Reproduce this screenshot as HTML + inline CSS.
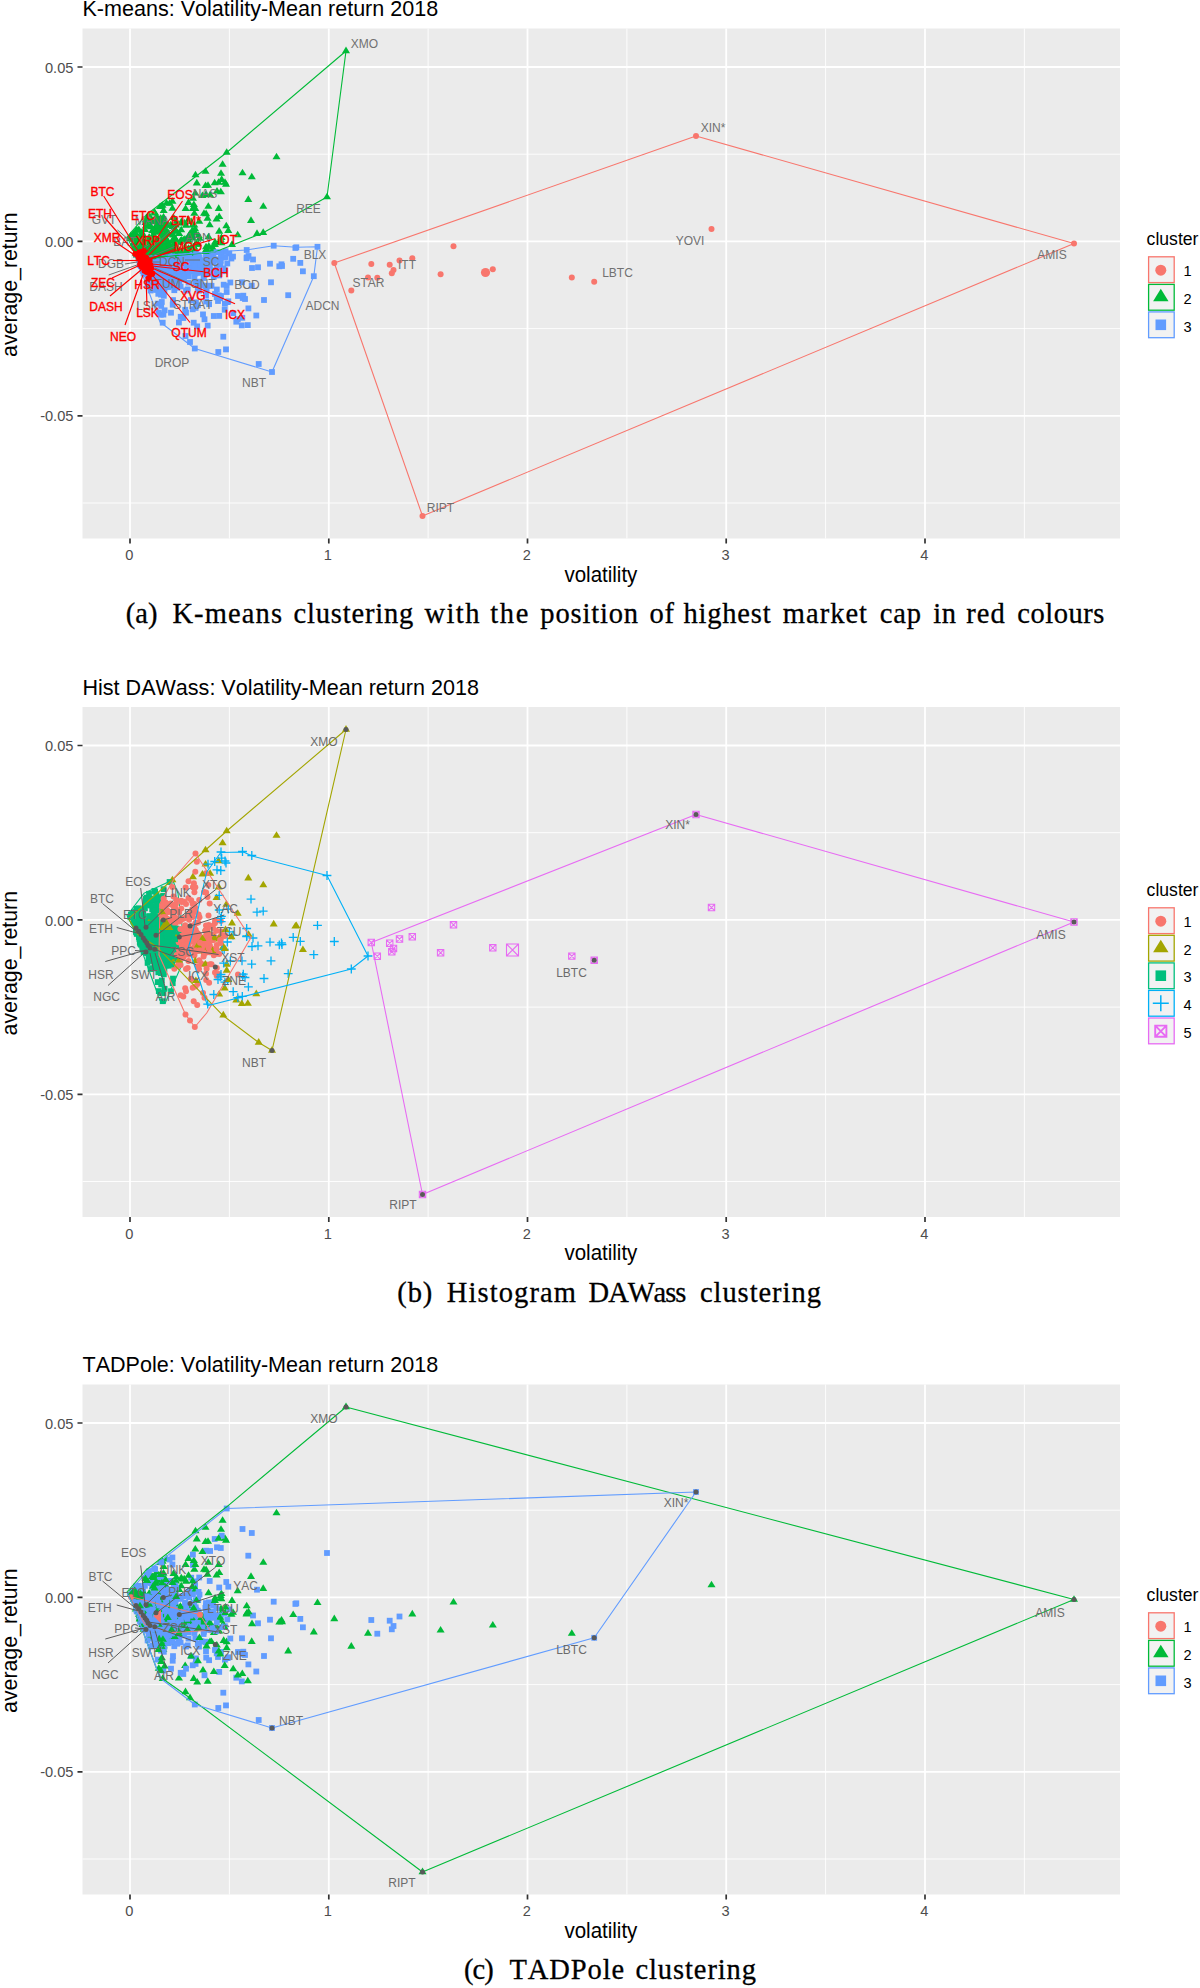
<!DOCTYPE html>
<html><head><meta charset="utf-8"><title>Clustering</title>
<style>html,body{margin:0;padding:0;background:#fff}svg{display:block}text{font-family:"Liberation Sans", Arial, sans-serif;font-kerning:none}text.cap{font-family:"Liberation Serif", "Times New Roman", serif}</style>
</head><body>
<svg width="1200" height="1988" viewBox="0 0 1200 1988">
<rect width="1200" height="1988" fill="#fff"/>
<g transform="translate(0,0)">
<rect x="82.5" y="28.5" width="1037.5" height="510" fill="#EBEBEB"/>
<path d="M229.4 28.5V538.5M428.1 28.5V538.5M626.9 28.5V538.5M825.6 28.5V538.5M1024.4 28.5V538.5M82.5 154.2H1120M82.5 328.6H1120M82.5 503H1120" stroke="#fff" stroke-width="0.9" fill="none"/>
<path d="M130 28.5V538.5M328.8 28.5V538.5M527.5 28.5V538.5M726.2 28.5V538.5M925 28.5V538.5M82.5 67H1120M82.5 241.4H1120M82.5 415.8H1120" stroke="#fff" stroke-width="1.8" fill="none"/>
<path d="M130 538.5v5M328.8 538.5v5M527.5 538.5v5M726.2 538.5v5M925 538.5v5M82.5 67h-5M82.5 241.4h-5M82.5 415.8h-5" stroke="#333" stroke-width="1.7" fill="none"/>
<g font-size="14.6" fill="#4D4D4D">
<text x="129.2" y="560.4" font-size="14.6" fill="#4D4D4D" text-anchor="middle">0</text>
<text x="327.9" y="560.4" font-size="14.6" fill="#4D4D4D" text-anchor="middle">1</text>
<text x="526.7" y="560.4" font-size="14.6" fill="#4D4D4D" text-anchor="middle">2</text>
<text x="725.5" y="560.4" font-size="14.6" fill="#4D4D4D" text-anchor="middle">3</text>
<text x="924.2" y="560.4" font-size="14.6" fill="#4D4D4D" text-anchor="middle">4</text>
<text x="73.4" y="72.6" font-size="14.6" fill="#4D4D4D" text-anchor="end">0.05</text>
<text x="73.4" y="247" font-size="14.6" fill="#4D4D4D" text-anchor="end">0.00</text>
<text x="73.4" y="421.4" font-size="14.6" fill="#4D4D4D" text-anchor="end">-0.05</text>
</g>
<text x="82.5" y="16.1" font-size="21.55" fill="#000">K-means: Volatility-Mean return 2018</text>
<text x="564.4" y="581.8" font-size="21.3" fill="#000" textLength="73" lengthAdjust="spacingAndGlyphs">volatility</text>
<text transform="translate(16.5,284.7) rotate(-90)" font-size="21.3" fill="#000" text-anchor="middle">average_return</text>
<text x="1146.6" y="245.3" font-size="17.6" fill="#000">cluster</text>
<rect x="1148.6" y="256.8" width="25.6" height="25.8" fill="#F2F2F2" stroke="#F8766D" stroke-width="1.3"/>
<circle cx="1160.8" cy="270.2" r="5.5" fill="#F8766D"/>
<text x="1183.6" y="276.4" font-size="14.6" fill="#000">1</text>
<rect x="1148.6" y="284.4" width="25.6" height="25.8" fill="#F2F2F2" stroke="#00BA38" stroke-width="1.3"/>
<path d="M1160.8 288.8L1168.5 301.2L1153.1 301.2Z" fill="#00BA38"/>
<text x="1183.6" y="303.9" font-size="14.6" fill="#000">2</text>
<rect x="1148.6" y="311.9" width="25.6" height="25.8" fill="#F2F2F2" stroke="#619CFF" stroke-width="1.3"/>
<rect x="1155.5" y="319.5" width="10.6" height="10.6" fill="#619CFF"/>
<text x="1183.6" y="331.5" font-size="14.6" fill="#000">3</text>
</g>
<text class="cap" y="623" font-size="28.5" fill="#000" stroke="#000" stroke-width="0.3"><tspan x="125.7" textLength="31.7" lengthAdjust="spacing">(a)</tspan> <tspan x="172.4" textLength="109.6" lengthAdjust="spacing">K-means</tspan> <tspan x="293.4" textLength="119.9" lengthAdjust="spacing">clustering</tspan> <tspan x="424.4" textLength="55" lengthAdjust="spacing">with</tspan> <tspan x="490.2" textLength="38.2" lengthAdjust="spacing">the</tspan> <tspan x="540.3" textLength="97.8" lengthAdjust="spacing">position</tspan> <tspan x="649.4" textLength="24.6" lengthAdjust="spacing">of</tspan> <tspan x="683.5" textLength="87.1" lengthAdjust="spacing">highest</tspan> <tspan x="782.8" textLength="84.2" lengthAdjust="spacing">market</tspan> <tspan x="879.8" textLength="41.2" lengthAdjust="spacing">cap</tspan> <tspan x="933.2" textLength="22.8" lengthAdjust="spacing">in</tspan> <tspan x="966.2" textLength="38.5" lengthAdjust="spacing">red</tspan> <tspan x="1017.3" textLength="87" lengthAdjust="spacing">colours</tspan></text>
<g transform="translate(0,678.5)">
<rect x="82.5" y="28.5" width="1037.5" height="510" fill="#EBEBEB"/>
<path d="M229.4 28.5V538.5M428.1 28.5V538.5M626.9 28.5V538.5M825.6 28.5V538.5M1024.4 28.5V538.5M82.5 154.2H1120M82.5 328.6H1120M82.5 503H1120" stroke="#fff" stroke-width="0.9" fill="none"/>
<path d="M130 28.5V538.5M328.8 28.5V538.5M527.5 28.5V538.5M726.2 28.5V538.5M925 28.5V538.5M82.5 67H1120M82.5 241.4H1120M82.5 415.8H1120" stroke="#fff" stroke-width="1.8" fill="none"/>
<path d="M130 538.5v5M328.8 538.5v5M527.5 538.5v5M726.2 538.5v5M925 538.5v5M82.5 67h-5M82.5 241.4h-5M82.5 415.8h-5" stroke="#333" stroke-width="1.7" fill="none"/>
<g font-size="14.6" fill="#4D4D4D">
<text x="129.2" y="560.4" font-size="14.6" fill="#4D4D4D" text-anchor="middle">0</text>
<text x="327.9" y="560.4" font-size="14.6" fill="#4D4D4D" text-anchor="middle">1</text>
<text x="526.7" y="560.4" font-size="14.6" fill="#4D4D4D" text-anchor="middle">2</text>
<text x="725.5" y="560.4" font-size="14.6" fill="#4D4D4D" text-anchor="middle">3</text>
<text x="924.2" y="560.4" font-size="14.6" fill="#4D4D4D" text-anchor="middle">4</text>
<text x="73.4" y="72.6" font-size="14.6" fill="#4D4D4D" text-anchor="end">0.05</text>
<text x="73.4" y="247" font-size="14.6" fill="#4D4D4D" text-anchor="end">0.00</text>
<text x="73.4" y="421.4" font-size="14.6" fill="#4D4D4D" text-anchor="end">-0.05</text>
</g>
<text x="82.5" y="16.1" font-size="21.55" fill="#000">Hist DAWass: Volatility-Mean return 2018</text>
<text x="564.4" y="581.8" font-size="21.3" fill="#000" textLength="73" lengthAdjust="spacingAndGlyphs">volatility</text>
<text transform="translate(16.5,284.7) rotate(-90)" font-size="21.3" fill="#000" text-anchor="middle">average_return</text>
<text x="1146.6" y="217.8" font-size="17.6" fill="#000">cluster</text>
<rect x="1148.6" y="229.3" width="25.6" height="25.8" fill="#F2F2F2" stroke="#F8766D" stroke-width="1.3"/>
<circle cx="1160.8" cy="242.7" r="5.5" fill="#F8766D"/>
<text x="1183.6" y="248.9" font-size="14.6" fill="#000">1</text>
<rect x="1148.6" y="256.8" width="25.6" height="25.8" fill="#F2F2F2" stroke="#A3A500" stroke-width="1.3"/>
<path d="M1160.8 261.2L1168.5 273.7L1153.1 273.7Z" fill="#A3A500"/>
<text x="1183.6" y="276.4" font-size="14.6" fill="#000">2</text>
<rect x="1148.6" y="284.4" width="25.6" height="25.8" fill="#F2F2F2" stroke="#00BF7D" stroke-width="1.3"/>
<rect x="1155.5" y="291.9" width="10.6" height="10.6" fill="#00BF7D"/>
<text x="1183.6" y="303.9" font-size="14.6" fill="#000">3</text>
<rect x="1148.6" y="311.9" width="25.6" height="25.8" fill="#F2F2F2" stroke="#00B0F6" stroke-width="1.3"/>
<path d="M1152.8 324.8H1168.8M1160.8 316.8V332.8" stroke="#00B0F6" stroke-width="1.5" fill="none"/>
<text x="1183.6" y="331.5" font-size="14.6" fill="#000">4</text>
<rect x="1148.6" y="339.5" width="25.6" height="25.8" fill="#F2F2F2" stroke="#E76BF3" stroke-width="1.3"/>
<path d="M1155.2 347.1H1166.4V358.3H1155.2ZM1155.2 347.1L1166.4 358.3M1155.2 358.3L1166.4 347.1" stroke="#E76BF3" stroke-width="1.9" fill="none"/>
<text x="1183.6" y="359.1" font-size="14.6" fill="#000">5</text>
</g>
<text class="cap" y="1301.5" font-size="28.5" fill="#000" stroke="#000" stroke-width="0.3"><tspan x="397.3" textLength="34.9" lengthAdjust="spacing">(b)</tspan> <tspan x="446.8" textLength="129.1" lengthAdjust="spacing">Histogram</tspan> <tspan x="588.6" textLength="97.7" lengthAdjust="spacing">DAWass</tspan> <tspan x="699.9" textLength="121" lengthAdjust="spacing">clustering</tspan></text>
<g transform="translate(0,1356)">
<rect x="82.5" y="28.5" width="1037.5" height="510" fill="#EBEBEB"/>
<path d="M229.4 28.5V538.5M428.1 28.5V538.5M626.9 28.5V538.5M825.6 28.5V538.5M1024.4 28.5V538.5M82.5 154.2H1120M82.5 328.6H1120M82.5 503H1120" stroke="#fff" stroke-width="0.9" fill="none"/>
<path d="M130 28.5V538.5M328.8 28.5V538.5M527.5 28.5V538.5M726.2 28.5V538.5M925 28.5V538.5M82.5 67H1120M82.5 241.4H1120M82.5 415.8H1120" stroke="#fff" stroke-width="1.8" fill="none"/>
<path d="M130 538.5v5M328.8 538.5v5M527.5 538.5v5M726.2 538.5v5M925 538.5v5M82.5 67h-5M82.5 241.4h-5M82.5 415.8h-5" stroke="#333" stroke-width="1.7" fill="none"/>
<g font-size="14.6" fill="#4D4D4D">
<text x="129.2" y="560.4" font-size="14.6" fill="#4D4D4D" text-anchor="middle">0</text>
<text x="327.9" y="560.4" font-size="14.6" fill="#4D4D4D" text-anchor="middle">1</text>
<text x="526.7" y="560.4" font-size="14.6" fill="#4D4D4D" text-anchor="middle">2</text>
<text x="725.5" y="560.4" font-size="14.6" fill="#4D4D4D" text-anchor="middle">3</text>
<text x="924.2" y="560.4" font-size="14.6" fill="#4D4D4D" text-anchor="middle">4</text>
<text x="73.4" y="72.6" font-size="14.6" fill="#4D4D4D" text-anchor="end">0.05</text>
<text x="73.4" y="247" font-size="14.6" fill="#4D4D4D" text-anchor="end">0.00</text>
<text x="73.4" y="421.4" font-size="14.6" fill="#4D4D4D" text-anchor="end">-0.05</text>
</g>
<text x="82.5" y="16.1" font-size="21.55" fill="#000">TADPole: Volatility-Mean return 2018</text>
<text x="564.4" y="581.8" font-size="21.3" fill="#000" textLength="73" lengthAdjust="spacingAndGlyphs">volatility</text>
<text transform="translate(16.5,284.7) rotate(-90)" font-size="21.3" fill="#000" text-anchor="middle">average_return</text>
<text x="1146.6" y="245.3" font-size="17.6" fill="#000">cluster</text>
<rect x="1148.6" y="256.8" width="25.6" height="25.8" fill="#F2F2F2" stroke="#F8766D" stroke-width="1.3"/>
<circle cx="1160.8" cy="270.2" r="5.5" fill="#F8766D"/>
<text x="1183.6" y="276.4" font-size="14.6" fill="#000">1</text>
<rect x="1148.6" y="284.4" width="25.6" height="25.8" fill="#F2F2F2" stroke="#00BA38" stroke-width="1.3"/>
<path d="M1160.8 288.8L1168.5 301.2L1153.1 301.2Z" fill="#00BA38"/>
<text x="1183.6" y="303.9" font-size="14.6" fill="#000">2</text>
<rect x="1148.6" y="311.9" width="25.6" height="25.8" fill="#F2F2F2" stroke="#619CFF" stroke-width="1.3"/>
<rect x="1155.5" y="319.5" width="10.6" height="10.6" fill="#619CFF"/>
<text x="1183.6" y="331.5" font-size="14.6" fill="#000">3</text>
</g>
<text class="cap" y="1979" font-size="28.5" fill="#000" stroke="#000" stroke-width="0.3"><tspan x="464" textLength="29.8" lengthAdjust="spacing">(c)</tspan> <tspan x="509.4" textLength="114.8" lengthAdjust="spacing">TADPole</tspan> <tspan x="635.5" textLength="120.5" lengthAdjust="spacing">clustering</tspan></text>
<g transform="translate(0,0)">
<path d="M207.1 247.4L211.2 253.9L203.1 253.9Z" fill="#00BA38"/>
<circle cx="422.5" cy="516" r="3" fill="#F8766D"/>
<rect x="151.7" y="279.4" width="5.8" height="5.8" fill="#619CFF"/>
<rect x="164.8" y="265.2" width="5.8" height="5.8" fill="#619CFF"/>
<path d="M192.9 194.3L197 200.8L188.9 200.8Z" fill="#00BA38"/>
<path d="M147.1 245.3L151.2 251.8L143.1 251.8Z" fill="#00BA38"/>
<rect x="173.1" y="264.4" width="5.8" height="5.8" fill="#619CFF"/>
<rect x="166.3" y="257" width="5.8" height="5.8" fill="#619CFF"/>
<path d="M146.9 248.7L150.9 255.2L142.8 255.2Z" fill="#00BA38"/>
<path d="M218.6 178.2L222.6 184.8L214.5 184.8Z" fill="#00BA38"/>
<rect x="194" y="256.8" width="5.8" height="5.8" fill="#619CFF"/>
<path d="M155.5 250.2L159.6 256.7L151.5 256.7Z" fill="#00BA38"/>
<path d="M163.6 216L167.7 222.5L159.6 222.5Z" fill="#00BA38"/>
<rect x="169.5" y="263.9" width="5.8" height="5.8" fill="#619CFF"/>
<path d="M206 245.7L210.1 252.2L202 252.2Z" fill="#00BA38"/>
<rect x="164.8" y="268.3" width="5.8" height="5.8" fill="#619CFF"/>
<rect x="181.9" y="272" width="5.8" height="5.8" fill="#619CFF"/>
<path d="M130.4 234.4L134.4 240.9L126.4 240.9Z" fill="#00BA38"/>
<rect x="176.6" y="257.7" width="5.8" height="5.8" fill="#619CFF"/>
<rect x="147.6" y="265.2" width="5.8" height="5.8" fill="#619CFF"/>
<rect x="170.1" y="297.2" width="5.8" height="5.8" fill="#619CFF"/>
<path d="M158.2 244.4L162.3 250.9L154.2 250.9Z" fill="#00BA38"/>
<path d="M157.4 240.7L161.4 247.2L153.3 247.2Z" fill="#00BA38"/>
<rect x="224.4" y="260.6" width="5.8" height="5.8" fill="#619CFF"/>
<path d="M173.1 241.4L177.2 248L169.1 248Z" fill="#00BA38"/>
<path d="M141.3 245.4L145.4 251.9L137.3 251.9Z" fill="#00BA38"/>
<rect x="221.9" y="267.3" width="5.8" height="5.8" fill="#619CFF"/>
<rect x="163.2" y="255.8" width="5.8" height="5.8" fill="#619CFF"/>
<path d="M208 181.2L212 187.8L204 187.8Z" fill="#00BA38"/>
<rect x="157.4" y="272.9" width="5.8" height="5.8" fill="#619CFF"/>
<path d="M191.3 247.1L195.4 253.7L187.3 253.7Z" fill="#00BA38"/>
<path d="M145.5 241.6L149.6 248.1L141.5 248.1Z" fill="#00BA38"/>
<path d="M154.4 248.9L158.4 255.5L150.3 255.5Z" fill="#00BA38"/>
<rect x="195.8" y="253.1" width="5.8" height="5.8" fill="#619CFF"/>
<rect x="172.1" y="263.7" width="5.8" height="5.8" fill="#619CFF"/>
<path d="M158.1 243.1L162.2 249.6L154.1 249.6Z" fill="#00BA38"/>
<path d="M141.4 252.6L145.4 259.2L137.4 259.2Z" fill="#00BA38"/>
<path d="M147.6 251.3L151.7 257.8L143.6 257.8Z" fill="#00BA38"/>
<rect x="165.3" y="260.2" width="5.8" height="5.8" fill="#619CFF"/>
<rect x="160.5" y="311.7" width="5.8" height="5.8" fill="#619CFF"/>
<path d="M159.9 243.8L164 250.3L155.9 250.3Z" fill="#00BA38"/>
<rect x="195.5" y="265.8" width="5.8" height="5.8" fill="#619CFF"/>
<path d="M179.1 229.5L183.2 236.1L175.1 236.1Z" fill="#00BA38"/>
<path d="M168.9 239.4L172.9 245.9L164.8 245.9Z" fill="#00BA38"/>
<rect x="180" y="275.9" width="5.8" height="5.8" fill="#619CFF"/>
<rect x="177.2" y="274.7" width="5.8" height="5.8" fill="#619CFF"/>
<path d="M193 234L197 240.6L188.9 240.6Z" fill="#00BA38"/>
<rect x="166.9" y="271.3" width="5.8" height="5.8" fill="#619CFF"/>
<rect x="158.1" y="277.1" width="5.8" height="5.8" fill="#619CFF"/>
<path d="M152.4 249.2L156.5 255.7L148.4 255.7Z" fill="#00BA38"/>
<rect x="160.5" y="290.8" width="5.8" height="5.8" fill="#619CFF"/>
<rect x="203.8" y="256.7" width="5.8" height="5.8" fill="#619CFF"/>
<rect x="145.7" y="275.9" width="5.8" height="5.8" fill="#619CFF"/>
<rect x="169.8" y="301.8" width="5.8" height="5.8" fill="#619CFF"/>
<rect x="146.1" y="257.2" width="5.8" height="5.8" fill="#619CFF"/>
<path d="M185.1 243.7L189.2 250.2L181.1 250.2Z" fill="#00BA38"/>
<rect x="174.8" y="265.5" width="5.8" height="5.8" fill="#619CFF"/>
<rect x="141.9" y="256.5" width="5.8" height="5.8" fill="#619CFF"/>
<rect x="206" y="256.9" width="5.8" height="5.8" fill="#619CFF"/>
<path d="M161.9 222.7L166 229.2L157.9 229.2Z" fill="#00BA38"/>
<rect x="168.4" y="274.5" width="5.8" height="5.8" fill="#619CFF"/>
<rect x="190.5" y="255.5" width="5.8" height="5.8" fill="#619CFF"/>
<rect x="297.4" y="260" width="5.8" height="5.8" fill="#619CFF"/>
<rect x="188.9" y="259.2" width="5.8" height="5.8" fill="#619CFF"/>
<path d="M179.7 248.2L183.8 254.7L175.7 254.7Z" fill="#00BA38"/>
<path d="M162.5 201.3L166.6 207.8L158.5 207.8Z" fill="#00BA38"/>
<rect x="222.4" y="254.1" width="5.8" height="5.8" fill="#619CFF"/>
<path d="M221.7 175.3L225.7 181.9L217.6 181.9Z" fill="#00BA38"/>
<rect x="159.2" y="258.5" width="5.8" height="5.8" fill="#619CFF"/>
<path d="M176.2 236.5L180.2 243L172.1 243Z" fill="#00BA38"/>
<path d="M168.9 250.7L173 257.3L164.9 257.3Z" fill="#00BA38"/>
<path d="M208.8 242L212.8 248.6L204.7 248.6Z" fill="#00BA38"/>
<rect x="191" y="266" width="5.8" height="5.8" fill="#619CFF"/>
<rect x="188.1" y="297.5" width="5.8" height="5.8" fill="#619CFF"/>
<rect x="172.1" y="257.2" width="5.8" height="5.8" fill="#619CFF"/>
<path d="M146.7 249.8L150.7 256.3L142.7 256.3Z" fill="#00BA38"/>
<path d="M188.5 215.2L192.6 221.8L184.5 221.8Z" fill="#00BA38"/>
<rect x="185.5" y="262.3" width="5.8" height="5.8" fill="#619CFF"/>
<rect x="156.7" y="258.7" width="5.8" height="5.8" fill="#619CFF"/>
<path d="M193.9 200.4L197.9 206.9L189.8 206.9Z" fill="#00BA38"/>
<rect x="194.3" y="323.5" width="5.8" height="5.8" fill="#619CFF"/>
<path d="M171.9 244L176 250.5L167.9 250.5Z" fill="#00BA38"/>
<path d="M175.5 236.7L179.5 243.3L171.4 243.3Z" fill="#00BA38"/>
<path d="M189.7 229.9L193.7 236.4L185.7 236.4Z" fill="#00BA38"/>
<rect x="152.7" y="259.8" width="5.8" height="5.8" fill="#619CFF"/>
<rect x="213.8" y="294.4" width="5.8" height="5.8" fill="#619CFF"/>
<rect x="144.7" y="281.5" width="5.8" height="5.8" fill="#619CFF"/>
<rect x="171.2" y="272.3" width="5.8" height="5.8" fill="#619CFF"/>
<rect x="145.2" y="271.1" width="5.8" height="5.8" fill="#619CFF"/>
<path d="M150.4 250L154.5 256.6L146.4 256.6Z" fill="#00BA38"/>
<path d="M140.3 233.2L144.3 239.8L136.2 239.8Z" fill="#00BA38"/>
<rect x="184.3" y="271" width="5.8" height="5.8" fill="#619CFF"/>
<path d="M170.8 246.9L174.9 253.4L166.8 253.4Z" fill="#00BA38"/>
<path d="M165 250.7L169 257.2L161 257.2Z" fill="#00BA38"/>
<rect x="314.6" y="243.9" width="5.8" height="5.8" fill="#619CFF"/>
<rect x="156.2" y="269" width="5.8" height="5.8" fill="#619CFF"/>
<rect x="151.9" y="255.7" width="5.8" height="5.8" fill="#619CFF"/>
<path d="M208.5 232.7L212.6 239.2L204.5 239.2Z" fill="#00BA38"/>
<path d="M192.2 226.5L196.3 233L188.2 233Z" fill="#00BA38"/>
<rect x="173.1" y="254.6" width="5.8" height="5.8" fill="#619CFF"/>
<rect x="161.1" y="261" width="5.8" height="5.8" fill="#619CFF"/>
<path d="M146.7 214.7L150.7 221.2L142.6 221.2Z" fill="#00BA38"/>
<rect x="172.2" y="257.8" width="5.8" height="5.8" fill="#619CFF"/>
<rect x="152.1" y="271.1" width="5.8" height="5.8" fill="#619CFF"/>
<path d="M193.7 248.1L197.7 254.6L189.6 254.6Z" fill="#00BA38"/>
<path d="M150.5 241.2L154.6 247.7L146.5 247.7Z" fill="#00BA38"/>
<rect x="165.4" y="257.4" width="5.8" height="5.8" fill="#619CFF"/>
<path d="M160.5 239.3L164.5 245.8L156.4 245.8Z" fill="#00BA38"/>
<path d="M175.2 225.2L179.2 231.7L171.1 231.7Z" fill="#00BA38"/>
<path d="M138.2 250.3L142.3 256.8L134.2 256.8Z" fill="#00BA38"/>
<rect x="158.9" y="299.1" width="5.8" height="5.8" fill="#619CFF"/>
<path d="M195.1 224.7L199.1 231.2L191 231.2Z" fill="#00BA38"/>
<path d="M176.7 245.8L180.7 252.4L172.6 252.4Z" fill="#00BA38"/>
<path d="M149.5 233.5L153.6 240L145.5 240Z" fill="#00BA38"/>
<rect x="177.9" y="258.1" width="5.8" height="5.8" fill="#619CFF"/>
<rect x="153" y="262.4" width="5.8" height="5.8" fill="#619CFF"/>
<path d="M145 252.9L149 259.4L140.9 259.4Z" fill="#00BA38"/>
<rect x="200.1" y="257.8" width="5.8" height="5.8" fill="#619CFF"/>
<rect x="178.8" y="255.5" width="5.8" height="5.8" fill="#619CFF"/>
<rect x="205.6" y="266.4" width="5.8" height="5.8" fill="#619CFF"/>
<rect x="139.7" y="268" width="5.8" height="5.8" fill="#619CFF"/>
<rect x="143.3" y="257.8" width="5.8" height="5.8" fill="#619CFF"/>
<rect x="153.8" y="266.2" width="5.8" height="5.8" fill="#619CFF"/>
<path d="M148.5 248.9L152.5 255.4L144.4 255.4Z" fill="#00BA38"/>
<path d="M160.5 249.4L164.5 255.9L156.4 255.9Z" fill="#00BA38"/>
<rect x="226.4" y="250.5" width="5.8" height="5.8" fill="#619CFF"/>
<rect x="215.3" y="256.5" width="5.8" height="5.8" fill="#619CFF"/>
<path d="M154.8 247.1L158.9 253.6L150.8 253.6Z" fill="#00BA38"/>
<path d="M183.3 235.8L187.3 242.4L179.2 242.4Z" fill="#00BA38"/>
<path d="M152.4 234.9L156.4 241.4L148.3 241.4Z" fill="#00BA38"/>
<path d="M143.8 253.4L147.9 259.9L139.8 259.9Z" fill="#00BA38"/>
<rect x="137.4" y="259.5" width="5.8" height="5.8" fill="#619CFF"/>
<rect x="154.2" y="286.9" width="5.8" height="5.8" fill="#619CFF"/>
<path d="M163.6 206.4L167.7 212.9L159.6 212.9Z" fill="#00BA38"/>
<path d="M148.6 251.2L152.7 257.7L144.6 257.7Z" fill="#00BA38"/>
<rect x="160.3" y="259.1" width="5.8" height="5.8" fill="#619CFF"/>
<rect x="155.4" y="285.3" width="5.8" height="5.8" fill="#619CFF"/>
<path d="M157.2 250.2L161.2 256.8L153.1 256.8Z" fill="#00BA38"/>
<path d="M148 248.6L152.1 255.2L144 255.2Z" fill="#00BA38"/>
<path d="M166.5 250.6L170.5 257.1L162.4 257.1Z" fill="#00BA38"/>
<path d="M190.9 233.4L195 240L186.9 240Z" fill="#00BA38"/>
<rect x="152.5" y="264.1" width="5.8" height="5.8" fill="#619CFF"/>
<rect x="175.9" y="278.7" width="5.8" height="5.8" fill="#619CFF"/>
<path d="M194.3 221L198.3 227.6L190.2 227.6Z" fill="#00BA38"/>
<path d="M257 229.3L261 235.9L253 235.9Z" fill="#00BA38"/>
<rect x="205.1" y="250.2" width="5.8" height="5.8" fill="#619CFF"/>
<path d="M143.6 251.8L147.6 258.3L139.5 258.3Z" fill="#00BA38"/>
<path d="M148.4 249.4L152.4 255.9L144.3 255.9Z" fill="#00BA38"/>
<path d="M145.5 218.5L149.6 225L141.5 225Z" fill="#00BA38"/>
<rect x="230.3" y="310.3" width="5.8" height="5.8" fill="#619CFF"/>
<path d="M165.2 249.2L169.2 255.7L161.1 255.7Z" fill="#00BA38"/>
<rect x="157.1" y="258.8" width="5.8" height="5.8" fill="#619CFF"/>
<path d="M175 239.9L179 246.4L170.9 246.4Z" fill="#00BA38"/>
<rect x="139.6" y="261.2" width="5.8" height="5.8" fill="#619CFF"/>
<rect x="180" y="276.6" width="5.8" height="5.8" fill="#619CFF"/>
<rect x="151.4" y="263.8" width="5.8" height="5.8" fill="#619CFF"/>
<rect x="239.4" y="314.9" width="5.8" height="5.8" fill="#619CFF"/>
<path d="M191.3 247.7L195.4 254.2L187.3 254.2Z" fill="#00BA38"/>
<path d="M143.7 251.7L147.8 258.2L139.7 258.2Z" fill="#00BA38"/>
<rect x="192.7" y="305" width="5.8" height="5.8" fill="#619CFF"/>
<rect x="188.2" y="297.3" width="5.8" height="5.8" fill="#619CFF"/>
<rect x="167.8" y="263.2" width="5.8" height="5.8" fill="#619CFF"/>
<path d="M192.2 231.5L196.2 238L188.2 238Z" fill="#00BA38"/>
<path d="M150.1 240.1L154.2 246.7L146.1 246.7Z" fill="#00BA38"/>
<path d="M183 247.6L187 254.1L178.9 254.1Z" fill="#00BA38"/>
<rect x="138.2" y="260.1" width="5.8" height="5.8" fill="#619CFF"/>
<rect x="255.1" y="264.4" width="5.8" height="5.8" fill="#619CFF"/>
<path d="M185.6 204.6L189.7 211.1L181.6 211.1Z" fill="#00BA38"/>
<path d="M163.6 219.8L167.6 226.3L159.5 226.3Z" fill="#00BA38"/>
<rect x="199" y="264.8" width="5.8" height="5.8" fill="#619CFF"/>
<rect x="150.6" y="258.8" width="5.8" height="5.8" fill="#619CFF"/>
<rect x="156.9" y="256" width="5.8" height="5.8" fill="#619CFF"/>
<rect x="141.3" y="259.4" width="5.8" height="5.8" fill="#619CFF"/>
<path d="M150.2 250.4L154.2 256.9L146.1 256.9Z" fill="#00BA38"/>
<rect x="181.5" y="265.7" width="5.8" height="5.8" fill="#619CFF"/>
<path d="M149.3 236.7L153.4 243.2L145.3 243.2Z" fill="#00BA38"/>
<path d="M142.5 238.3L146.6 244.8L138.5 244.8Z" fill="#00BA38"/>
<path d="M140.1 250.3L144.1 256.8L136 256.8Z" fill="#00BA38"/>
<rect x="151.8" y="273" width="5.8" height="5.8" fill="#619CFF"/>
<path d="M147.4 253.3L151.5 259.8L143.4 259.8Z" fill="#00BA38"/>
<path d="M136.8 251L140.9 257.6L132.8 257.6Z" fill="#00BA38"/>
<path d="M162.1 229.5L166.2 236L158.1 236Z" fill="#00BA38"/>
<path d="M152.2 246.5L156.2 253.1L148.1 253.1Z" fill="#00BA38"/>
<rect x="187.1" y="339.1" width="5.8" height="5.8" fill="#619CFF"/>
<rect x="206.4" y="264.7" width="5.8" height="5.8" fill="#619CFF"/>
<rect x="167.1" y="266.9" width="5.8" height="5.8" fill="#619CFF"/>
<rect x="155.6" y="256.5" width="5.8" height="5.8" fill="#619CFF"/>
<rect x="239.8" y="295.1" width="5.8" height="5.8" fill="#619CFF"/>
<path d="M193.8 242.7L197.8 249.2L189.8 249.2Z" fill="#00BA38"/>
<rect x="178.1" y="260.6" width="5.8" height="5.8" fill="#619CFF"/>
<rect x="213.2" y="272.3" width="5.8" height="5.8" fill="#619CFF"/>
<rect x="310.9" y="273.3" width="5.8" height="5.8" fill="#619CFF"/>
<path d="M145.2 250L149.2 256.5L141.2 256.5Z" fill="#00BA38"/>
<path d="M220.7 235.4L224.7 242L216.6 242Z" fill="#00BA38"/>
<rect x="143.1" y="263.5" width="5.8" height="5.8" fill="#619CFF"/>
<path d="M207.1 246.1L211.1 252.6L203 252.6Z" fill="#00BA38"/>
<path d="M155 227.9L159.1 234.4L151 234.4Z" fill="#00BA38"/>
<rect x="190" y="268.4" width="5.8" height="5.8" fill="#619CFF"/>
<path d="M168.7 229.1L172.7 235.6L164.7 235.6Z" fill="#00BA38"/>
<path d="M204 209.2L208 215.8L200 215.8Z" fill="#00BA38"/>
<path d="M137.1 226.3L141.1 232.8L133.1 232.8Z" fill="#00BA38"/>
<rect x="155.9" y="265.5" width="5.8" height="5.8" fill="#619CFF"/>
<rect x="192.1" y="255.1" width="5.8" height="5.8" fill="#619CFF"/>
<rect x="255.8" y="361.1" width="5.8" height="5.8" fill="#619CFF"/>
<rect x="217.6" y="261.6" width="5.8" height="5.8" fill="#619CFF"/>
<rect x="220.4" y="333.8" width="5.8" height="5.8" fill="#619CFF"/>
<path d="M174.9 238.8L178.9 245.3L170.8 245.3Z" fill="#00BA38"/>
<path d="M139.6 249.1L143.7 255.6L135.6 255.6Z" fill="#00BA38"/>
<rect x="200.7" y="275.1" width="5.8" height="5.8" fill="#619CFF"/>
<rect x="144.7" y="258.7" width="5.8" height="5.8" fill="#619CFF"/>
<rect x="171.2" y="276.4" width="5.8" height="5.8" fill="#619CFF"/>
<rect x="151.7" y="261.3" width="5.8" height="5.8" fill="#619CFF"/>
<rect x="146.6" y="275" width="5.8" height="5.8" fill="#619CFF"/>
<path d="M218.7 204.3L222.7 210.9L214.7 210.9Z" fill="#00BA38"/>
<path d="M176.3 251.3L180.3 257.9L172.2 257.9Z" fill="#00BA38"/>
<path d="M276.5 152.7L280.5 159.2L272.5 159.2Z" fill="#00BA38"/>
<path d="M151.6 244.5L155.6 251L147.5 251Z" fill="#00BA38"/>
<path d="M170.7 220.7L174.7 227.2L166.6 227.2Z" fill="#00BA38"/>
<rect x="163" y="268" width="5.8" height="5.8" fill="#619CFF"/>
<path d="M151.7 236.5L155.7 243.1L147.6 243.1Z" fill="#00BA38"/>
<rect x="213.7" y="267.9" width="5.8" height="5.8" fill="#619CFF"/>
<path d="M141.1 252.8L145.2 259.3L137.1 259.3Z" fill="#00BA38"/>
<rect x="276.4" y="263.4" width="5.8" height="5.8" fill="#619CFF"/>
<rect x="142.2" y="260.9" width="5.8" height="5.8" fill="#619CFF"/>
<path d="M157.3 247.3L161.4 253.8L153.3 253.8Z" fill="#00BA38"/>
<rect x="173.2" y="256.8" width="5.8" height="5.8" fill="#619CFF"/>
<path d="M220.8 238.2L224.8 244.7L216.7 244.7Z" fill="#00BA38"/>
<rect x="204.3" y="261.9" width="5.8" height="5.8" fill="#619CFF"/>
<path d="M138.6 233.5L142.6 240L134.5 240Z" fill="#00BA38"/>
<rect x="218.1" y="254.5" width="5.8" height="5.8" fill="#619CFF"/>
<path d="M198.2 239.7L202.3 246.2L194.2 246.2Z" fill="#00BA38"/>
<path d="M152.1 246.7L156.2 253.3L148.1 253.3Z" fill="#00BA38"/>
<rect x="171.4" y="287.3" width="5.8" height="5.8" fill="#619CFF"/>
<path d="M154 253.1L158.1 259.6L150 259.6Z" fill="#00BA38"/>
<rect x="216.3" y="313" width="5.8" height="5.8" fill="#619CFF"/>
<path d="M166.7 251.9L170.7 258.5L162.6 258.5Z" fill="#00BA38"/>
<path d="M150.2 251.2L154.3 257.7L146.2 257.7Z" fill="#00BA38"/>
<rect x="166.4" y="256.1" width="5.8" height="5.8" fill="#619CFF"/>
<path d="M144.7 253.2L148.7 259.7L140.6 259.7Z" fill="#00BA38"/>
<path d="M150 245.5L154 252L145.9 252Z" fill="#00BA38"/>
<path d="M175.3 234.6L179.3 241.2L171.2 241.2Z" fill="#00BA38"/>
<path d="M162.3 244.9L166.4 251.4L158.3 251.4Z" fill="#00BA38"/>
<rect x="140.4" y="267.7" width="5.8" height="5.8" fill="#619CFF"/>
<path d="M184 248.3L188 254.8L179.9 254.8Z" fill="#00BA38"/>
<rect x="220.8" y="281.8" width="5.8" height="5.8" fill="#619CFF"/>
<rect x="149" y="255.5" width="5.8" height="5.8" fill="#619CFF"/>
<rect x="148.4" y="279.5" width="5.8" height="5.8" fill="#619CFF"/>
<path d="M152.5 239.4L156.5 245.9L148.5 245.9Z" fill="#00BA38"/>
<rect x="158.3" y="303" width="5.8" height="5.8" fill="#619CFF"/>
<path d="M189.1 237L193.1 243.5L185 243.5Z" fill="#00BA38"/>
<rect x="300" y="268.4" width="5.8" height="5.8" fill="#619CFF"/>
<path d="M164.4 234.4L168.4 241L160.3 241Z" fill="#00BA38"/>
<rect x="140.6" y="256.8" width="5.8" height="5.8" fill="#619CFF"/>
<rect x="155.8" y="257.3" width="5.8" height="5.8" fill="#619CFF"/>
<rect x="176.1" y="278.8" width="5.8" height="5.8" fill="#619CFF"/>
<path d="M177.2 247.9L181.2 254.4L173.1 254.4Z" fill="#00BA38"/>
<rect x="165.6" y="265.3" width="5.8" height="5.8" fill="#619CFF"/>
<rect x="203.7" y="255.7" width="5.8" height="5.8" fill="#619CFF"/>
<rect x="158.3" y="274.9" width="5.8" height="5.8" fill="#619CFF"/>
<rect x="162.3" y="260.5" width="5.8" height="5.8" fill="#619CFF"/>
<path d="M151.9 251L156 257.5L147.9 257.5Z" fill="#00BA38"/>
<rect x="149.1" y="278.6" width="5.8" height="5.8" fill="#619CFF"/>
<rect x="151.2" y="278.2" width="5.8" height="5.8" fill="#619CFF"/>
<path d="M166.2 252.1L170.2 258.7L162.1 258.7Z" fill="#00BA38"/>
<rect x="145" y="259" width="5.8" height="5.8" fill="#619CFF"/>
<circle cx="711.5" cy="229" r="3" fill="#F8766D"/>
<rect x="145.1" y="265.3" width="5.8" height="5.8" fill="#619CFF"/>
<path d="M188.6 232.1L192.7 238.6L184.6 238.6Z" fill="#00BA38"/>
<rect x="151.6" y="264.5" width="5.8" height="5.8" fill="#619CFF"/>
<path d="M154 237.3L158.1 243.9L150 243.9Z" fill="#00BA38"/>
<path d="M147.7 252L151.7 258.6L143.6 258.6Z" fill="#00BA38"/>
<path d="M165.2 248.5L169.3 255.1L161.2 255.1Z" fill="#00BA38"/>
<rect x="209.3" y="267.4" width="5.8" height="5.8" fill="#619CFF"/>
<path d="M173 241.2L177.1 247.7L169 247.7Z" fill="#00BA38"/>
<path d="M181.2 225.7L185.2 232.3L177.1 232.3Z" fill="#00BA38"/>
<path d="M136.8 243.6L140.9 250.1L132.8 250.1Z" fill="#00BA38"/>
<path d="M176.5 250.9L180.6 257.4L172.5 257.4Z" fill="#00BA38"/>
<path d="M139.6 247.6L143.6 254.1L135.5 254.1Z" fill="#00BA38"/>
<rect x="184.8" y="286.5" width="5.8" height="5.8" fill="#619CFF"/>
<path d="M149.8 245.7L153.8 252.3L145.7 252.3Z" fill="#00BA38"/>
<path d="M138.4 234.1L142.5 240.7L134.4 240.7Z" fill="#00BA38"/>
<circle cx="371.3" cy="264" r="3" fill="#F8766D"/>
<rect x="184.3" y="264.6" width="5.8" height="5.8" fill="#619CFF"/>
<path d="M140.5 245.7L144.5 252.2L136.4 252.2Z" fill="#00BA38"/>
<rect x="167.1" y="255.4" width="5.8" height="5.8" fill="#619CFF"/>
<path d="M156.4 243.2L160.4 249.8L152.4 249.8Z" fill="#00BA38"/>
<path d="M172.3 251.7L176.3 258.2L168.2 258.2Z" fill="#00BA38"/>
<rect x="191.2" y="254.1" width="5.8" height="5.8" fill="#619CFF"/>
<path d="M167 227.2L171 233.8L162.9 233.8Z" fill="#00BA38"/>
<rect x="160.8" y="287.3" width="5.8" height="5.8" fill="#619CFF"/>
<path d="M168.3 251.8L172.3 258.3L164.2 258.3Z" fill="#00BA38"/>
<rect x="155.9" y="262.2" width="5.8" height="5.8" fill="#619CFF"/>
<circle cx="453.5" cy="246.3" r="3" fill="#F8766D"/>
<rect x="201" y="272.9" width="5.8" height="5.8" fill="#619CFF"/>
<rect x="176.2" y="268.9" width="5.8" height="5.8" fill="#619CFF"/>
<path d="M174.9 248.7L179 255.2L170.9 255.2Z" fill="#00BA38"/>
<rect x="222.6" y="248.4" width="5.8" height="5.8" fill="#619CFF"/>
<rect x="173.3" y="273.2" width="5.8" height="5.8" fill="#619CFF"/>
<path d="M141.7 250.8L145.8 257.3L137.7 257.3Z" fill="#00BA38"/>
<rect x="156.3" y="280.2" width="5.8" height="5.8" fill="#619CFF"/>
<path d="M143 248.6L147 255.1L138.9 255.1Z" fill="#00BA38"/>
<rect x="166.3" y="276" width="5.8" height="5.8" fill="#619CFF"/>
<path d="M147.5 247.2L151.5 253.7L143.5 253.7Z" fill="#00BA38"/>
<path d="M160.7 243.2L164.8 249.7L156.7 249.7Z" fill="#00BA38"/>
<rect x="194.9" y="284.9" width="5.8" height="5.8" fill="#619CFF"/>
<rect x="146.4" y="262.1" width="5.8" height="5.8" fill="#619CFF"/>
<rect x="185.4" y="270.7" width="5.8" height="5.8" fill="#619CFF"/>
<path d="M202.4 191.5L206.4 198.1L198.4 198.1Z" fill="#00BA38"/>
<path d="M137.1 249.3L141.2 255.9L133.1 255.9Z" fill="#00BA38"/>
<rect x="166.4" y="272.4" width="5.8" height="5.8" fill="#619CFF"/>
<path d="M143.1 247.8L147.1 254.3L139 254.3Z" fill="#00BA38"/>
<path d="M175.5 240.6L179.6 247.2L171.5 247.2Z" fill="#00BA38"/>
<circle cx="351.3" cy="290.5" r="3" fill="#F8766D"/>
<path d="M138.3 235.9L142.4 242.4L134.3 242.4Z" fill="#00BA38"/>
<circle cx="368" cy="277.5" r="3" fill="#F8766D"/>
<rect x="192" y="255.4" width="5.8" height="5.8" fill="#619CFF"/>
<path d="M162.4 246.9L166.5 253.4L158.4 253.4Z" fill="#00BA38"/>
<rect x="155.1" y="254.7" width="5.8" height="5.8" fill="#619CFF"/>
<path d="M169.4 243.8L173.5 250.3L165.4 250.3Z" fill="#00BA38"/>
<path d="M346 46.6L350 53.2L342 53.2Z" fill="#00BA38"/>
<rect x="221.3" y="267.9" width="5.8" height="5.8" fill="#619CFF"/>
<rect x="218.1" y="250" width="5.8" height="5.8" fill="#619CFF"/>
<path d="M184.2 218.8L188.2 225.3L180.1 225.3Z" fill="#00BA38"/>
<rect x="239.1" y="279.4" width="5.8" height="5.8" fill="#619CFF"/>
<rect x="253.4" y="312.6" width="5.8" height="5.8" fill="#619CFF"/>
<path d="M242.5 168.7L246.5 175.2L238.5 175.2Z" fill="#00BA38"/>
<rect x="210.9" y="313.1" width="5.8" height="5.8" fill="#619CFF"/>
<rect x="182.6" y="333.1" width="5.8" height="5.8" fill="#619CFF"/>
<path d="M163.5 233.4L167.5 239.9L159.4 239.9Z" fill="#00BA38"/>
<path d="M188.5 198.3L192.6 204.9L184.5 204.9Z" fill="#00BA38"/>
<rect x="170.5" y="273.2" width="5.8" height="5.8" fill="#619CFF"/>
<rect x="164.1" y="257.5" width="5.8" height="5.8" fill="#619CFF"/>
<rect x="203.1" y="253.9" width="5.8" height="5.8" fill="#619CFF"/>
<path d="M155.2 223.3L159.2 229.8L151.1 229.8Z" fill="#00BA38"/>
<rect x="147.2" y="265.1" width="5.8" height="5.8" fill="#619CFF"/>
<path d="M130.9 231.6L135 238.2L126.9 238.2Z" fill="#00BA38"/>
<rect x="207.8" y="268.3" width="5.8" height="5.8" fill="#619CFF"/>
<rect x="243.8" y="247.1" width="5.8" height="5.8" fill="#619CFF"/>
<path d="M161.6 240.4L165.7 247L157.6 247Z" fill="#00BA38"/>
<rect x="146.1" y="259.9" width="5.8" height="5.8" fill="#619CFF"/>
<path d="M145.8 216.1L149.8 222.6L141.7 222.6Z" fill="#00BA38"/>
<path d="M176.3 217L180.4 223.5L172.3 223.5Z" fill="#00BA38"/>
<rect x="185" y="253.2" width="5.8" height="5.8" fill="#619CFF"/>
<path d="M139.3 241L143.3 247.5L135.2 247.5Z" fill="#00BA38"/>
<rect x="186.4" y="268" width="5.8" height="5.8" fill="#619CFF"/>
<path d="M155.1 208.9L159.1 215.4L151 215.4Z" fill="#00BA38"/>
<rect x="161" y="273.1" width="5.8" height="5.8" fill="#619CFF"/>
<rect x="163.2" y="284" width="5.8" height="5.8" fill="#619CFF"/>
<rect x="137.2" y="262.2" width="5.8" height="5.8" fill="#619CFF"/>
<rect x="217.3" y="295.4" width="5.8" height="5.8" fill="#619CFF"/>
<path d="M158.5 242.4L162.6 248.9L154.5 248.9Z" fill="#00BA38"/>
<rect x="147.9" y="279" width="5.8" height="5.8" fill="#619CFF"/>
<circle cx="1074" cy="243.5" r="3" fill="#F8766D"/>
<rect x="168.7" y="260.9" width="5.8" height="5.8" fill="#619CFF"/>
<rect x="202.4" y="282.8" width="5.8" height="5.8" fill="#619CFF"/>
<rect x="206.6" y="253.9" width="5.8" height="5.8" fill="#619CFF"/>
<path d="M147.9 246.8L151.9 253.3L143.8 253.3Z" fill="#00BA38"/>
<rect x="164.1" y="283.6" width="5.8" height="5.8" fill="#619CFF"/>
<path d="M140.3 253.3L144.3 259.9L136.2 259.9Z" fill="#00BA38"/>
<path d="M161.4 202L165.5 208.5L157.4 208.5Z" fill="#00BA38"/>
<rect x="172.4" y="264.9" width="5.8" height="5.8" fill="#619CFF"/>
<path d="M225 178.2L229 184.7L221 184.7Z" fill="#00BA38"/>
<rect x="176.3" y="274.1" width="5.8" height="5.8" fill="#619CFF"/>
<rect x="161.9" y="259.4" width="5.8" height="5.8" fill="#619CFF"/>
<rect x="166" y="263.5" width="5.8" height="5.8" fill="#619CFF"/>
<rect x="153.9" y="272.5" width="5.8" height="5.8" fill="#619CFF"/>
<path d="M149.1 253.1L153.1 259.7L145 259.7Z" fill="#00BA38"/>
<path d="M158.7 246L162.7 252.6L154.6 252.6Z" fill="#00BA38"/>
<circle cx="440.6" cy="274.3" r="3" fill="#F8766D"/>
<path d="M147.2 241.9L151.2 248.5L143.1 248.5Z" fill="#00BA38"/>
<path d="M207.5 214.3L211.6 220.8L203.5 220.8Z" fill="#00BA38"/>
<path d="M156.4 252.6L160.5 259.2L152.4 259.2Z" fill="#00BA38"/>
<path d="M179.5 238.6L183.6 245.1L175.5 245.1Z" fill="#00BA38"/>
<circle cx="391.8" cy="273.3" r="3" fill="#F8766D"/>
<path d="M154.7 227.2L158.7 233.7L150.7 233.7Z" fill="#00BA38"/>
<rect x="206.6" y="259.1" width="5.8" height="5.8" fill="#619CFF"/>
<path d="M139.7 242.6L143.7 249.1L135.6 249.1Z" fill="#00BA38"/>
<path d="M158.7 246.3L162.8 252.8L154.7 252.8Z" fill="#00BA38"/>
<rect x="245.5" y="305.5" width="5.8" height="5.8" fill="#619CFF"/>
<rect x="188.4" y="268" width="5.8" height="5.8" fill="#619CFF"/>
<rect x="173.9" y="253.5" width="5.8" height="5.8" fill="#619CFF"/>
<rect x="145.8" y="260.9" width="5.8" height="5.8" fill="#619CFF"/>
<rect x="245.6" y="253.1" width="5.8" height="5.8" fill="#619CFF"/>
<rect x="200.9" y="270.9" width="5.8" height="5.8" fill="#619CFF"/>
<path d="M163.8 242.9L167.9 249.4L159.8 249.4Z" fill="#00BA38"/>
<path d="M226.3 221.7L230.3 228.2L222.3 228.2Z" fill="#00BA38"/>
<path d="M142.3 244.7L146.3 251.2L138.3 251.2Z" fill="#00BA38"/>
<rect x="182.6" y="267.5" width="5.8" height="5.8" fill="#619CFF"/>
<path d="M143.9 240L147.9 246.5L139.8 246.5Z" fill="#00BA38"/>
<rect x="210.1" y="258.8" width="5.8" height="5.8" fill="#619CFF"/>
<path d="M221.4 233.5L225.5 240.1L217.4 240.1Z" fill="#00BA38"/>
<path d="M219.2 212.6L223.3 219.1L215.2 219.1Z" fill="#00BA38"/>
<path d="M237.7 230.7L241.7 237.2L233.7 237.2Z" fill="#00BA38"/>
<path d="M149 233.4L153 240L144.9 240Z" fill="#00BA38"/>
<rect x="209.6" y="269.4" width="5.8" height="5.8" fill="#619CFF"/>
<rect x="162.3" y="268.4" width="5.8" height="5.8" fill="#619CFF"/>
<rect x="151" y="259.1" width="5.8" height="5.8" fill="#619CFF"/>
<path d="M173.9 245.5L178 252L169.9 252Z" fill="#00BA38"/>
<rect x="185" y="255.1" width="5.8" height="5.8" fill="#619CFF"/>
<rect x="151.5" y="282.6" width="5.8" height="5.8" fill="#619CFF"/>
<path d="M135 232.6L139 239.1L130.9 239.1Z" fill="#00BA38"/>
<rect x="143.2" y="260" width="5.8" height="5.8" fill="#619CFF"/>
<rect x="203.2" y="255.7" width="5.8" height="5.8" fill="#619CFF"/>
<rect x="210.9" y="257.9" width="5.8" height="5.8" fill="#619CFF"/>
<rect x="142.2" y="259.2" width="5.8" height="5.8" fill="#619CFF"/>
<rect x="142.3" y="269.6" width="5.8" height="5.8" fill="#619CFF"/>
<path d="M155.3 233.5L159.3 240L151.2 240Z" fill="#00BA38"/>
<path d="M195.7 229L199.8 235.5L191.7 235.5Z" fill="#00BA38"/>
<path d="M160.1 202.5L164.1 209L156 209Z" fill="#00BA38"/>
<path d="M177 250.8L181 257.3L172.9 257.3Z" fill="#00BA38"/>
<path d="M157.5 239.4L161.6 245.9L153.5 245.9Z" fill="#00BA38"/>
<rect x="188.9" y="253.2" width="5.8" height="5.8" fill="#619CFF"/>
<rect x="182.6" y="261.9" width="5.8" height="5.8" fill="#619CFF"/>
<rect x="177.8" y="313.9" width="5.8" height="5.8" fill="#619CFF"/>
<rect x="147" y="258.4" width="5.8" height="5.8" fill="#619CFF"/>
<rect x="144.9" y="256.5" width="5.8" height="5.8" fill="#619CFF"/>
<rect x="175.5" y="272.8" width="5.8" height="5.8" fill="#619CFF"/>
<rect x="278.6" y="261.4" width="5.8" height="5.8" fill="#619CFF"/>
<rect x="234.9" y="316.3" width="5.8" height="5.8" fill="#619CFF"/>
<rect x="138.1" y="258.3" width="5.8" height="5.8" fill="#619CFF"/>
<rect x="158.9" y="285.2" width="5.8" height="5.8" fill="#619CFF"/>
<path d="M215.1 238L219.1 244.5L211 244.5Z" fill="#00BA38"/>
<path d="M164.1 252.6L168.2 259.1L160.1 259.1Z" fill="#00BA38"/>
<rect x="173.5" y="273" width="5.8" height="5.8" fill="#619CFF"/>
<rect x="148" y="261.6" width="5.8" height="5.8" fill="#619CFF"/>
<path d="M180.6 236.7L184.7 243.2L176.6 243.2Z" fill="#00BA38"/>
<rect x="223.1" y="346.5" width="5.8" height="5.8" fill="#619CFF"/>
<rect x="153.2" y="271.7" width="5.8" height="5.8" fill="#619CFF"/>
<rect x="207" y="264" width="5.8" height="5.8" fill="#619CFF"/>
<path d="M153.5 231.1L157.6 237.6L149.5 237.6Z" fill="#00BA38"/>
<rect x="154.7" y="260.1" width="5.8" height="5.8" fill="#619CFF"/>
<path d="M161.8 225.1L165.9 231.7L157.8 231.7Z" fill="#00BA38"/>
<path d="M160.7 214.2L164.7 220.7L156.6 220.7Z" fill="#00BA38"/>
<rect x="215.9" y="292.5" width="5.8" height="5.8" fill="#619CFF"/>
<path d="M327 192.7L331 199.2L323 199.2Z" fill="#00BA38"/>
<rect x="143.5" y="271.6" width="5.8" height="5.8" fill="#619CFF"/>
<path d="M170.8 251.6L174.9 258.1L166.8 258.1Z" fill="#00BA38"/>
<rect x="145.3" y="266.8" width="5.8" height="5.8" fill="#619CFF"/>
<rect x="193" y="299.5" width="5.8" height="5.8" fill="#619CFF"/>
<rect x="187.9" y="251.9" width="5.8" height="5.8" fill="#619CFF"/>
<path d="M195.7 246.9L199.8 253.4L191.7 253.4Z" fill="#00BA38"/>
<rect x="171.8" y="265.6" width="5.8" height="5.8" fill="#619CFF"/>
<path d="M163.5 213.1L167.5 219.6L159.4 219.6Z" fill="#00BA38"/>
<rect x="199.5" y="268.5" width="5.8" height="5.8" fill="#619CFF"/>
<rect x="163.6" y="254" width="5.8" height="5.8" fill="#619CFF"/>
<rect x="170.7" y="253.4" width="5.8" height="5.8" fill="#619CFF"/>
<path d="M153.5 247L157.6 253.5L149.5 253.5Z" fill="#00BA38"/>
<path d="M164.9 232.2L168.9 238.7L160.8 238.7Z" fill="#00BA38"/>
<path d="M140 248.3L144.1 254.8L136 254.8Z" fill="#00BA38"/>
<rect x="169.9" y="254" width="5.8" height="5.8" fill="#619CFF"/>
<rect x="169.3" y="282.9" width="5.8" height="5.8" fill="#619CFF"/>
<path d="M185.2 242.3L189.3 248.8L181.2 248.8Z" fill="#00BA38"/>
<rect x="203.5" y="271" width="5.8" height="5.8" fill="#619CFF"/>
<rect x="161.9" y="264.4" width="5.8" height="5.8" fill="#619CFF"/>
<rect x="174.2" y="264.2" width="5.8" height="5.8" fill="#619CFF"/>
<rect x="191.9" y="345.6" width="5.8" height="5.8" fill="#619CFF"/>
<path d="M173.5 234.8L177.6 241.3L169.5 241.3Z" fill="#00BA38"/>
<rect x="166.8" y="260.7" width="5.8" height="5.8" fill="#619CFF"/>
<path d="M173.3 231L177.3 237.5L169.2 237.5Z" fill="#00BA38"/>
<rect x="171.4" y="256.6" width="5.8" height="5.8" fill="#619CFF"/>
<path d="M186.2 246L190.3 252.5L182.2 252.5Z" fill="#00BA38"/>
<path d="M158 252.3L162 258.8L153.9 258.8Z" fill="#00BA38"/>
<path d="M154.4 235.2L158.5 241.7L150.4 241.7Z" fill="#00BA38"/>
<path d="M163.3 242.5L167.3 249L159.2 249Z" fill="#00BA38"/>
<rect x="156.5" y="262.8" width="5.8" height="5.8" fill="#619CFF"/>
<rect x="145.6" y="259.8" width="5.8" height="5.8" fill="#619CFF"/>
<path d="M134.1 235.5L138.1 242L130.1 242Z" fill="#00BA38"/>
<path d="M153.8 250.8L157.8 257.3L149.7 257.3Z" fill="#00BA38"/>
<path d="M173.9 226.9L177.9 233.4L169.8 233.4Z" fill="#00BA38"/>
<path d="M175.3 237.7L179.3 244.2L171.2 244.2Z" fill="#00BA38"/>
<rect x="156" y="263.7" width="5.8" height="5.8" fill="#619CFF"/>
<path d="M153.5 249.3L157.6 255.8L149.5 255.8Z" fill="#00BA38"/>
<rect x="138.3" y="257" width="5.8" height="5.8" fill="#619CFF"/>
<rect x="157.9" y="311.8" width="5.8" height="5.8" fill="#619CFF"/>
<rect x="225.4" y="298.4" width="5.8" height="5.8" fill="#619CFF"/>
<rect x="160.6" y="263.6" width="5.8" height="5.8" fill="#619CFF"/>
<rect x="137" y="259.6" width="5.8" height="5.8" fill="#619CFF"/>
<rect x="141.8" y="257.1" width="5.8" height="5.8" fill="#619CFF"/>
<rect x="202.8" y="283.3" width="5.8" height="5.8" fill="#619CFF"/>
<rect x="208.6" y="282.9" width="5.8" height="5.8" fill="#619CFF"/>
<rect x="154.6" y="259.7" width="5.8" height="5.8" fill="#619CFF"/>
<rect x="220.4" y="265.6" width="5.8" height="5.8" fill="#619CFF"/>
<rect x="161.6" y="263.5" width="5.8" height="5.8" fill="#619CFF"/>
<path d="M138.6 245.3L142.7 251.8L134.6 251.8Z" fill="#00BA38"/>
<rect x="142.8" y="262" width="5.8" height="5.8" fill="#619CFF"/>
<path d="M226 180.2L230 186.7L222 186.7Z" fill="#00BA38"/>
<path d="M151.6 246.2L155.6 252.8L147.5 252.8Z" fill="#00BA38"/>
<path d="M183.2 247.1L187.3 253.6L179.2 253.6Z" fill="#00BA38"/>
<path d="M141.7 253L145.7 259.6L137.7 259.6Z" fill="#00BA38"/>
<rect x="149.4" y="272.5" width="5.8" height="5.8" fill="#619CFF"/>
<path d="M156 247.3L160 253.9L151.9 253.9Z" fill="#00BA38"/>
<rect x="136.9" y="257.3" width="5.8" height="5.8" fill="#619CFF"/>
<path d="M164.3 219.4L168.3 225.9L160.2 225.9Z" fill="#00BA38"/>
<rect x="160.9" y="292.9" width="5.8" height="5.8" fill="#619CFF"/>
<path d="M154 247.7L158.1 254.2L150 254.2Z" fill="#00BA38"/>
<path d="M151.4 215.8L155.4 222.4L147.3 222.4Z" fill="#00BA38"/>
<rect x="210.5" y="252.8" width="5.8" height="5.8" fill="#619CFF"/>
<rect x="184.2" y="265.1" width="5.8" height="5.8" fill="#619CFF"/>
<path d="M172.2 237L176.3 243.5L168.2 243.5Z" fill="#00BA38"/>
<path d="M156.7 247.5L160.7 254.1L152.6 254.1Z" fill="#00BA38"/>
<path d="M180.5 237.5L184.5 244L176.4 244Z" fill="#00BA38"/>
<path d="M176.7 237L180.7 243.5L172.6 243.5Z" fill="#00BA38"/>
<path d="M186 221.1L190 227.7L181.9 227.7Z" fill="#00BA38"/>
<path d="M195.8 249.1L199.8 255.7L191.8 255.7Z" fill="#00BA38"/>
<rect x="163.6" y="256.1" width="5.8" height="5.8" fill="#619CFF"/>
<rect x="210.9" y="273.9" width="5.8" height="5.8" fill="#619CFF"/>
<path d="M188.6 244.2L192.6 250.7L184.5 250.7Z" fill="#00BA38"/>
<path d="M135.2 241.2L139.3 247.7L131.2 247.7Z" fill="#00BA38"/>
<rect x="183.1" y="287.6" width="5.8" height="5.8" fill="#619CFF"/>
<path d="M191.7 242.9L195.8 249.4L187.7 249.4Z" fill="#00BA38"/>
<rect x="268.1" y="279.4" width="5.8" height="5.8" fill="#619CFF"/>
<rect x="160" y="280.8" width="5.8" height="5.8" fill="#619CFF"/>
<path d="M135.9 236.2L140 242.7L131.9 242.7Z" fill="#00BA38"/>
<rect x="167.7" y="267.3" width="5.8" height="5.8" fill="#619CFF"/>
<rect x="151.7" y="261" width="5.8" height="5.8" fill="#619CFF"/>
<path d="M164.2 234.2L168.3 240.8L160.2 240.8Z" fill="#00BA38"/>
<path d="M143 230.8L147 237.3L138.9 237.3Z" fill="#00BA38"/>
<rect x="147.3" y="261.9" width="5.8" height="5.8" fill="#619CFF"/>
<rect x="221.8" y="306.8" width="5.8" height="5.8" fill="#619CFF"/>
<rect x="164.4" y="272.1" width="5.8" height="5.8" fill="#619CFF"/>
<rect x="195.8" y="266.3" width="5.8" height="5.8" fill="#619CFF"/>
<path d="M144.5 253.1L148.6 259.6L140.5 259.6Z" fill="#00BA38"/>
<path d="M148.9 236.6L153 243.1L144.9 243.1Z" fill="#00BA38"/>
<path d="M158.3 221.9L162.4 228.5L154.3 228.5Z" fill="#00BA38"/>
<rect x="243.9" y="254.5" width="5.8" height="5.8" fill="#619CFF"/>
<rect x="203.6" y="269" width="5.8" height="5.8" fill="#619CFF"/>
<path d="M143.5 242L147.5 248.5L139.4 248.5Z" fill="#00BA38"/>
<path d="M147.6 248.8L151.6 255.4L143.5 255.4Z" fill="#00BA38"/>
<rect x="152.6" y="260.9" width="5.8" height="5.8" fill="#619CFF"/>
<rect x="144" y="257.4" width="5.8" height="5.8" fill="#619CFF"/>
<rect x="147.7" y="287.6" width="5.8" height="5.8" fill="#619CFF"/>
<rect x="204.8" y="322.7" width="5.8" height="5.8" fill="#619CFF"/>
<path d="M199.5 234.3L203.6 240.8L195.5 240.8Z" fill="#00BA38"/>
<rect x="161.4" y="263.3" width="5.8" height="5.8" fill="#619CFF"/>
<rect x="148.8" y="264.3" width="5.8" height="5.8" fill="#619CFF"/>
<path d="M156.5 212.2L160.5 218.7L152.4 218.7Z" fill="#00BA38"/>
<rect x="221.6" y="254.6" width="5.8" height="5.8" fill="#619CFF"/>
<rect x="166.6" y="283.2" width="5.8" height="5.8" fill="#619CFF"/>
<rect x="180.3" y="273.8" width="5.8" height="5.8" fill="#619CFF"/>
<rect x="227.4" y="279.6" width="5.8" height="5.8" fill="#619CFF"/>
<rect x="212.1" y="291.1" width="5.8" height="5.8" fill="#619CFF"/>
<rect x="160.3" y="262.8" width="5.8" height="5.8" fill="#619CFF"/>
<path d="M156.4 221.6L160.4 228.1L152.3 228.1Z" fill="#00BA38"/>
<rect x="173.9" y="258.4" width="5.8" height="5.8" fill="#619CFF"/>
<path d="M166.6 251.1L170.6 257.6L162.5 257.6Z" fill="#00BA38"/>
<path d="M213 245.3L217.1 251.8L209 251.8Z" fill="#00BA38"/>
<path d="M167 239L171 245.5L162.9 245.5Z" fill="#00BA38"/>
<rect x="145.9" y="257.2" width="5.8" height="5.8" fill="#619CFF"/>
<rect x="195" y="264" width="5.8" height="5.8" fill="#619CFF"/>
<path d="M138.8 225.5L142.9 232L134.8 232Z" fill="#00BA38"/>
<circle cx="377.3" cy="277.7" r="3" fill="#F8766D"/>
<path d="M148.3 248.7L152.4 255.2L144.3 255.2Z" fill="#00BA38"/>
<rect x="143.7" y="260.6" width="5.8" height="5.8" fill="#619CFF"/>
<rect x="248.8" y="282.8" width="5.8" height="5.8" fill="#619CFF"/>
<path d="M140.6 250.1L144.7 256.6L136.6 256.6Z" fill="#00BA38"/>
<path d="M152.8 238.3L156.8 244.8L148.8 244.8Z" fill="#00BA38"/>
<rect x="143.8" y="259.4" width="5.8" height="5.8" fill="#619CFF"/>
<path d="M214.9 240.4L218.9 246.9L210.8 246.9Z" fill="#00BA38"/>
<rect x="153.6" y="263.4" width="5.8" height="5.8" fill="#619CFF"/>
<path d="M138.7 251.5L142.7 258L134.7 258Z" fill="#00BA38"/>
<rect x="179.1" y="267.2" width="5.8" height="5.8" fill="#619CFF"/>
<path d="M198.6 231.6L202.7 238.1L194.6 238.1Z" fill="#00BA38"/>
<rect x="189.2" y="260.3" width="5.8" height="5.8" fill="#619CFF"/>
<path d="M149.6 236.9L153.7 243.4L145.6 243.4Z" fill="#00BA38"/>
<path d="M143.4 247.6L147.5 254.1L139.4 254.1Z" fill="#00BA38"/>
<path d="M140.9 253.8L145 260.3L136.9 260.3Z" fill="#00BA38"/>
<rect x="169.2" y="254.1" width="5.8" height="5.8" fill="#619CFF"/>
<rect x="199.5" y="257.4" width="5.8" height="5.8" fill="#619CFF"/>
<rect x="162.3" y="277.3" width="5.8" height="5.8" fill="#619CFF"/>
<rect x="152.9" y="263.1" width="5.8" height="5.8" fill="#619CFF"/>
<rect x="146.3" y="264.1" width="5.8" height="5.8" fill="#619CFF"/>
<rect x="143.4" y="262.1" width="5.8" height="5.8" fill="#619CFF"/>
<path d="M137.3 249.1L141.3 255.7L133.2 255.7Z" fill="#00BA38"/>
<rect x="144.9" y="262.4" width="5.8" height="5.8" fill="#619CFF"/>
<rect x="196.5" y="278.8" width="5.8" height="5.8" fill="#619CFF"/>
<rect x="138.1" y="263.3" width="5.8" height="5.8" fill="#619CFF"/>
<rect x="179.7" y="258" width="5.8" height="5.8" fill="#619CFF"/>
<path d="M153.7 236.5L157.7 243L149.6 243Z" fill="#00BA38"/>
<path d="M175.9 221.1L180 227.6L171.9 227.6Z" fill="#00BA38"/>
<rect x="267.1" y="260.8" width="5.8" height="5.8" fill="#619CFF"/>
<path d="M140.2 236.8L144.3 243.3L136.2 243.3Z" fill="#00BA38"/>
<rect x="143.9" y="257.7" width="5.8" height="5.8" fill="#619CFF"/>
<rect x="162.9" y="270.4" width="5.8" height="5.8" fill="#619CFF"/>
<rect x="139.8" y="263.1" width="5.8" height="5.8" fill="#619CFF"/>
<rect x="141.2" y="261" width="5.8" height="5.8" fill="#619CFF"/>
<rect x="139.6" y="265" width="5.8" height="5.8" fill="#619CFF"/>
<rect x="197.4" y="260.9" width="5.8" height="5.8" fill="#619CFF"/>
<path d="M149.7 246.6L153.7 253.1L145.6 253.1Z" fill="#00BA38"/>
<path d="M133.8 239.1L137.8 245.6L129.7 245.6Z" fill="#00BA38"/>
<rect x="157.1" y="256.2" width="5.8" height="5.8" fill="#619CFF"/>
<path d="M169.6 199.2L173.6 205.7L165.5 205.7Z" fill="#00BA38"/>
<rect x="151.2" y="267.3" width="5.8" height="5.8" fill="#619CFF"/>
<rect x="179.7" y="274.1" width="5.8" height="5.8" fill="#619CFF"/>
<path d="M176 227.1L180.1 233.7L172 233.7Z" fill="#00BA38"/>
<rect x="195" y="302.3" width="5.8" height="5.8" fill="#619CFF"/>
<path d="M217 187L221 193.5L213 193.5Z" fill="#00BA38"/>
<rect x="171.8" y="278" width="5.8" height="5.8" fill="#619CFF"/>
<rect x="146.3" y="262" width="5.8" height="5.8" fill="#619CFF"/>
<rect x="152.8" y="260.3" width="5.8" height="5.8" fill="#619CFF"/>
<rect x="213.9" y="286.6" width="5.8" height="5.8" fill="#619CFF"/>
<rect x="206.6" y="270.9" width="5.8" height="5.8" fill="#619CFF"/>
<rect x="151.4" y="259.2" width="5.8" height="5.8" fill="#619CFF"/>
<path d="M164.9 225.5L168.9 232L160.8 232Z" fill="#00BA38"/>
<path d="M158.6 250.7L162.6 257.3L154.5 257.3Z" fill="#00BA38"/>
<rect x="142.2" y="256.4" width="5.8" height="5.8" fill="#619CFF"/>
<rect x="196.7" y="254.6" width="5.8" height="5.8" fill="#619CFF"/>
<rect x="145.6" y="271.5" width="5.8" height="5.8" fill="#619CFF"/>
<rect x="155" y="266.4" width="5.8" height="5.8" fill="#619CFF"/>
<path d="M153.2 236.6L157.2 243.2L149.1 243.2Z" fill="#00BA38"/>
<rect x="243.7" y="255.3" width="5.8" height="5.8" fill="#619CFF"/>
<path d="M181.3 217.8L185.4 224.3L177.3 224.3Z" fill="#00BA38"/>
<rect x="206.2" y="301.3" width="5.8" height="5.8" fill="#619CFF"/>
<rect x="244.9" y="322.2" width="5.8" height="5.8" fill="#619CFF"/>
<path d="M196.4 240.3L200.5 246.8L192.4 246.8Z" fill="#00BA38"/>
<rect x="269.1" y="369.1" width="5.8" height="5.8" fill="#619CFF"/>
<path d="M205.6 181.6L209.6 188.1L201.5 188.1Z" fill="#00BA38"/>
<path d="M153.7 217.6L157.8 224.1L149.7 224.1Z" fill="#00BA38"/>
<path d="M136.3 226L140.3 232.5L132.2 232.5Z" fill="#00BA38"/>
<rect x="141.6" y="267.9" width="5.8" height="5.8" fill="#619CFF"/>
<rect x="144" y="261.6" width="5.8" height="5.8" fill="#619CFF"/>
<rect x="224.7" y="299.2" width="5.8" height="5.8" fill="#619CFF"/>
<path d="M212.4 243.2L216.5 249.7L208.4 249.7Z" fill="#00BA38"/>
<rect x="175.2" y="278.2" width="5.8" height="5.8" fill="#619CFF"/>
<path d="M206.1 209.6L210.1 216.2L202 216.2Z" fill="#00BA38"/>
<rect x="149.5" y="265.8" width="5.8" height="5.8" fill="#619CFF"/>
<rect x="136.6" y="257.5" width="5.8" height="5.8" fill="#619CFF"/>
<path d="M139.6 237.2L143.7 243.8L135.6 243.8Z" fill="#00BA38"/>
<rect x="170.1" y="271.3" width="5.8" height="5.8" fill="#619CFF"/>
<rect x="165.6" y="264.8" width="5.8" height="5.8" fill="#619CFF"/>
<path d="M148.9 249.1L152.9 255.7L144.8 255.7Z" fill="#00BA38"/>
<rect x="155.5" y="264" width="5.8" height="5.8" fill="#619CFF"/>
<path d="M148.1 251L152.2 257.5L144.1 257.5Z" fill="#00BA38"/>
<rect x="163.4" y="256.3" width="5.8" height="5.8" fill="#619CFF"/>
<rect x="211.5" y="256.6" width="5.8" height="5.8" fill="#619CFF"/>
<rect x="152.1" y="275.6" width="5.8" height="5.8" fill="#619CFF"/>
<rect x="194.8" y="251.8" width="5.8" height="5.8" fill="#619CFF"/>
<path d="M168.6 221.3L172.6 227.8L164.5 227.8Z" fill="#00BA38"/>
<path d="M150.3 221.6L154.3 228.1L146.2 228.1Z" fill="#00BA38"/>
<path d="M146.7 250.7L150.8 257.2L142.7 257.2Z" fill="#00BA38"/>
<path d="M152.1 246.8L156.1 253.3L148 253.3Z" fill="#00BA38"/>
<path d="M142.6 239.4L146.6 245.9L138.5 245.9Z" fill="#00BA38"/>
<path d="M152.3 216.4L156.4 222.9L148.3 222.9Z" fill="#00BA38"/>
<rect x="192.4" y="279.7" width="5.8" height="5.8" fill="#619CFF"/>
<rect x="223.8" y="283.1" width="5.8" height="5.8" fill="#619CFF"/>
<rect x="164" y="266.1" width="5.8" height="5.8" fill="#619CFF"/>
<path d="M140.1 242.7L144.2 249.2L136.1 249.2Z" fill="#00BA38"/>
<rect x="172.1" y="273" width="5.8" height="5.8" fill="#619CFF"/>
<rect x="195.8" y="269.4" width="5.8" height="5.8" fill="#619CFF"/>
<path d="M143.1 231.6L147.1 238.2L139.1 238.2Z" fill="#00BA38"/>
<rect x="180.2" y="253.4" width="5.8" height="5.8" fill="#619CFF"/>
<rect x="136.9" y="260.6" width="5.8" height="5.8" fill="#619CFF"/>
<circle cx="696" cy="136" r="3" fill="#F8766D"/>
<rect x="175.6" y="256.3" width="5.8" height="5.8" fill="#619CFF"/>
<rect x="175.6" y="281" width="5.8" height="5.8" fill="#619CFF"/>
<circle cx="594.2" cy="281.8" r="3" fill="#F8766D"/>
<path d="M155.8 248.6L159.8 255.1L151.7 255.1Z" fill="#00BA38"/>
<rect x="203.1" y="292.4" width="5.8" height="5.8" fill="#619CFF"/>
<rect x="184.4" y="262.9" width="5.8" height="5.8" fill="#619CFF"/>
<rect x="143.5" y="257.5" width="5.8" height="5.8" fill="#619CFF"/>
<path d="M173.5 213.5L177.5 220L169.5 220Z" fill="#00BA38"/>
<rect x="159.9" y="287.1" width="5.8" height="5.8" fill="#619CFF"/>
<circle cx="393.5" cy="270" r="3" fill="#F8766D"/>
<rect x="193.6" y="257" width="5.8" height="5.8" fill="#619CFF"/>
<path d="M156.5 252.6L160.5 259.1L152.5 259.1Z" fill="#00BA38"/>
<path d="M141.8 239.1L145.9 245.6L137.8 245.6Z" fill="#00BA38"/>
<rect x="169.1" y="255.2" width="5.8" height="5.8" fill="#619CFF"/>
<path d="M193.1 204.2L197.1 210.7L189 210.7Z" fill="#00BA38"/>
<rect x="182.3" y="306.9" width="5.8" height="5.8" fill="#619CFF"/>
<path d="M154.6 228.1L158.6 234.6L150.5 234.6Z" fill="#00BA38"/>
<rect x="174.7" y="278.3" width="5.8" height="5.8" fill="#619CFF"/>
<path d="M166 230.1L170.1 236.7L162 236.7Z" fill="#00BA38"/>
<rect x="179.1" y="259.7" width="5.8" height="5.8" fill="#619CFF"/>
<rect x="217.8" y="257.9" width="5.8" height="5.8" fill="#619CFF"/>
<rect x="200.1" y="311.5" width="5.8" height="5.8" fill="#619CFF"/>
<path d="M142.6 254L146.7 260.5L138.6 260.5Z" fill="#00BA38"/>
<path d="M137.8 243L141.9 249.6L133.8 249.6Z" fill="#00BA38"/>
<path d="M147 244.1L151 250.6L142.9 250.6Z" fill="#00BA38"/>
<path d="M154.4 208.2L158.5 214.7L150.4 214.7Z" fill="#00BA38"/>
<rect x="185.5" y="259.6" width="5.8" height="5.8" fill="#619CFF"/>
<path d="M181.6 236.1L185.6 242.6L177.5 242.6Z" fill="#00BA38"/>
<rect x="175.1" y="255.6" width="5.8" height="5.8" fill="#619CFF"/>
<rect x="156.6" y="267" width="5.8" height="5.8" fill="#619CFF"/>
<rect x="140.9" y="262.8" width="5.8" height="5.8" fill="#619CFF"/>
<path d="M147.1 220.6L151.2 227.1L143.1 227.1Z" fill="#00BA38"/>
<rect x="137.2" y="257.1" width="5.8" height="5.8" fill="#619CFF"/>
<rect x="165.6" y="260.7" width="5.8" height="5.8" fill="#619CFF"/>
<path d="M149.5 247.9L153.5 254.5L145.4 254.5Z" fill="#00BA38"/>
<rect x="250.1" y="256.6" width="5.8" height="5.8" fill="#619CFF"/>
<path d="M263.2 228.3L267.2 234.9L259.2 234.9Z" fill="#00BA38"/>
<rect x="216.3" y="257.1" width="5.8" height="5.8" fill="#619CFF"/>
<path d="M139 254.2L143 260.8L134.9 260.8Z" fill="#00BA38"/>
<path d="M137.9 249.7L141.9 256.2L133.8 256.2Z" fill="#00BA38"/>
<rect x="168.1" y="256.5" width="5.8" height="5.8" fill="#619CFF"/>
<path d="M206 242.8L210.1 249.3L202 249.3Z" fill="#00BA38"/>
<rect x="145.7" y="263.1" width="5.8" height="5.8" fill="#619CFF"/>
<path d="M149.1 248.7L153.2 255.2L145.1 255.2Z" fill="#00BA38"/>
<rect x="158.1" y="291.7" width="5.8" height="5.8" fill="#619CFF"/>
<rect x="180.6" y="272.1" width="5.8" height="5.8" fill="#619CFF"/>
<path d="M162 248.9L166 255.5L158 255.5Z" fill="#00BA38"/>
<rect x="136.9" y="257.5" width="5.8" height="5.8" fill="#619CFF"/>
<rect x="138.7" y="262.7" width="5.8" height="5.8" fill="#619CFF"/>
<path d="M162.2 237.9L166.2 244.5L158.1 244.5Z" fill="#00BA38"/>
<path d="M150.8 222.7L154.9 229.2L146.8 229.2Z" fill="#00BA38"/>
<path d="M146.8 246.7L150.8 253.3L142.7 253.3Z" fill="#00BA38"/>
<rect x="165" y="268.1" width="5.8" height="5.8" fill="#619CFF"/>
<rect x="173.1" y="255.7" width="5.8" height="5.8" fill="#619CFF"/>
<path d="M248.3 195.3L252.3 201.9L244.3 201.9Z" fill="#00BA38"/>
<path d="M140.3 242.9L144.3 249.4L136.2 249.4Z" fill="#00BA38"/>
<path d="M157 243.3L161 249.9L152.9 249.9Z" fill="#00BA38"/>
<path d="M175.4 236.5L179.4 243L171.3 243Z" fill="#00BA38"/>
<path d="M251 216.3L255 222.9L247 222.9Z" fill="#00BA38"/>
<path d="M172.4 197.2L176.5 203.7L168.4 203.7Z" fill="#00BA38"/>
<path d="M148.2 237L152.2 243.6L144.1 243.6Z" fill="#00BA38"/>
<path d="M154.1 246.4L158.2 252.9L150.1 252.9Z" fill="#00BA38"/>
<rect x="216.3" y="272.5" width="5.8" height="5.8" fill="#619CFF"/>
<path d="M226.7 148.2L230.7 154.7L222.7 154.7Z" fill="#00BA38"/>
<rect x="145.5" y="257.4" width="5.8" height="5.8" fill="#619CFF"/>
<rect x="172.9" y="274.1" width="5.8" height="5.8" fill="#619CFF"/>
<path d="M159.7 251.2L163.8 257.7L155.7 257.7Z" fill="#00BA38"/>
<path d="M232 240.3L236 246.9L228 246.9Z" fill="#00BA38"/>
<path d="M140 249.8L144 256.3L135.9 256.3Z" fill="#00BA38"/>
<path d="M143.9 247.5L148 254L139.9 254Z" fill="#00BA38"/>
<path d="M144.8 240.2L148.8 246.7L140.7 246.7Z" fill="#00BA38"/>
<rect x="176" y="319.6" width="5.8" height="5.8" fill="#619CFF"/>
<path d="M153.1 250.6L157.1 257.1L149 257.1Z" fill="#00BA38"/>
<rect x="161.3" y="261.4" width="5.8" height="5.8" fill="#619CFF"/>
<rect x="167" y="269.3" width="5.8" height="5.8" fill="#619CFF"/>
<path d="M140 245.8L144 252.3L135.9 252.3Z" fill="#00BA38"/>
<rect x="193.2" y="251.2" width="5.8" height="5.8" fill="#619CFF"/>
<path d="M214.7 178.7L218.7 185.2L210.7 185.2Z" fill="#00BA38"/>
<rect x="150" y="255.3" width="5.8" height="5.8" fill="#619CFF"/>
<rect x="189.8" y="306.4" width="5.8" height="5.8" fill="#619CFF"/>
<path d="M150.8 252.3L154.8 258.8L146.7 258.8Z" fill="#00BA38"/>
<rect x="144.2" y="265.3" width="5.8" height="5.8" fill="#619CFF"/>
<path d="M156.4 227.2L160.4 233.8L152.3 233.8Z" fill="#00BA38"/>
<path d="M136.9 245.7L141 252.2L132.9 252.2Z" fill="#00BA38"/>
<rect x="175.2" y="263.1" width="5.8" height="5.8" fill="#619CFF"/>
<rect x="142.8" y="256.6" width="5.8" height="5.8" fill="#619CFF"/>
<rect x="193.4" y="258.6" width="5.8" height="5.8" fill="#619CFF"/>
<rect x="169.2" y="254.2" width="5.8" height="5.8" fill="#619CFF"/>
<path d="M160.7 241.7L164.8 248.3L156.7 248.3Z" fill="#00BA38"/>
<path d="M143.1 240.9L147.1 247.5L139 247.5Z" fill="#00BA38"/>
<path d="M216.5 215.1L220.6 221.6L212.5 221.6Z" fill="#00BA38"/>
<rect x="152.5" y="271.8" width="5.8" height="5.8" fill="#619CFF"/>
<path d="M159.4 245L163.5 251.6L155.4 251.6Z" fill="#00BA38"/>
<path d="M141.8 244.6L145.8 251.1L137.7 251.1Z" fill="#00BA38"/>
<rect x="187.3" y="257.3" width="5.8" height="5.8" fill="#619CFF"/>
<rect x="185.5" y="268.5" width="5.8" height="5.8" fill="#619CFF"/>
<path d="M142.2 246L146.3 252.6L138.2 252.6Z" fill="#00BA38"/>
<rect x="185.6" y="279.7" width="5.8" height="5.8" fill="#619CFF"/>
<rect x="162" y="259.8" width="5.8" height="5.8" fill="#619CFF"/>
<path d="M164.9 251.8L169 258.3L160.9 258.3Z" fill="#00BA38"/>
<rect x="196.1" y="287.7" width="5.8" height="5.8" fill="#619CFF"/>
<path d="M195.6 239.9L199.7 246.4L191.6 246.4Z" fill="#00BA38"/>
<rect x="164.4" y="258.5" width="5.8" height="5.8" fill="#619CFF"/>
<path d="M153 246.6L157.1 253.1L149 253.1Z" fill="#00BA38"/>
<path d="M172.6 222.4L176.6 229L168.5 229Z" fill="#00BA38"/>
<path d="M160.5 214.4L164.5 221L156.4 221Z" fill="#00BA38"/>
<rect x="185.6" y="265.4" width="5.8" height="5.8" fill="#619CFF"/>
<rect x="168.7" y="272.1" width="5.8" height="5.8" fill="#619CFF"/>
<path d="M155.4 215.7L159.5 222.3L151.4 222.3Z" fill="#00BA38"/>
<rect x="151.1" y="271.1" width="5.8" height="5.8" fill="#619CFF"/>
<circle cx="571.8" cy="277.6" r="3" fill="#F8766D"/>
<path d="M222.6 160.2L226.6 166.8L218.5 166.8Z" fill="#00BA38"/>
<rect x="150" y="286.9" width="5.8" height="5.8" fill="#619CFF"/>
<rect x="167.3" y="260.9" width="5.8" height="5.8" fill="#619CFF"/>
<path d="M193.1 204.5L197.2 211L189.1 211Z" fill="#00BA38"/>
<rect x="168.2" y="259.2" width="5.8" height="5.8" fill="#619CFF"/>
<rect x="203.3" y="298.7" width="5.8" height="5.8" fill="#619CFF"/>
<rect x="138.1" y="260.3" width="5.8" height="5.8" fill="#619CFF"/>
<path d="M154.4 252.7L158.4 259.2L150.3 259.2Z" fill="#00BA38"/>
<rect x="152.9" y="264.3" width="5.8" height="5.8" fill="#619CFF"/>
<rect x="137.2" y="260.8" width="5.8" height="5.8" fill="#619CFF"/>
<path d="M195.3 204.3L199.3 210.9L191.3 210.9Z" fill="#00BA38"/>
<rect x="228.5" y="255.6" width="5.8" height="5.8" fill="#619CFF"/>
<rect x="183.4" y="271.8" width="5.8" height="5.8" fill="#619CFF"/>
<rect x="261.1" y="297.1" width="5.8" height="5.8" fill="#619CFF"/>
<path d="M149 211L153 217.5L144.9 217.5Z" fill="#00BA38"/>
<rect x="149.8" y="271.2" width="5.8" height="5.8" fill="#619CFF"/>
<rect x="185.8" y="273.3" width="5.8" height="5.8" fill="#619CFF"/>
<path d="M140.8 241.1L144.9 247.6L136.8 247.6Z" fill="#00BA38"/>
<path d="M144.9 251.2L148.9 257.8L140.8 257.8Z" fill="#00BA38"/>
<path d="M184.9 235.1L188.9 241.6L180.9 241.6Z" fill="#00BA38"/>
<rect x="201.2" y="266.6" width="5.8" height="5.8" fill="#619CFF"/>
<rect x="148.9" y="261.4" width="5.8" height="5.8" fill="#619CFF"/>
<rect x="141.1" y="269.6" width="5.8" height="5.8" fill="#619CFF"/>
<rect x="145.2" y="256.5" width="5.8" height="5.8" fill="#619CFF"/>
<rect x="184.5" y="259.9" width="5.8" height="5.8" fill="#619CFF"/>
<path d="M160.5 232.4L164.5 238.9L156.4 238.9Z" fill="#00BA38"/>
<rect x="156.3" y="285.8" width="5.8" height="5.8" fill="#619CFF"/>
<path d="M179.4 247.2L183.5 253.8L175.4 253.8Z" fill="#00BA38"/>
<rect x="249.1" y="265.1" width="5.8" height="5.8" fill="#619CFF"/>
<path d="M206 190.3L210 196.9L202 196.9Z" fill="#00BA38"/>
<rect x="154.3" y="268.1" width="5.8" height="5.8" fill="#619CFF"/>
<rect x="213.6" y="249.3" width="5.8" height="5.8" fill="#619CFF"/>
<path d="M173 246.5L177 253L168.9 253Z" fill="#00BA38"/>
<path d="M146.7 236.1L150.7 242.6L142.6 242.6Z" fill="#00BA38"/>
<rect x="158.9" y="261.3" width="5.8" height="5.8" fill="#619CFF"/>
<rect x="145.9" y="262.2" width="5.8" height="5.8" fill="#619CFF"/>
<rect x="182.6" y="264.6" width="5.8" height="5.8" fill="#619CFF"/>
<rect x="166.6" y="255.1" width="5.8" height="5.8" fill="#619CFF"/>
<path d="M146.3 245.3L150.3 251.8L142.2 251.8Z" fill="#00BA38"/>
<rect x="192.7" y="263.4" width="5.8" height="5.8" fill="#619CFF"/>
<rect x="153.8" y="269.4" width="5.8" height="5.8" fill="#619CFF"/>
<rect x="194.8" y="270" width="5.8" height="5.8" fill="#619CFF"/>
<rect x="199.6" y="260.4" width="5.8" height="5.8" fill="#619CFF"/>
<rect x="148.5" y="269.3" width="5.8" height="5.8" fill="#619CFF"/>
<rect x="208" y="257.1" width="5.8" height="5.8" fill="#619CFF"/>
<rect x="185.4" y="257.8" width="5.8" height="5.8" fill="#619CFF"/>
<rect x="163.7" y="261.7" width="5.8" height="5.8" fill="#619CFF"/>
<path d="M148.4 245.4L152.4 251.9L144.3 251.9Z" fill="#00BA38"/>
<rect x="170.6" y="266" width="5.8" height="5.8" fill="#619CFF"/>
<rect x="142.6" y="255.8" width="5.8" height="5.8" fill="#619CFF"/>
<rect x="165.6" y="257.7" width="5.8" height="5.8" fill="#619CFF"/>
<rect x="170.2" y="255.5" width="5.8" height="5.8" fill="#619CFF"/>
<path d="M151.8 249.1L155.9 255.6L147.8 255.6Z" fill="#00BA38"/>
<rect x="201.2" y="259.6" width="5.8" height="5.8" fill="#619CFF"/>
<rect x="180.6" y="258.5" width="5.8" height="5.8" fill="#619CFF"/>
<rect x="154.8" y="300.7" width="5.8" height="5.8" fill="#619CFF"/>
<rect x="155.9" y="309.7" width="5.8" height="5.8" fill="#619CFF"/>
<rect x="158.1" y="260.2" width="5.8" height="5.8" fill="#619CFF"/>
<rect x="233.4" y="318.8" width="5.8" height="5.8" fill="#619CFF"/>
<rect x="169.6" y="260.8" width="5.8" height="5.8" fill="#619CFF"/>
<rect x="165.2" y="258.8" width="5.8" height="5.8" fill="#619CFF"/>
<rect x="152.1" y="261.8" width="5.8" height="5.8" fill="#619CFF"/>
<path d="M167.3 245.5L171.3 252L163.2 252Z" fill="#00BA38"/>
<rect x="205.1" y="258.6" width="5.8" height="5.8" fill="#619CFF"/>
<path d="M147.6 240.5L151.6 247L143.5 247Z" fill="#00BA38"/>
<path d="M165.6 219.6L169.7 226.1L161.6 226.1Z" fill="#00BA38"/>
<rect x="144.7" y="256.2" width="5.8" height="5.8" fill="#619CFF"/>
<rect x="148.3" y="258.4" width="5.8" height="5.8" fill="#619CFF"/>
<path d="M137.7 247.2L141.8 253.7L133.7 253.7Z" fill="#00BA38"/>
<rect x="145.9" y="271.6" width="5.8" height="5.8" fill="#619CFF"/>
<rect x="149.1" y="259.5" width="5.8" height="5.8" fill="#619CFF"/>
<rect x="168.1" y="309.8" width="5.8" height="5.8" fill="#619CFF"/>
<rect x="140.7" y="270.6" width="5.8" height="5.8" fill="#619CFF"/>
<rect x="147.5" y="278.2" width="5.8" height="5.8" fill="#619CFF"/>
<rect x="152.4" y="272.7" width="5.8" height="5.8" fill="#619CFF"/>
<rect x="166.5" y="259.3" width="5.8" height="5.8" fill="#619CFF"/>
<rect x="155.7" y="265.7" width="5.8" height="5.8" fill="#619CFF"/>
<rect x="191.5" y="274.1" width="5.8" height="5.8" fill="#619CFF"/>
<rect x="156.8" y="269.4" width="5.8" height="5.8" fill="#619CFF"/>
<rect x="162.8" y="276.8" width="5.8" height="5.8" fill="#619CFF"/>
<path d="M157.6 248.3L161.7 254.8L153.6 254.8Z" fill="#00BA38"/>
<rect x="149.9" y="278" width="5.8" height="5.8" fill="#619CFF"/>
<rect x="138.6" y="261.8" width="5.8" height="5.8" fill="#619CFF"/>
<rect x="151.4" y="262.5" width="5.8" height="5.8" fill="#619CFF"/>
<rect x="162.9" y="277.4" width="5.8" height="5.8" fill="#619CFF"/>
<rect x="152.4" y="256.5" width="5.8" height="5.8" fill="#619CFF"/>
<path d="M152.1 246.3L156.1 252.8L148 252.8Z" fill="#00BA38"/>
<rect x="177.7" y="283.6" width="5.8" height="5.8" fill="#619CFF"/>
<rect x="151.3" y="255.6" width="5.8" height="5.8" fill="#619CFF"/>
<rect x="240.4" y="292.8" width="5.8" height="5.8" fill="#619CFF"/>
<path d="M151.7 240.2L155.8 246.7L147.7 246.7Z" fill="#00BA38"/>
<path d="M142.5 253.5L146.5 260L138.4 260Z" fill="#00BA38"/>
<rect x="141" y="257.2" width="5.8" height="5.8" fill="#619CFF"/>
<rect x="161.9" y="267" width="5.8" height="5.8" fill="#619CFF"/>
<path d="M221 169.2L225 175.7L217 175.7Z" fill="#00BA38"/>
<path d="M158.8 215.5L162.8 222L154.7 222Z" fill="#00BA38"/>
<rect x="146.5" y="256.1" width="5.8" height="5.8" fill="#619CFF"/>
<path d="M133.7 239L137.7 245.5L129.6 245.5Z" fill="#00BA38"/>
<rect x="157.7" y="255" width="5.8" height="5.8" fill="#619CFF"/>
<path d="M138.6 246.1L142.6 252.6L134.5 252.6Z" fill="#00BA38"/>
<rect x="173.5" y="274.4" width="5.8" height="5.8" fill="#619CFF"/>
<path d="M166.8 250.9L170.8 257.5L162.7 257.5Z" fill="#00BA38"/>
<rect x="235.1" y="293.1" width="5.8" height="5.8" fill="#619CFF"/>
<rect x="292.5" y="245" width="5.8" height="5.8" fill="#619CFF"/>
<path d="M196.8 178.8L200.8 185.4L192.7 185.4Z" fill="#00BA38"/>
<path d="M150.8 248.7L154.9 255.2L146.8 255.2Z" fill="#00BA38"/>
<rect x="152.6" y="258.1" width="5.8" height="5.8" fill="#619CFF"/>
<circle cx="412.3" cy="258.2" r="3" fill="#F8766D"/>
<rect x="145.5" y="266.2" width="5.8" height="5.8" fill="#619CFF"/>
<path d="M220.8 187.7L224.9 194.2L216.8 194.2Z" fill="#00BA38"/>
<path d="M139.7 236.9L143.7 243.4L135.6 243.4Z" fill="#00BA38"/>
<path d="M193.2 244.2L197.2 250.7L189.2 250.7Z" fill="#00BA38"/>
<path d="M164.8 244.5L168.9 251L160.8 251Z" fill="#00BA38"/>
<path d="M191.2 217.4L195.3 223.9L187.2 223.9Z" fill="#00BA38"/>
<rect x="159.8" y="319.8" width="5.8" height="5.8" fill="#619CFF"/>
<rect x="279.1" y="263.1" width="5.8" height="5.8" fill="#619CFF"/>
<path d="M172.4 204.2L176.5 210.7L168.4 210.7Z" fill="#00BA38"/>
<path d="M167.6 228.6L171.6 235.1L163.5 235.1Z" fill="#00BA38"/>
<rect x="161.5" y="287.8" width="5.8" height="5.8" fill="#619CFF"/>
<rect x="222" y="300.8" width="5.8" height="5.8" fill="#619CFF"/>
<path d="M164.1 243.7L168.1 250.2L160 250.2Z" fill="#00BA38"/>
<rect x="180.4" y="315.1" width="5.8" height="5.8" fill="#619CFF"/>
<rect x="180.4" y="261.2" width="5.8" height="5.8" fill="#619CFF"/>
<rect x="178.4" y="263.7" width="5.8" height="5.8" fill="#619CFF"/>
<path d="M155.6 239.7L159.6 246.3L151.5 246.3Z" fill="#00BA38"/>
<rect x="153.3" y="266.4" width="5.8" height="5.8" fill="#619CFF"/>
<path d="M140.2 252.2L144.3 258.7L136.2 258.7Z" fill="#00BA38"/>
<path d="M146.1 247.3L150.2 253.8L142.1 253.8Z" fill="#00BA38"/>
<rect x="156" y="260" width="5.8" height="5.8" fill="#619CFF"/>
<rect x="290.3" y="255.9" width="5.8" height="5.8" fill="#619CFF"/>
<rect x="203.7" y="287.3" width="5.8" height="5.8" fill="#619CFF"/>
<rect x="215.4" y="349.1" width="5.8" height="5.8" fill="#619CFF"/>
<rect x="174.1" y="264.2" width="5.8" height="5.8" fill="#619CFF"/>
<path d="M169.1 251.9L173.2 258.4L165.1 258.4Z" fill="#00BA38"/>
<path d="M180.4 246.2L184.5 252.7L176.4 252.7Z" fill="#00BA38"/>
<path d="M141.3 247.1L145.4 253.6L137.3 253.6Z" fill="#00BA38"/>
<path d="M142.4 253.9L146.5 260.4L138.4 260.4Z" fill="#00BA38"/>
<path d="M228.3 226.4L232.3 232.9L224.2 232.9Z" fill="#00BA38"/>
<rect x="165.6" y="284.3" width="5.8" height="5.8" fill="#619CFF"/>
<rect x="139.7" y="266" width="5.8" height="5.8" fill="#619CFF"/>
<rect x="166.8" y="270" width="5.8" height="5.8" fill="#619CFF"/>
<rect x="166.7" y="266.6" width="5.8" height="5.8" fill="#619CFF"/>
<rect x="166.7" y="263.2" width="5.8" height="5.8" fill="#619CFF"/>
<rect x="174.7" y="269.1" width="5.8" height="5.8" fill="#619CFF"/>
<rect x="201.3" y="264.9" width="5.8" height="5.8" fill="#619CFF"/>
<rect x="159.8" y="262.8" width="5.8" height="5.8" fill="#619CFF"/>
<rect x="161.6" y="259.7" width="5.8" height="5.8" fill="#619CFF"/>
<rect x="180.2" y="263.5" width="5.8" height="5.8" fill="#619CFF"/>
<path d="M170.5 245.7L174.5 252.2L166.4 252.2Z" fill="#00BA38"/>
<circle cx="389.7" cy="264.7" r="3" fill="#F8766D"/>
<path d="M199.2 217.2L203.3 223.7L195.2 223.7Z" fill="#00BA38"/>
<rect x="157.6" y="263.4" width="5.8" height="5.8" fill="#619CFF"/>
<path d="M145.7 249.7L149.7 256.2L141.7 256.2Z" fill="#00BA38"/>
<path d="M146.2 253L150.2 259.5L142.1 259.5Z" fill="#00BA38"/>
<path d="M209.7 220.7L213.7 227.2L205.7 227.2Z" fill="#00BA38"/>
<rect x="145.8" y="257.6" width="5.8" height="5.8" fill="#619CFF"/>
<path d="M149.4 236.5L153.5 243L145.4 243Z" fill="#00BA38"/>
<path d="M145.2 252.5L149.3 259L141.2 259Z" fill="#00BA38"/>
<path d="M175.4 239.1L179.4 245.7L171.3 245.7Z" fill="#00BA38"/>
<rect x="169.1" y="254.7" width="5.8" height="5.8" fill="#619CFF"/>
<path d="M166.4 242.8L170.5 249.3L162.4 249.3Z" fill="#00BA38"/>
<rect x="166.7" y="256.7" width="5.8" height="5.8" fill="#619CFF"/>
<path d="M143.8 247.6L147.9 254.1L139.8 254.1Z" fill="#00BA38"/>
<rect x="147.7" y="266" width="5.8" height="5.8" fill="#619CFF"/>
<rect x="145.9" y="260.6" width="5.8" height="5.8" fill="#619CFF"/>
<path d="M157.1 236.8L161.2 243.3L153.1 243.3Z" fill="#00BA38"/>
<path d="M167.3 251.7L171.4 258.2L163.3 258.2Z" fill="#00BA38"/>
<rect x="168.7" y="271.1" width="5.8" height="5.8" fill="#619CFF"/>
<path d="M174.5 245.2L178.6 251.7L170.5 251.7Z" fill="#00BA38"/>
<path d="M166.6 198.9L170.6 205.4L162.5 205.4Z" fill="#00BA38"/>
<rect x="200.7" y="259.1" width="5.8" height="5.8" fill="#619CFF"/>
<path d="M194.2 243.1L198.2 249.6L190.2 249.6Z" fill="#00BA38"/>
<path d="M150.1 237.9L154.1 244.4L146 244.4Z" fill="#00BA38"/>
<path d="M174.4 241.2L178.4 247.8L170.4 247.8Z" fill="#00BA38"/>
<path d="M157 250.1L161 256.7L152.9 256.7Z" fill="#00BA38"/>
<path d="M154.2 252.8L158.3 259.4L150.2 259.4Z" fill="#00BA38"/>
<path d="M141.4 250.1L145.4 256.6L137.3 256.6Z" fill="#00BA38"/>
<path d="M136.5 249.4L140.6 255.9L132.5 255.9Z" fill="#00BA38"/>
<rect x="170.1" y="274.9" width="5.8" height="5.8" fill="#619CFF"/>
<path d="M210.1 190.7L214.2 197.2L206.1 197.2Z" fill="#00BA38"/>
<circle cx="399.5" cy="260.5" r="3" fill="#F8766D"/>
<rect x="161.7" y="307.4" width="5.8" height="5.8" fill="#619CFF"/>
<path d="M152.2 226.5L156.3 233.1L148.2 233.1Z" fill="#00BA38"/>
<path d="M143.2 249.4L147.2 255.9L139.1 255.9Z" fill="#00BA38"/>
<rect x="167.8" y="269" width="5.8" height="5.8" fill="#619CFF"/>
<rect x="162.4" y="262.7" width="5.8" height="5.8" fill="#619CFF"/>
<rect x="167.6" y="274.2" width="5.8" height="5.8" fill="#619CFF"/>
<path d="M144.9 251.4L148.9 258L140.8 258Z" fill="#00BA38"/>
<rect x="144.6" y="259.5" width="5.8" height="5.8" fill="#619CFF"/>
<rect x="148.7" y="257" width="5.8" height="5.8" fill="#619CFF"/>
<path d="M178 246.8L182 253.4L173.9 253.4Z" fill="#00BA38"/>
<path d="M141 251.1L145.1 257.6L137 257.6Z" fill="#00BA38"/>
<path d="M136.2 229.9L140.3 236.4L132.2 236.4Z" fill="#00BA38"/>
<path d="M153.1 233.5L157.1 240L149 240Z" fill="#00BA38"/>
<rect x="146.6" y="257.5" width="5.8" height="5.8" fill="#619CFF"/>
<rect x="152.7" y="270.9" width="5.8" height="5.8" fill="#619CFF"/>
<path d="M192.6 220.8L196.7 227.3L188.6 227.3Z" fill="#00BA38"/>
<path d="M140.8 236.7L144.8 243.2L136.7 243.2Z" fill="#00BA38"/>
<rect x="197.1" y="261.3" width="5.8" height="5.8" fill="#619CFF"/>
<path d="M166.4 245.7L170.4 252.2L162.3 252.2Z" fill="#00BA38"/>
<path d="M161.5 241.9L165.6 248.5L157.5 248.5Z" fill="#00BA38"/>
<rect x="156.9" y="267.3" width="5.8" height="5.8" fill="#619CFF"/>
<path d="M142.6 254.1L146.7 260.7L138.6 260.7Z" fill="#00BA38"/>
<path d="M135.9 249L139.9 255.5L131.8 255.5Z" fill="#00BA38"/>
<rect x="183.1" y="309.8" width="5.8" height="5.8" fill="#619CFF"/>
<rect x="167.5" y="261.2" width="5.8" height="5.8" fill="#619CFF"/>
<rect x="153.6" y="260.9" width="5.8" height="5.8" fill="#619CFF"/>
<path d="M152.4 248L156.5 254.5L148.4 254.5Z" fill="#00BA38"/>
<rect x="142.6" y="260" width="5.8" height="5.8" fill="#619CFF"/>
<path d="M147.6 245.5L151.6 252L143.6 252Z" fill="#00BA38"/>
<path d="M205.5 167.2L209.5 173.7L201.5 173.7Z" fill="#00BA38"/>
<rect x="213.9" y="263.5" width="5.8" height="5.8" fill="#619CFF"/>
<rect x="140.6" y="260.8" width="5.8" height="5.8" fill="#619CFF"/>
<path d="M139.7 248.4L143.7 254.9L135.6 254.9Z" fill="#00BA38"/>
<path d="M263.3 202.2L267.3 208.7L259.3 208.7Z" fill="#00BA38"/>
<rect x="183.3" y="255.3" width="5.8" height="5.8" fill="#619CFF"/>
<rect x="161.4" y="260.6" width="5.8" height="5.8" fill="#619CFF"/>
<rect x="154.5" y="258.3" width="5.8" height="5.8" fill="#619CFF"/>
<rect x="151.8" y="255.2" width="5.8" height="5.8" fill="#619CFF"/>
<rect x="198.5" y="282.3" width="5.8" height="5.8" fill="#619CFF"/>
<path d="M194.4 209.3L198.4 215.8L190.3 215.8Z" fill="#00BA38"/>
<path d="M143.8 246.8L147.9 253.3L139.8 253.3Z" fill="#00BA38"/>
<path d="M137 247.3L141.1 253.8L133 253.8Z" fill="#00BA38"/>
<path d="M148 253.9L152 260.4L143.9 260.4Z" fill="#00BA38"/>
<rect x="201.6" y="316.4" width="5.8" height="5.8" fill="#619CFF"/>
<rect x="158.5" y="265.8" width="5.8" height="5.8" fill="#619CFF"/>
<rect x="177.2" y="253.2" width="5.8" height="5.8" fill="#619CFF"/>
<path d="M166.6 221.2L170.7 227.7L162.6 227.7Z" fill="#00BA38"/>
<path d="M157.9 244.9L161.9 251.4L153.8 251.4Z" fill="#00BA38"/>
<path d="M150.3 244.5L154.3 251.1L146.2 251.1Z" fill="#00BA38"/>
<rect x="164.9" y="258.9" width="5.8" height="5.8" fill="#619CFF"/>
<path d="M208.3 202.2L212.3 208.7L204.3 208.7Z" fill="#00BA38"/>
<rect x="215.1" y="298.1" width="5.8" height="5.8" fill="#619CFF"/>
<path d="M173.6 251.7L177.6 258.3L169.5 258.3Z" fill="#00BA38"/>
<rect x="242.1" y="296.1" width="5.8" height="5.8" fill="#619CFF"/>
<rect x="166.7" y="265.1" width="5.8" height="5.8" fill="#619CFF"/>
<rect x="171" y="273.1" width="5.8" height="5.8" fill="#619CFF"/>
<path d="M179.1 247.2L183.2 253.7L175.1 253.7Z" fill="#00BA38"/>
<rect x="161.1" y="255.1" width="5.8" height="5.8" fill="#619CFF"/>
<rect x="167.5" y="269.1" width="5.8" height="5.8" fill="#619CFF"/>
<path d="M206.3 246.6L210.4 253.2L202.3 253.2Z" fill="#00BA38"/>
<rect x="155.4" y="290.9" width="5.8" height="5.8" fill="#619CFF"/>
<path d="M251.8 172.7L255.8 179.2L247.8 179.2Z" fill="#00BA38"/>
<rect x="152.1" y="271" width="5.8" height="5.8" fill="#619CFF"/>
<rect x="175.9" y="275.7" width="5.8" height="5.8" fill="#619CFF"/>
<path d="M159.8 216.7L163.8 223.2L155.7 223.2Z" fill="#00BA38"/>
<rect x="140.2" y="263.1" width="5.8" height="5.8" fill="#619CFF"/>
<path d="M161.6 223.2L165.6 229.7L157.5 229.7Z" fill="#00BA38"/>
<path d="M159.8 240L163.8 246.5L155.7 246.5Z" fill="#00BA38"/>
<rect x="162.1" y="255" width="5.8" height="5.8" fill="#619CFF"/>
<rect x="163.5" y="272.8" width="5.8" height="5.8" fill="#619CFF"/>
<rect x="159.6" y="258.3" width="5.8" height="5.8" fill="#619CFF"/>
<path d="M219.2 227.1L223.2 233.7L215.1 233.7Z" fill="#00BA38"/>
<rect x="174.4" y="284.8" width="5.8" height="5.8" fill="#619CFF"/>
<rect x="158" y="277.2" width="5.8" height="5.8" fill="#619CFF"/>
<rect x="166.9" y="262.5" width="5.8" height="5.8" fill="#619CFF"/>
<rect x="194.7" y="255.3" width="5.8" height="5.8" fill="#619CFF"/>
<path d="M195.5 170.7L199.5 177.2L191.5 177.2Z" fill="#00BA38"/>
<path d="M154.7 239.6L158.7 246.1L150.6 246.1Z" fill="#00BA38"/>
<path d="M142.2 253.4L146.3 259.9L138.2 259.9Z" fill="#00BA38"/>
<rect x="152.9" y="266" width="5.8" height="5.8" fill="#619CFF"/>
<path d="M172.4 230L176.5 236.5L168.4 236.5Z" fill="#00BA38"/>
<rect x="270.8" y="242.8" width="5.8" height="5.8" fill="#619CFF"/>
<rect x="151.8" y="262" width="5.8" height="5.8" fill="#619CFF"/>
<rect x="181.1" y="274.7" width="5.8" height="5.8" fill="#619CFF"/>
<path d="M154.7 246.8L158.7 253.3L150.6 253.3Z" fill="#00BA38"/>
<rect x="238.9" y="322.5" width="5.8" height="5.8" fill="#619CFF"/>
<rect x="149.3" y="263" width="5.8" height="5.8" fill="#619CFF"/>
<rect x="138" y="257" width="5.8" height="5.8" fill="#619CFF"/>
<rect x="230.1" y="253.7" width="5.8" height="5.8" fill="#619CFF"/>
<path d="M142.7 236L146.7 242.5L138.7 242.5Z" fill="#00BA38"/>
<path d="M166.3 248.8L170.4 255.4L162.3 255.4Z" fill="#00BA38"/>
<rect x="159.1" y="260.4" width="5.8" height="5.8" fill="#619CFF"/>
<rect x="285.3" y="292.3" width="5.8" height="5.8" fill="#619CFF"/>
<path d="M151.5 235.8L155.5 242.4L147.4 242.4Z" fill="#00BA38"/>
<rect x="218.1" y="293.1" width="5.8" height="5.8" fill="#619CFF"/>
<rect x="163.8" y="265.7" width="5.8" height="5.8" fill="#619CFF"/>
<path d="M136.3 242L140.3 248.5L132.2 248.5Z" fill="#00BA38"/>
<rect x="168.1" y="277.8" width="5.8" height="5.8" fill="#619CFF"/>
<rect x="207.1" y="282.9" width="5.8" height="5.8" fill="#619CFF"/>
<rect x="173.7" y="273.5" width="5.8" height="5.8" fill="#619CFF"/>
<rect x="159.3" y="267.5" width="5.8" height="5.8" fill="#619CFF"/>
<rect x="181.8" y="256.2" width="5.8" height="5.8" fill="#619CFF"/>
<path d="M147.4 252.5L151.5 259.1L143.4 259.1Z" fill="#00BA38"/>
<rect x="147.6" y="256" width="5.8" height="5.8" fill="#619CFF"/>
<path d="M181.7 219.1L185.8 225.6L177.7 225.6Z" fill="#00BA38"/>
<rect x="223.8" y="289.1" width="5.8" height="5.8" fill="#619CFF"/>
<rect x="150.3" y="272.1" width="5.8" height="5.8" fill="#619CFF"/>
<rect x="154.4" y="255.2" width="5.8" height="5.8" fill="#619CFF"/>
<circle cx="334.3" cy="263" r="3" fill="#F8766D"/>
<rect x="162.4" y="263.8" width="5.8" height="5.8" fill="#619CFF"/>
<path d="M139.4 252.4L143.5 258.9L135.4 258.9Z" fill="#00BA38"/>
<path d="M136.8 250L140.9 256.6L132.8 256.6Z" fill="#00BA38"/>
<path d="M136.2 244.5L140.3 251.1L132.2 251.1Z" fill="#00BA38"/>
<rect x="180.1" y="269" width="5.8" height="5.8" fill="#619CFF"/>
<path d="M175.2 249.2L179.3 255.7L171.2 255.7Z" fill="#00BA38"/>
<rect x="192.4" y="270.6" width="5.8" height="5.8" fill="#619CFF"/>
<rect x="169.4" y="253.5" width="5.8" height="5.8" fill="#619CFF"/>
<rect x="175.8" y="260.9" width="5.8" height="5.8" fill="#619CFF"/>
<path d="M132.8 230.4L136.9 237L128.8 237Z" fill="#00BA38"/>
<rect x="217.2" y="258.6" width="5.8" height="5.8" fill="#619CFF"/>
<path d="M163.6 243L167.7 249.5L159.6 249.5Z" fill="#00BA38"/>
<rect x="187.5" y="256.8" width="5.8" height="5.8" fill="#619CFF"/>
<path d="M141.8 228.3L145.9 234.8L137.8 234.8Z" fill="#00BA38"/>
<circle cx="492.8" cy="269.3" r="3" fill="#F8766D"/>
<path d="M165.4 247.9L169.4 254.4L161.4 254.4Z" fill="#00BA38"/>
<path d="M185.9 246.7L189.9 253.3L181.8 253.3Z" fill="#00BA38"/>
<path d="M158.8 226.9L162.9 233.4L154.8 233.4Z" fill="#00BA38"/>
<path d="M205.4 247.6L209.5 254.1L201.4 254.1Z" fill="#00BA38"/>
<rect x="137.2" y="256.9" width="5.8" height="5.8" fill="#619CFF"/>
<rect x="190.8" y="319.8" width="5.8" height="5.8" fill="#619CFF"/>
<path d="M221.2 238.7L225.3 245.2L217.2 245.2Z" fill="#00BA38"/>
<rect x="160.6" y="275.8" width="5.8" height="5.8" fill="#619CFF"/>
<path d="M163.1 250.3L167.2 256.9L159.1 256.9Z" fill="#00BA38"/>
<path d="M195.3 189L199.3 195.5L191.3 195.5Z" fill="#00BA38"/>
<path d="M151.6 253.3L155.7 259.8L147.6 259.8Z" fill="#00BA38"/>
<path d="M164 243.2L168 249.7L159.9 249.7Z" fill="#00BA38"/>
<path d="M139.7 254.3L143.7 260.8L135.6 260.8Z" fill="#00BA38"/>
<path d="M167.2 236L171.2 242.5L163.1 242.5Z" fill="#00BA38"/>
<path d="M148.2 251.5L152.2 258L144.1 258Z" fill="#00BA38"/>
<rect x="160.6" y="258.4" width="5.8" height="5.8" fill="#619CFF"/>
<path d="M150.3 244.7L154.4 251.3L146.3 251.3Z" fill="#00BA38"/>
<path d="M144.3 253.2L148.4 259.7L140.3 259.7Z" fill="#00BA38"/>
<rect x="143.9" y="260.1" width="5.8" height="5.8" fill="#619CFF"/>
<path d="M156.9 251.7L161 258.2L152.9 258.2Z" fill="#00BA38"/>
<path d="M136.3 242.2L140.4 248.8L132.3 248.8Z" fill="#00BA38"/>
<rect x="150.6" y="263.8" width="5.8" height="5.8" fill="#619CFF"/>
<path d="M153.1 226.3L157.1 232.8L149 232.8Z" fill="#00BA38"/>
<rect x="166.7" y="261.7" width="5.8" height="5.8" fill="#619CFF"/>
<rect x="164" y="279" width="5.8" height="5.8" fill="#619CFF"/>
<path d="M158.9 218.7L163 225.3L154.9 225.3Z" fill="#00BA38"/>
<rect x="176.9" y="273.8" width="5.8" height="5.8" fill="#619CFF"/>
<rect x="184" y="261.9" width="5.8" height="5.8" fill="#619CFF"/>
<path d="M144.9 225.5L149 232L140.9 232Z" fill="#00BA38"/>
<rect x="219.2" y="268.3" width="5.8" height="5.8" fill="#619CFF"/>
<rect x="146.3" y="264.9" width="5.8" height="5.8" fill="#619CFF"/>
<rect x="175.7" y="274.8" width="5.8" height="5.8" fill="#619CFF"/>
<rect x="165.3" y="267.9" width="5.8" height="5.8" fill="#619CFF"/>
<path d="M149.5 251.6L153.6 258.1L145.5 258.1Z" fill="#00BA38"/>
<path d="M141.5 243.5L145.6 250.1L137.5 250.1Z" fill="#00BA38"/>
<rect x="194" y="267.4" width="5.8" height="5.8" fill="#619CFF"/>
<path d="M162.4 247.5L166.4 254L158.3 254Z" fill="#00BA38"/>
<path d="M152.7 252.4L156.7 258.9L148.6 258.9Z" fill="#00BA38"/>
<path d="M142.1 241L146.2 247.5L138.1 247.5Z" fill="#00BA38"/>
<path d="M134 229.3L138.1 235.8L130 235.8Z" fill="#00BA38"/>
<rect x="176.3" y="260.6" width="5.8" height="5.8" fill="#619CFF"/>
<path d="M145.7 222L149.8 228.6L141.7 228.6Z" fill="#00BA38"/>
<rect x="155" y="260.6" width="5.8" height="5.8" fill="#619CFF"/>
<rect x="174.8" y="258.6" width="5.8" height="5.8" fill="#619CFF"/>
<rect x="153.3" y="259.4" width="5.8" height="5.8" fill="#619CFF"/>
<rect x="203.3" y="283.1" width="5.8" height="5.8" fill="#619CFF"/>
<rect x="168" y="254.6" width="5.8" height="5.8" fill="#619CFF"/>
<rect x="293.4" y="244.4" width="5.8" height="5.8" fill="#619CFF"/>
<rect x="148" y="259.5" width="5.8" height="5.8" fill="#619CFF"/>
<path d="M334.3 263L696 136L1074 243.5L422.5 516Z" fill="none" stroke="#F8766D" stroke-width="1.1" stroke-linejoin="round"/>
<path d="M127 237L145.8 215.3L226.7 152.5L346 51L327 197L263.2 232.7L215 252L150 258L134 251Z" fill="none" stroke="#00BA38" stroke-width="1.1" stroke-linejoin="round"/>
<path d="M134 257L246 250L273.7 245.7L296.3 247.3L317.5 246.8L313.8 276.2L272 372L194.8 348.5L160 322L135 254Z" fill="none" stroke="#619CFF" stroke-width="1.1" stroke-linejoin="round"/>
<circle cx="485.5" cy="272.5" r="4.6" fill="#F8766D"/>
<path d="M117.5 230L137 247" stroke="#6E6E6E" stroke-width="1" fill="none"/>
<path d="M125 264L137 262" stroke="#6E6E6E" stroke-width="1" fill="none"/>
<path d="M108.7 275L137 265" stroke="#6E6E6E" stroke-width="1" fill="none"/>
<path d="M187.5 282.5L155 268" stroke="#6E6E6E" stroke-width="1" fill="none"/>
<path d="M185 260L200 260" stroke="#6E6E6E" stroke-width="1" fill="none"/>
<path d="M160 262L150 262" stroke="#6E6E6E" stroke-width="1" fill="none"/>
<path d="M150 244L140 250" stroke="#6E6E6E" stroke-width="1" fill="none"/>
<path d="M175 226L150 250" stroke="#6E6E6E" stroke-width="1" fill="none"/>
<path d="M190 240L152 256" stroke="#6E6E6E" stroke-width="1" fill="none"/>
<text x="205" y="198.3" font-size="12" fill="#717171" text-anchor="middle">NAS</text>
<text x="104" y="224.3" font-size="12" fill="#717171" text-anchor="middle">GVT</text>
<text x="152" y="224.8" font-size="12" fill="#717171" text-anchor="middle">MANA</text>
<text x="198" y="242.3" font-size="12" fill="#717171" text-anchor="middle">ARN</text>
<text x="125" y="246.3" font-size="12" fill="#717171" text-anchor="middle">BAT</text>
<text x="111" y="268.3" font-size="12" fill="#717171" text-anchor="middle">DGB</text>
<text x="172" y="266.3" font-size="12" fill="#717171" text-anchor="middle">DCN</text>
<text x="211" y="266.3" font-size="12" fill="#717171" text-anchor="middle">SC</text>
<text x="106" y="291" font-size="12" fill="#717171" text-anchor="middle">DASH</text>
<text x="203" y="288.3" font-size="12" fill="#717171" text-anchor="middle">GNT</text>
<text x="163" y="288.3" font-size="12" fill="#717171" text-anchor="middle">QTUM</text>
<text x="147.5" y="310.3" font-size="12" fill="#717171" text-anchor="middle">LSK</text>
<text x="193" y="309.3" font-size="12" fill="#717171" text-anchor="middle">STRAT</text>
<text x="247" y="289.3" font-size="12" fill="#717171" text-anchor="middle">BCD</text>
<text x="315" y="259.3" font-size="12" fill="#717171" text-anchor="middle">BLX</text>
<text x="308.5" y="213.3" font-size="12" fill="#717171" text-anchor="middle">REE</text>
<text x="322.5" y="310.3" font-size="12" fill="#717171" text-anchor="middle">ADCN</text>
<text x="368.5" y="287.3" font-size="12" fill="#717171" text-anchor="middle">STAR</text>
<text x="407" y="269.3" font-size="12" fill="#717171" text-anchor="middle">ITT</text>
<text x="617.5" y="277.3" font-size="12" fill="#717171" text-anchor="middle">LBTC</text>
<text x="690" y="245.3" font-size="12" fill="#717171" text-anchor="middle">YOVI</text>
<text x="713" y="132.3" font-size="12" fill="#717171" text-anchor="middle">XIN*</text>
<text x="1052" y="259.3" font-size="12" fill="#717171" text-anchor="middle">AMIS</text>
<text x="440.5" y="512.3" font-size="12" fill="#717171" text-anchor="middle">RIPT</text>
<text x="254" y="387.3" font-size="12" fill="#717171" text-anchor="middle">NBT</text>
<text x="172" y="367.3" font-size="12" fill="#717171" text-anchor="middle">DROP</text>
<text x="364.5" y="48.3" font-size="12" fill="#717171" text-anchor="middle">XMO</text>
<circle cx="141.6" cy="262.8" r="3" fill="#FF0000"/>
<circle cx="145.4" cy="265.7" r="3" fill="#FF0000"/>
<circle cx="145" cy="262.1" r="3" fill="#FF0000"/>
<circle cx="145.2" cy="261.8" r="3" fill="#FF0000"/>
<circle cx="146.5" cy="260.7" r="3" fill="#FF0000"/>
<circle cx="149.6" cy="260.4" r="3" fill="#FF0000"/>
<circle cx="143.6" cy="259.5" r="3" fill="#FF0000"/>
<circle cx="141.6" cy="253.4" r="3" fill="#FF0000"/>
<circle cx="144.8" cy="262.9" r="3" fill="#FF0000"/>
<circle cx="140" cy="257.1" r="3" fill="#FF0000"/>
<circle cx="145.1" cy="261.5" r="3" fill="#FF0000"/>
<circle cx="139.6" cy="252.6" r="3" fill="#FF0000"/>
<circle cx="140.4" cy="265.1" r="3" fill="#FF0000"/>
<circle cx="142.1" cy="267" r="3" fill="#FF0000"/>
<circle cx="147.5" cy="267.7" r="3" fill="#FF0000"/>
<circle cx="151.2" cy="268.2" r="3" fill="#FF0000"/>
<circle cx="145.9" cy="265.5" r="3" fill="#FF0000"/>
<circle cx="144.9" cy="265.9" r="3" fill="#FF0000"/>
<circle cx="144.5" cy="258.6" r="3" fill="#FF0000"/>
<circle cx="140.1" cy="256.3" r="3" fill="#FF0000"/>
<circle cx="140.9" cy="252.6" r="3" fill="#FF0000"/>
<circle cx="142.9" cy="260.8" r="3" fill="#FF0000"/>
<circle cx="142" cy="257.7" r="3" fill="#FF0000"/>
<circle cx="143.6" cy="257.9" r="3" fill="#FF0000"/>
<circle cx="148.8" cy="277.9" r="3" fill="#FF0000"/>
<circle cx="144" cy="251.1" r="3" fill="#FF0000"/>
<circle cx="146.1" cy="257.4" r="3" fill="#FF0000"/>
<circle cx="144.3" cy="259.4" r="3" fill="#FF0000"/>
<circle cx="146.5" cy="264.8" r="3" fill="#FF0000"/>
<circle cx="144.3" cy="266.8" r="3" fill="#FF0000"/>
<circle cx="142.8" cy="260.7" r="3" fill="#FF0000"/>
<circle cx="143.1" cy="263.3" r="3" fill="#FF0000"/>
<circle cx="146.5" cy="264.3" r="3" fill="#FF0000"/>
<circle cx="139.8" cy="255" r="3" fill="#FF0000"/>
<circle cx="141.3" cy="262" r="3" fill="#FF0000"/>
<circle cx="135.4" cy="254.1" r="3" fill="#FF0000"/>
<circle cx="142.3" cy="259.6" r="3" fill="#FF0000"/>
<circle cx="143.2" cy="259.7" r="3" fill="#FF0000"/>
<circle cx="144.5" cy="270.8" r="3" fill="#FF0000"/>
<circle cx="145" cy="264.2" r="3" fill="#FF0000"/>
<circle cx="144.1" cy="260.2" r="3" fill="#FF0000"/>
<circle cx="149.7" cy="273" r="3" fill="#FF0000"/>
<circle cx="143.7" cy="260.6" r="3" fill="#FF0000"/>
<circle cx="146.6" cy="272" r="3" fill="#FF0000"/>
<circle cx="147.6" cy="269.7" r="3" fill="#FF0000"/>
<circle cx="142.3" cy="255.4" r="3" fill="#FF0000"/>
<circle cx="149.2" cy="263.9" r="3" fill="#FF0000"/>
<circle cx="144.4" cy="259.7" r="3" fill="#FF0000"/>
<circle cx="144.1" cy="263" r="3" fill="#FF0000"/>
<circle cx="143.1" cy="259.3" r="3" fill="#FF0000"/>
<circle cx="145.5" cy="262.5" r="3" fill="#FF0000"/>
<circle cx="151.3" cy="273.7" r="3" fill="#FF0000"/>
<circle cx="143.1" cy="266.4" r="3" fill="#FF0000"/>
<circle cx="144.8" cy="258.9" r="3" fill="#FF0000"/>
<circle cx="141.1" cy="254.8" r="3" fill="#FF0000"/>
<circle cx="145.5" cy="263.5" r="3" fill="#FF0000"/>
<circle cx="139.7" cy="255.7" r="3" fill="#FF0000"/>
<circle cx="143.6" cy="257.6" r="3" fill="#FF0000"/>
<circle cx="150.7" cy="273.9" r="3" fill="#FF0000"/>
<circle cx="142.7" cy="260.9" r="3" fill="#FF0000"/>
<circle cx="149.9" cy="270.4" r="3" fill="#FF0000"/>
<circle cx="145.3" cy="264.4" r="3" fill="#FF0000"/>
<circle cx="139.7" cy="257.6" r="3" fill="#FF0000"/>
<circle cx="146.1" cy="266" r="3" fill="#FF0000"/>
<circle cx="143.2" cy="261" r="3" fill="#FF0000"/>
<circle cx="139.5" cy="255.9" r="3" fill="#FF0000"/>
<circle cx="146.1" cy="267.4" r="3" fill="#FF0000"/>
<circle cx="145.8" cy="259.7" r="3" fill="#FF0000"/>
<circle cx="144.9" cy="263.8" r="3" fill="#FF0000"/>
<circle cx="148.9" cy="266.2" r="3" fill="#FF0000"/>
<circle cx="141" cy="255.1" r="3" fill="#FF0000"/>
<circle cx="140.5" cy="257.7" r="3" fill="#FF0000"/>
<circle cx="141.9" cy="266.8" r="3" fill="#FF0000"/>
<circle cx="142.7" cy="264.1" r="3" fill="#FF0000"/>
<circle cx="142.6" cy="258.7" r="3" fill="#FF0000"/>
<circle cx="146.6" cy="264.6" r="3" fill="#FF0000"/>
<circle cx="142.4" cy="262.7" r="3" fill="#FF0000"/>
<circle cx="143.7" cy="265.7" r="3" fill="#FF0000"/>
<circle cx="141.9" cy="264" r="3" fill="#FF0000"/>
<circle cx="140.2" cy="264.1" r="3" fill="#FF0000"/>
<circle cx="144.8" cy="265.3" r="3" fill="#FF0000"/>
<circle cx="143.7" cy="259.5" r="3" fill="#FF0000"/>
<circle cx="150.4" cy="264.9" r="3" fill="#FF0000"/>
<circle cx="138.4" cy="256.9" r="3" fill="#FF0000"/>
<circle cx="145.7" cy="262.4" r="3" fill="#FF0000"/>
<circle cx="142" cy="263.7" r="3" fill="#FF0000"/>
<circle cx="145.7" cy="258.6" r="3" fill="#FF0000"/>
<circle cx="142.8" cy="257.6" r="3" fill="#FF0000"/>
<circle cx="140.2" cy="256.7" r="3" fill="#FF0000"/>
<circle cx="143.3" cy="258.5" r="3" fill="#FF0000"/>
<circle cx="152.4" cy="273.4" r="3" fill="#FF0000"/>
<circle cx="146.7" cy="262.6" r="3" fill="#FF0000"/>
<circle cx="141.3" cy="252" r="3" fill="#FF0000"/>
<circle cx="146.7" cy="264.2" r="3" fill="#FF0000"/>
<circle cx="140.7" cy="258" r="3" fill="#FF0000"/>
<circle cx="144.4" cy="261.8" r="3" fill="#FF0000"/>
<circle cx="148.1" cy="266.9" r="3" fill="#FF0000"/>
<circle cx="146.3" cy="270" r="3" fill="#FF0000"/>
<circle cx="148.3" cy="270.9" r="3" fill="#FF0000"/>
<circle cx="145.1" cy="265.7" r="3" fill="#FF0000"/>
<circle cx="141.3" cy="253.6" r="3" fill="#FF0000"/>
<circle cx="139.6" cy="259.3" r="3" fill="#FF0000"/>
<circle cx="146.8" cy="266.7" r="3" fill="#FF0000"/>
<circle cx="147.9" cy="268.4" r="3" fill="#FF0000"/>
<circle cx="144.9" cy="261.5" r="3" fill="#FF0000"/>
<circle cx="142.6" cy="252.9" r="3" fill="#FF0000"/>
<circle cx="144.4" cy="265.4" r="3" fill="#FF0000"/>
<circle cx="146.6" cy="265.3" r="3" fill="#FF0000"/>
<circle cx="144.1" cy="263" r="3" fill="#FF0000"/>
<circle cx="143.4" cy="263" r="3" fill="#FF0000"/>
<path d="M103.7 196L140 254" stroke="#FF0000" stroke-width="1.15" fill="none"/>
<path d="M105 218L138 256" stroke="#FF0000" stroke-width="1.15" fill="none"/>
<path d="M113.7 241L139 258" stroke="#FF0000" stroke-width="1.15" fill="none"/>
<path d="M113 260.5L137 260.5" stroke="#FF0000" stroke-width="1.15" fill="none"/>
<path d="M112 278L138 266" stroke="#FF0000" stroke-width="1.15" fill="none"/>
<path d="M110 296L141 270" stroke="#FF0000" stroke-width="1.15" fill="none"/>
<path d="M125 325L143 275" stroke="#FF0000" stroke-width="1.15" fill="none"/>
<path d="M147 306L146 277" stroke="#FF0000" stroke-width="1.15" fill="none"/>
<path d="M190 322.5L150 272" stroke="#FF0000" stroke-width="1.15" fill="none"/>
<path d="M180 290L151 270" stroke="#FF0000" stroke-width="1.15" fill="none"/>
<path d="M235 303.7L152 268" stroke="#FF0000" stroke-width="1.15" fill="none"/>
<path d="M203.7 271.7L152 266" stroke="#FF0000" stroke-width="1.15" fill="none"/>
<path d="M172 266L152 264" stroke="#FF0000" stroke-width="1.15" fill="none"/>
<path d="M175 249L151 259" stroke="#FF0000" stroke-width="1.15" fill="none"/>
<path d="M215 238.7L151 258" stroke="#FF0000" stroke-width="1.15" fill="none"/>
<path d="M180 223.7L149 255" stroke="#FF0000" stroke-width="1.15" fill="none"/>
<path d="M182.5 201L147 252" stroke="#FF0000" stroke-width="1.15" fill="none"/>
<path d="M143.7 222.5L143 250" stroke="#FF0000" stroke-width="1.15" fill="none"/>
<text x="102.5" y="195.9" font-size="12" fill="#FF0000" text-anchor="middle" stroke="#FF0000" stroke-width="0.35">BTC</text>
<text x="100" y="217.9" font-size="12" fill="#FF0000" text-anchor="middle" stroke="#FF0000" stroke-width="0.35">ETH</text>
<text x="143" y="219.9" font-size="12" fill="#FF0000" text-anchor="middle" stroke="#FF0000" stroke-width="0.35">ETC</text>
<text x="180" y="198.9" font-size="12" fill="#FF0000" text-anchor="middle" stroke="#FF0000" stroke-width="0.35">EOS</text>
<text x="186" y="224.9" font-size="12" fill="#FF0000" text-anchor="middle" stroke="#FF0000" stroke-width="0.35">BTM*</text>
<text x="107" y="242.4" font-size="12" fill="#FF0000" text-anchor="middle" stroke="#FF0000" stroke-width="0.35">XMR</text>
<text x="148" y="245.4" font-size="12" fill="#FF0000" text-anchor="middle" stroke="#FF0000" stroke-width="0.35">XRP</text>
<text x="227" y="244.4" font-size="12" fill="#FF0000" text-anchor="middle" stroke="#FF0000" stroke-width="0.35">IOT</text>
<text x="188" y="250.9" font-size="12" fill="#FF0000" text-anchor="middle" stroke="#FF0000" stroke-width="0.35">MCO</text>
<text x="98.5" y="264.9" font-size="12" fill="#FF0000" text-anchor="middle" stroke="#FF0000" stroke-width="0.35">LTC</text>
<text x="181" y="271.4" font-size="12" fill="#FF0000" text-anchor="middle" stroke="#FF0000" stroke-width="0.35">SC</text>
<text x="216" y="277.4" font-size="12" fill="#FF0000" text-anchor="middle" stroke="#FF0000" stroke-width="0.35">BCH</text>
<text x="103" y="286.9" font-size="12" fill="#FF0000" text-anchor="middle" stroke="#FF0000" stroke-width="0.35">ZEC</text>
<text x="147" y="288.9" font-size="12" fill="#FF0000" text-anchor="middle" stroke="#FF0000" stroke-width="0.35">HSR</text>
<text x="193" y="299.9" font-size="12" fill="#FF0000" text-anchor="middle" stroke="#FF0000" stroke-width="0.35">XVG</text>
<text x="106" y="310.9" font-size="12" fill="#FF0000" text-anchor="middle" stroke="#FF0000" stroke-width="0.35">DASH</text>
<text x="147.5" y="317.4" font-size="12" fill="#FF0000" text-anchor="middle" stroke="#FF0000" stroke-width="0.35">LSK</text>
<text x="235" y="319.4" font-size="12" fill="#FF0000" text-anchor="middle" stroke="#FF0000" stroke-width="0.35">ICX</text>
<text x="123" y="340.9" font-size="12" fill="#FF0000" text-anchor="middle" stroke="#FF0000" stroke-width="0.35">NEO</text>
<text x="189" y="337.4" font-size="12" fill="#FF0000" text-anchor="middle" stroke="#FF0000" stroke-width="0.35">QTUM</text>
</g>
<g transform="translate(0,678.5)">
<path d="M172.7 201.5L144 214.8L127 237L134 251L160 322L165 325L173 306L182 286L182 247L178 215Z" fill="none" stroke="#00BF7D" stroke-width="1.1" stroke-linejoin="round"/>
<rect x="136.8" y="249.8" width="5.8" height="5.8" fill="#00BF7D"/>
<rect x="166.7" y="261.7" width="5.8" height="5.8" fill="#00BF7D"/>
<rect x="146.1" y="259.9" width="5.8" height="5.8" fill="#00BF7D"/>
<path d="M248.6 259.5H257.4M253 255.1V263.9" stroke="#00B0F6" stroke-width="1.3" fill="none"/>
<circle cx="194.2" cy="247.4" r="3" fill="#F8766D"/>
<path d="M450.3 243.1H456.7V249.5H450.3ZM450.3 243.1L456.7 249.5M450.3 249.5L456.7 243.1" stroke="#E76BF3" stroke-width="1.05" fill="none"/>
<circle cx="185.1" cy="248" r="3" fill="#F8766D"/>
<circle cx="163.5" cy="237.7" r="3" fill="#F8766D"/>
<rect x="144.1" y="245.6" width="5.8" height="5.8" fill="#00BF7D"/>
<rect x="173.1" y="254.6" width="5.8" height="5.8" fill="#00BF7D"/>
<rect x="145" y="248.3" width="5.8" height="5.8" fill="#00BF7D"/>
<rect x="163" y="268" width="5.8" height="5.8" fill="#00BF7D"/>
<rect x="149.2" y="248.3" width="5.8" height="5.8" fill="#00BF7D"/>
<rect x="167.5" y="269.1" width="5.8" height="5.8" fill="#00BF7D"/>
<rect x="154.3" y="268.1" width="5.8" height="5.8" fill="#00BF7D"/>
<circle cx="213.8" cy="276.8" r="3" fill="#F8766D"/>
<rect x="168.2" y="259.2" width="5.8" height="5.8" fill="#00BF7D"/>
<circle cx="204.1" cy="269.5" r="3" fill="#F8766D"/>
<rect x="157.4" y="272.9" width="5.8" height="5.8" fill="#00BF7D"/>
<circle cx="195.8" cy="253.5" r="3" fill="#F8766D"/>
<circle cx="203.9" cy="275.8" r="3" fill="#F8766D"/>
<rect x="169.8" y="301.8" width="5.8" height="5.8" fill="#00BF7D"/>
<rect x="166.4" y="256.1" width="5.8" height="5.8" fill="#00BF7D"/>
<circle cx="221" cy="257.4" r="3" fill="#F8766D"/>
<rect x="156.8" y="269.4" width="5.8" height="5.8" fill="#00BF7D"/>
<rect x="162.4" y="262.7" width="5.8" height="5.8" fill="#00BF7D"/>
<rect x="173.3" y="273.2" width="5.8" height="5.8" fill="#00BF7D"/>
<rect x="139.4" y="246.2" width="5.8" height="5.8" fill="#00BF7D"/>
<rect x="147.9" y="250.1" width="5.8" height="5.8" fill="#00BF7D"/>
<circle cx="188.4" cy="265.2" r="3" fill="#F8766D"/>
<circle cx="193.1" cy="208.8" r="3" fill="#F8766D"/>
<rect x="159.8" y="319.8" width="5.8" height="5.8" fill="#00BF7D"/>
<circle cx="188.5" cy="219.6" r="3" fill="#F8766D"/>
<rect x="149.5" y="265.8" width="5.8" height="5.8" fill="#00BF7D"/>
<rect x="166.9" y="271.3" width="5.8" height="5.8" fill="#00BF7D"/>
<path d="M329.9 263H338.7M334.3 258.6V267.4" stroke="#00B0F6" stroke-width="1.3" fill="none"/>
<rect x="169.2" y="254.2" width="5.8" height="5.8" fill="#00BF7D"/>
<circle cx="196.9" cy="270.3" r="3" fill="#F8766D"/>
<rect x="171.8" y="265.6" width="5.8" height="5.8" fill="#00BF7D"/>
<circle cx="207.5" cy="218.6" r="3" fill="#F8766D"/>
<rect x="137.2" y="260.8" width="5.8" height="5.8" fill="#00BF7D"/>
<rect x="163.6" y="252" width="5.8" height="5.8" fill="#00BF7D"/>
<circle cx="197.9" cy="305.2" r="3" fill="#F8766D"/>
<circle cx="167" cy="231.6" r="3" fill="#F8766D"/>
<circle cx="180.1" cy="256.1" r="3" fill="#F8766D"/>
<rect x="155" y="246.3" width="5.8" height="5.8" fill="#00BF7D"/>
<circle cx="183.1" cy="266.4" r="3" fill="#F8766D"/>
<rect x="161.1" y="261" width="5.8" height="5.8" fill="#00BF7D"/>
<circle cx="184.4" cy="268.6" r="3" fill="#F8766D"/>
<rect x="153.8" y="269.4" width="5.8" height="5.8" fill="#00BF7D"/>
<rect x="160.4" y="243.9" width="5.8" height="5.8" fill="#00BF7D"/>
<path d="M206.3 246.6L210.4 253.2L202.3 253.2Z" fill="#A3A500"/>
<rect x="162.8" y="276.8" width="5.8" height="5.8" fill="#00BF7D"/>
<circle cx="211.5" cy="285.8" r="3" fill="#F8766D"/>
<rect x="142.8" y="256.6" width="5.8" height="5.8" fill="#00BF7D"/>
<circle cx="198.7" cy="256" r="3" fill="#F8766D"/>
<circle cx="194.3" cy="225.4" r="3" fill="#F8766D"/>
<rect x="150.6" y="250.7" width="5.8" height="5.8" fill="#00BF7D"/>
<rect x="155.2" y="244.5" width="5.8" height="5.8" fill="#00BF7D"/>
<rect x="147.6" y="256" width="5.8" height="5.8" fill="#00BF7D"/>
<rect x="148.9" y="261.4" width="5.8" height="5.8" fill="#00BF7D"/>
<rect x="138.2" y="260.1" width="5.8" height="5.8" fill="#00BF7D"/>
<rect x="162.1" y="255" width="5.8" height="5.8" fill="#00BF7D"/>
<rect x="167.3" y="260.9" width="5.8" height="5.8" fill="#00BF7D"/>
<circle cx="212.2" cy="270.3" r="3" fill="#F8766D"/>
<rect x="149.9" y="278" width="5.8" height="5.8" fill="#00BF7D"/>
<path d="M247.6 268H256.4M252 263.6V272.4" stroke="#00B0F6" stroke-width="1.3" fill="none"/>
<rect x="148.8" y="241.6" width="5.8" height="5.8" fill="#00BF7D"/>
<rect x="139.3" y="247.5" width="5.8" height="5.8" fill="#00BF7D"/>
<rect x="147.5" y="278.2" width="5.8" height="5.8" fill="#00BF7D"/>
<circle cx="180.8" cy="261" r="3" fill="#F8766D"/>
<path d="M246.6 220.7H255.4M251 216.3V225.1" stroke="#00B0F6" stroke-width="1.3" fill="none"/>
<circle cx="172.4" cy="234.3" r="3" fill="#F8766D"/>
<rect x="138.9" y="229.8" width="5.8" height="5.8" fill="#00BF7D"/>
<rect x="147.3" y="251.8" width="5.8" height="5.8" fill="#00BF7D"/>
<rect x="172.3" y="250.7" width="5.8" height="5.8" fill="#00BF7D"/>
<path d="M228.6 256.6H237.4M233 252.2V261" stroke="#00B0F6" stroke-width="1.3" fill="none"/>
<path d="M322.6 197H331.4M327 192.6V201.4" stroke="#00B0F6" stroke-width="1.3" fill="none"/>
<rect x="159.4" y="246.4" width="5.8" height="5.8" fill="#00BF7D"/>
<rect x="147.7" y="266" width="5.8" height="5.8" fill="#00BF7D"/>
<rect x="156.9" y="267.3" width="5.8" height="5.8" fill="#00BF7D"/>
<rect x="175.9" y="275.7" width="5.8" height="5.8" fill="#00BF7D"/>
<rect x="159.8" y="262.8" width="5.8" height="5.8" fill="#00BF7D"/>
<circle cx="185.5" cy="270.4" r="3" fill="#F8766D"/>
<path d="M252.6 233.7H261.4M257 229.3V238.1" stroke="#00B0F6" stroke-width="1.3" fill="none"/>
<rect x="163.7" y="252.6" width="5.8" height="5.8" fill="#00BF7D"/>
<rect x="149.8" y="253.8" width="5.8" height="5.8" fill="#00BF7D"/>
<path d="M221.6 184.5H230.4M226 180.1V188.9" stroke="#00B0F6" stroke-width="1.3" fill="none"/>
<rect x="175.2" y="263.1" width="5.8" height="5.8" fill="#00BF7D"/>
<rect x="147.4" y="246.2" width="5.8" height="5.8" fill="#00BF7D"/>
<circle cx="181.2" cy="230.1" r="3" fill="#F8766D"/>
<rect x="154.2" y="286.9" width="5.8" height="5.8" fill="#00BF7D"/>
<circle cx="209.3" cy="267.6" r="3" fill="#F8766D"/>
<rect x="160.7" y="244.5" width="5.8" height="5.8" fill="#00BF7D"/>
<rect x="147.2" y="265.1" width="5.8" height="5.8" fill="#00BF7D"/>
<rect x="140.4" y="267.7" width="5.8" height="5.8" fill="#00BF7D"/>
<path d="M247.4 177H256.2M251.8 172.6V181.4" stroke="#00B0F6" stroke-width="1.3" fill="none"/>
<path d="M273.7 241.3L277.7 247.9L269.7 247.9Z" fill="#A3A500"/>
<rect x="142.8" y="251.1" width="5.8" height="5.8" fill="#00BF7D"/>
<rect x="158.9" y="285.2" width="5.8" height="5.8" fill="#00BF7D"/>
<rect x="154.6" y="259.7" width="5.8" height="5.8" fill="#00BF7D"/>
<rect x="137.1" y="251.2" width="5.8" height="5.8" fill="#00BF7D"/>
<circle cx="204" cy="213.6" r="3" fill="#F8766D"/>
<circle cx="175.4" cy="240.8" r="3" fill="#F8766D"/>
<rect x="151" y="259.1" width="5.8" height="5.8" fill="#00BF7D"/>
<circle cx="188.3" cy="260.7" r="3" fill="#F8766D"/>
<path d="M288.8 258.8H297.6M293.2 254.4V263.2" stroke="#00B0F6" stroke-width="1.3" fill="none"/>
<path d="M218.6 178.2L222.6 184.8L214.5 184.8Z" fill="#A3A500"/>
<rect x="161" y="273.1" width="5.8" height="5.8" fill="#00BF7D"/>
<circle cx="209.9" cy="266.9" r="3" fill="#F8766D"/>
<circle cx="198.2" cy="244" r="3" fill="#F8766D"/>
<rect x="145.9" y="260.6" width="5.8" height="5.8" fill="#00BF7D"/>
<circle cx="196.5" cy="259.9" r="3" fill="#F8766D"/>
<rect x="143.1" y="263.5" width="5.8" height="5.8" fill="#00BF7D"/>
<rect x="160.9" y="244.3" width="5.8" height="5.8" fill="#00BF7D"/>
<rect x="147.3" y="252.6" width="5.8" height="5.8" fill="#00BF7D"/>
<path d="M283.8 295.2H292.6M288.2 290.8V299.6" stroke="#00B0F6" stroke-width="1.3" fill="none"/>
<path d="M226.7 148.2L230.7 154.7L222.7 154.7Z" fill="#A3A500"/>
<path d="M208 248.8L212.1 255.3L204 255.3Z" fill="#A3A500"/>
<rect x="170.6" y="266" width="5.8" height="5.8" fill="#00BF7D"/>
<rect x="152.9" y="250" width="5.8" height="5.8" fill="#00BF7D"/>
<rect x="141.6" y="267.9" width="5.8" height="5.8" fill="#00BF7D"/>
<rect x="137.6" y="247.1" width="5.8" height="5.8" fill="#00BF7D"/>
<path d="M195.9 298.1L200 304.6L191.9 304.6Z" fill="#A3A500"/>
<path d="M386.5 261.5H392.9V267.9H386.5ZM386.5 261.5L392.9 267.9M386.5 267.9L392.9 261.5" stroke="#E76BF3" stroke-width="1.05" fill="none"/>
<path d="M568.6 274.4H575V280.8H568.6ZM568.6 274.4L575 280.8M568.6 280.8L575 274.4" stroke="#E76BF3" stroke-width="1.05" fill="none"/>
<rect x="151.1" y="254.5" width="5.8" height="5.8" fill="#00BF7D"/>
<rect x="175.9" y="278.7" width="5.8" height="5.8" fill="#00BF7D"/>
<rect x="143.5" y="257.5" width="5.8" height="5.8" fill="#00BF7D"/>
<circle cx="174.3" cy="290.2" r="3" fill="#F8766D"/>
<rect x="170.5" y="273.2" width="5.8" height="5.8" fill="#00BF7D"/>
<circle cx="182" cy="262.6" r="3" fill="#F8766D"/>
<path d="M236.3 317.3L240.3 323.9L232.3 323.9Z" fill="#A3A500"/>
<rect x="152.3" y="224.8" width="5.8" height="5.8" fill="#00BF7D"/>
<rect x="137.3" y="238.2" width="5.8" height="5.8" fill="#00BF7D"/>
<rect x="140.2" y="233.1" width="5.8" height="5.8" fill="#00BF7D"/>
<rect x="156.9" y="218.2" width="5.8" height="5.8" fill="#00BF7D"/>
<path d="M160.7 214.2L164.7 220.7L156.6 220.7Z" fill="#A3A500"/>
<rect x="146.1" y="257.2" width="5.8" height="5.8" fill="#00BF7D"/>
<rect x="135.5" y="235.6" width="5.8" height="5.8" fill="#00BF7D"/>
<circle cx="216.5" cy="252.2" r="3" fill="#F8766D"/>
<circle cx="199.6" cy="257.5" r="3" fill="#F8766D"/>
<rect x="160.3" y="262.8" width="5.8" height="5.8" fill="#00BF7D"/>
<circle cx="161.8" cy="229.5" r="3" fill="#F8766D"/>
<rect x="152.4" y="256.5" width="5.8" height="5.8" fill="#00BF7D"/>
<circle cx="193.9" cy="268.9" r="3" fill="#F8766D"/>
<circle cx="181" cy="263.5" r="3" fill="#F8766D"/>
<rect x="163.8" y="253.4" width="5.8" height="5.8" fill="#00BF7D"/>
<rect x="138.2" y="254.2" width="5.8" height="5.8" fill="#00BF7D"/>
<rect x="155.6" y="256.5" width="5.8" height="5.8" fill="#00BF7D"/>
<rect x="166.2" y="253.3" width="5.8" height="5.8" fill="#00BF7D"/>
<circle cx="186.9" cy="264.8" r="3" fill="#F8766D"/>
<path d="M419.3 512.8H425.7V519.2H419.3ZM419.3 512.8L425.7 519.2M419.3 519.2L425.7 512.8" stroke="#E76BF3" stroke-width="1.05" fill="none"/>
<rect x="148.5" y="217.3" width="5.8" height="5.8" fill="#00BF7D"/>
<rect x="154.7" y="249.8" width="5.8" height="5.8" fill="#00BF7D"/>
<rect x="137.4" y="259.5" width="5.8" height="5.8" fill="#00BF7D"/>
<rect x="143.3" y="254.4" width="5.8" height="5.8" fill="#00BF7D"/>
<rect x="138.1" y="263.3" width="5.8" height="5.8" fill="#00BF7D"/>
<path d="M164.9 251.8L169 258.3L160.9 258.3Z" fill="#A3A500"/>
<rect x="158.1" y="277.1" width="5.8" height="5.8" fill="#00BF7D"/>
<rect x="161.7" y="307.4" width="5.8" height="5.8" fill="#00BF7D"/>
<rect x="139.3" y="254.9" width="5.8" height="5.8" fill="#00BF7D"/>
<rect x="139.7" y="255.4" width="5.8" height="5.8" fill="#00BF7D"/>
<circle cx="199" cy="290.6" r="3" fill="#F8766D"/>
<rect x="150.9" y="252.2" width="5.8" height="5.8" fill="#00BF7D"/>
<circle cx="202.5" cy="263.3" r="3" fill="#F8766D"/>
<circle cx="183.3" cy="318" r="3" fill="#F8766D"/>
<path d="M363.6 277.5H372.4M368 273.1V281.9" stroke="#00B0F6" stroke-width="1.3" fill="none"/>
<rect x="153.2" y="271.7" width="5.8" height="5.8" fill="#00BF7D"/>
<rect x="158.3" y="303" width="5.8" height="5.8" fill="#00BF7D"/>
<rect x="153.6" y="263.4" width="5.8" height="5.8" fill="#00BF7D"/>
<rect x="145.3" y="238.5" width="5.8" height="5.8" fill="#00BF7D"/>
<rect x="144.5" y="254" width="5.8" height="5.8" fill="#00BF7D"/>
<circle cx="185.5" cy="267.5" r="3" fill="#F8766D"/>
<rect x="144.5" y="254.8" width="5.8" height="5.8" fill="#00BF7D"/>
<circle cx="194.4" cy="277" r="3" fill="#F8766D"/>
<rect x="157.6" y="263.4" width="5.8" height="5.8" fill="#00BF7D"/>
<rect x="137.1" y="247.2" width="5.8" height="5.8" fill="#00BF7D"/>
<rect x="152.6" y="260.9" width="5.8" height="5.8" fill="#00BF7D"/>
<rect x="151.4" y="262.5" width="5.8" height="5.8" fill="#00BF7D"/>
<rect x="139.2" y="242.5" width="5.8" height="5.8" fill="#00BF7D"/>
<rect x="155.8" y="247.7" width="5.8" height="5.8" fill="#00BF7D"/>
<rect x="139.8" y="263.1" width="5.8" height="5.8" fill="#00BF7D"/>
<path d="M237.9 317.8H246.7M242.3 313.4V322.2" stroke="#00B0F6" stroke-width="1.3" fill="none"/>
<rect x="170.1" y="271.3" width="5.8" height="5.8" fill="#00BF7D"/>
<rect x="161.6" y="259.7" width="5.8" height="5.8" fill="#00BF7D"/>
<rect x="155.7" y="265.7" width="5.8" height="5.8" fill="#00BF7D"/>
<rect x="146.6" y="275" width="5.8" height="5.8" fill="#00BF7D"/>
<path d="M193.2 244.2L197.2 250.7L189.2 250.7Z" fill="#A3A500"/>
<path d="M219.2 311.6L223.2 318.1L215.1 318.1Z" fill="#A3A500"/>
<rect x="156" y="220.2" width="5.8" height="5.8" fill="#00BF7D"/>
<circle cx="214.9" cy="244.7" r="3" fill="#F8766D"/>
<path d="M175 262.3L179.1 268.8L171 268.8Z" fill="#A3A500"/>
<path d="M206 245.7L210.1 252.2L202 252.2Z" fill="#A3A500"/>
<rect x="153.5" y="228.7" width="5.8" height="5.8" fill="#00BF7D"/>
<rect x="175.6" y="256.3" width="5.8" height="5.8" fill="#00BF7D"/>
<circle cx="162.2" cy="242.3" r="3" fill="#F8766D"/>
<rect x="169.3" y="282.9" width="5.8" height="5.8" fill="#00BF7D"/>
<circle cx="200.3" cy="263.8" r="3" fill="#F8766D"/>
<rect x="155" y="266.4" width="5.8" height="5.8" fill="#00BF7D"/>
<rect x="140.3" y="250.8" width="5.8" height="5.8" fill="#00BF7D"/>
<rect x="146.6" y="234.9" width="5.8" height="5.8" fill="#00BF7D"/>
<circle cx="177.3" cy="287.7" r="3" fill="#F8766D"/>
<rect x="169.4" y="253.5" width="5.8" height="5.8" fill="#00BF7D"/>
<circle cx="221" cy="252.9" r="3" fill="#F8766D"/>
<circle cx="180.6" cy="241" r="3" fill="#F8766D"/>
<path d="M222.6 160.2L226.6 166.8L218.5 166.8Z" fill="#A3A500"/>
<path d="M258.7 359.6L262.7 366.2L254.7 366.2Z" fill="#A3A500"/>
<circle cx="213.4" cy="255.7" r="3" fill="#F8766D"/>
<rect x="145.9" y="262.2" width="5.8" height="5.8" fill="#00BF7D"/>
<rect x="171" y="273.1" width="5.8" height="5.8" fill="#00BF7D"/>
<rect x="138.1" y="260.3" width="5.8" height="5.8" fill="#00BF7D"/>
<rect x="142.9" y="217.6" width="5.8" height="5.8" fill="#00BF7D"/>
<rect x="171.2" y="276.4" width="5.8" height="5.8" fill="#00BF7D"/>
<path d="M195.3 278.2L199.3 284.7L191.2 284.7Z" fill="#A3A500"/>
<rect x="175.2" y="278.2" width="5.8" height="5.8" fill="#00BF7D"/>
<circle cx="193.8" cy="247" r="3" fill="#F8766D"/>
<circle cx="173.5" cy="239.1" r="3" fill="#F8766D"/>
<rect x="166.6" y="255.1" width="5.8" height="5.8" fill="#00BF7D"/>
<rect x="168.1" y="277.8" width="5.8" height="5.8" fill="#00BF7D"/>
<rect x="175.1" y="255.6" width="5.8" height="5.8" fill="#00BF7D"/>
<rect x="141.4" y="254.6" width="5.8" height="5.8" fill="#00BF7D"/>
<circle cx="160.5" cy="243.7" r="3" fill="#F8766D"/>
<rect x="166.7" y="265.1" width="5.8" height="5.8" fill="#00BF7D"/>
<rect x="151.5" y="209.6" width="5.8" height="5.8" fill="#00BF7D"/>
<rect x="143.9" y="260.1" width="5.8" height="5.8" fill="#00BF7D"/>
<circle cx="161.9" cy="227" r="3" fill="#F8766D"/>
<rect x="164" y="279" width="5.8" height="5.8" fill="#00BF7D"/>
<rect x="168.7" y="260.9" width="5.8" height="5.8" fill="#00BF7D"/>
<path d="M216.4 192H225.2M220.8 187.6V196.4" stroke="#00B0F6" stroke-width="1.3" fill="none"/>
<rect x="149.2" y="247.7" width="5.8" height="5.8" fill="#00BF7D"/>
<circle cx="183.2" cy="251.4" r="3" fill="#F8766D"/>
<path d="M242.4 257.4H251.2M246.8 253V261.8" stroke="#00B0F6" stroke-width="1.3" fill="none"/>
<rect x="133.9" y="252.5" width="5.8" height="5.8" fill="#00BF7D"/>
<rect x="161.6" y="263.5" width="5.8" height="5.8" fill="#00BF7D"/>
<circle cx="201.9" cy="267.7" r="3" fill="#F8766D"/>
<circle cx="199.2" cy="221.5" r="3" fill="#F8766D"/>
<rect x="142.2" y="259.2" width="5.8" height="5.8" fill="#00BF7D"/>
<rect x="173.9" y="258.4" width="5.8" height="5.8" fill="#00BF7D"/>
<circle cx="206.4" cy="273.9" r="3" fill="#F8766D"/>
<rect x="161.5" y="287.8" width="5.8" height="5.8" fill="#00BF7D"/>
<rect x="164.9" y="258.9" width="5.8" height="5.8" fill="#00BF7D"/>
<rect x="154.5" y="242.1" width="5.8" height="5.8" fill="#00BF7D"/>
<path d="M296.3 243L300.3 249.5L292.3 249.5Z" fill="#A3A500"/>
<rect x="146" y="250.6" width="5.8" height="5.8" fill="#00BF7D"/>
<path d="M178 246.8L182 253.4L173.9 253.4Z" fill="#A3A500"/>
<path d="M226.3 221.7L230.3 228.2L222.3 228.2Z" fill="#A3A500"/>
<rect x="139.5" y="255.4" width="5.8" height="5.8" fill="#00BF7D"/>
<circle cx="185.9" cy="251.1" r="3" fill="#F8766D"/>
<circle cx="201.4" cy="285.2" r="3" fill="#F8766D"/>
<rect x="142" y="252.7" width="5.8" height="5.8" fill="#00BF7D"/>
<rect x="163.5" y="247.1" width="5.8" height="5.8" fill="#00BF7D"/>
<rect x="146.3" y="262" width="5.8" height="5.8" fill="#00BF7D"/>
<path d="M172.4 197.2L176.5 203.7L168.4 203.7Z" fill="#A3A500"/>
<rect x="146.9" y="247.2" width="5.8" height="5.8" fill="#00BF7D"/>
<circle cx="160.5" cy="236.7" r="3" fill="#F8766D"/>
<rect x="160.3" y="259.1" width="5.8" height="5.8" fill="#00BF7D"/>
<path d="M223.3 332.3L227.3 338.9L219.3 338.9Z" fill="#A3A500"/>
<path d="M192.9 194.3L197 200.8L188.9 200.8Z" fill="#A3A500"/>
<rect x="140.2" y="263.1" width="5.8" height="5.8" fill="#00BF7D"/>
<circle cx="189.7" cy="234.2" r="3" fill="#F8766D"/>
<circle cx="197.8" cy="287.8" r="3" fill="#F8766D"/>
<circle cx="166.6" cy="225.5" r="3" fill="#F8766D"/>
<circle cx="164.9" cy="229.9" r="3" fill="#F8766D"/>
<rect x="165.4" y="257.4" width="5.8" height="5.8" fill="#00BF7D"/>
<rect x="161.9" y="267" width="5.8" height="5.8" fill="#00BF7D"/>
<rect x="136.9" y="257.3" width="5.8" height="5.8" fill="#00BF7D"/>
<rect x="155.8" y="257.3" width="5.8" height="5.8" fill="#00BF7D"/>
<rect x="150.2" y="227.7" width="5.8" height="5.8" fill="#00BF7D"/>
<path d="M205.6 181.6L209.6 188.1L201.5 188.1Z" fill="#A3A500"/>
<circle cx="218.2" cy="259.4" r="3" fill="#F8766D"/>
<circle cx="185.2" cy="309.8" r="3" fill="#F8766D"/>
<rect x="147.5" y="251.5" width="5.8" height="5.8" fill="#00BF7D"/>
<rect x="154.3" y="251.7" width="5.8" height="5.8" fill="#00BF7D"/>
<rect x="171.4" y="256.6" width="5.8" height="5.8" fill="#00BF7D"/>
<rect x="149.9" y="239.7" width="5.8" height="5.8" fill="#00BF7D"/>
<circle cx="195.6" cy="244.2" r="3" fill="#F8766D"/>
<rect x="163.4" y="256.3" width="5.8" height="5.8" fill="#00BF7D"/>
<rect x="134.8" y="248.7" width="5.8" height="5.8" fill="#00BF7D"/>
<rect x="170.2" y="255.5" width="5.8" height="5.8" fill="#00BF7D"/>
<rect x="151.5" y="250.4" width="5.8" height="5.8" fill="#00BF7D"/>
<path d="M248.3 195.3L252.3 201.9L244.3 201.9Z" fill="#A3A500"/>
<rect x="151.2" y="267.3" width="5.8" height="5.8" fill="#00BF7D"/>
<rect x="142.1" y="254.4" width="5.8" height="5.8" fill="#00BF7D"/>
<circle cx="176.5" cy="255.3" r="3" fill="#F8766D"/>
<circle cx="191.7" cy="247.2" r="3" fill="#F8766D"/>
<rect x="140.1" y="232.2" width="5.8" height="5.8" fill="#00BF7D"/>
<circle cx="168.6" cy="225.7" r="3" fill="#F8766D"/>
<rect x="146.2" y="254.6" width="5.8" height="5.8" fill="#00BF7D"/>
<rect x="136.8" y="255.8" width="5.8" height="5.8" fill="#00BF7D"/>
<circle cx="216.7" cy="297.3" r="3" fill="#F8766D"/>
<rect x="143.4" y="262.1" width="5.8" height="5.8" fill="#00BF7D"/>
<circle cx="177.7" cy="268.4" r="3" fill="#F8766D"/>
<rect x="145.3" y="252.9" width="5.8" height="5.8" fill="#00BF7D"/>
<circle cx="183.3" cy="240.2" r="3" fill="#F8766D"/>
<rect x="165.4" y="253.2" width="5.8" height="5.8" fill="#00BF7D"/>
<rect x="173.1" y="255.7" width="5.8" height="5.8" fill="#00BF7D"/>
<circle cx="193.9" cy="204.8" r="3" fill="#F8766D"/>
<rect x="151.4" y="259.2" width="5.8" height="5.8" fill="#00BF7D"/>
<rect x="166.8" y="260.7" width="5.8" height="5.8" fill="#00BF7D"/>
<rect x="136.4" y="242.4" width="5.8" height="5.8" fill="#00BF7D"/>
<circle cx="202.4" cy="271.4" r="3" fill="#F8766D"/>
<rect x="137.9" y="238.1" width="5.8" height="5.8" fill="#00BF7D"/>
<rect x="146.8" y="248" width="5.8" height="5.8" fill="#00BF7D"/>
<circle cx="218.8" cy="295.4" r="3" fill="#F8766D"/>
<rect x="153.6" y="213.6" width="5.8" height="5.8" fill="#00BF7D"/>
<path d="M224.7 305.3L228.7 311.9L220.7 311.9Z" fill="#A3A500"/>
<circle cx="206.2" cy="301.6" r="3" fill="#F8766D"/>
<rect x="138.9" y="246" width="5.8" height="5.8" fill="#00BF7D"/>
<rect x="166.6" y="283.2" width="5.8" height="5.8" fill="#00BF7D"/>
<circle cx="176.2" cy="240.8" r="3" fill="#F8766D"/>
<rect x="140.9" y="248.3" width="5.8" height="5.8" fill="#00BF7D"/>
<rect x="140.1" y="250.1" width="5.8" height="5.8" fill="#00BF7D"/>
<rect x="151.2" y="278.2" width="5.8" height="5.8" fill="#00BF7D"/>
<rect x="131.1" y="230.7" width="5.8" height="5.8" fill="#00BF7D"/>
<circle cx="179.5" cy="260.6" r="3" fill="#F8766D"/>
<rect x="169.1" y="254.7" width="5.8" height="5.8" fill="#00BF7D"/>
<rect x="167.8" y="263.2" width="5.8" height="5.8" fill="#00BF7D"/>
<rect x="163.7" y="261.7" width="5.8" height="5.8" fill="#00BF7D"/>
<circle cx="164.4" cy="238.8" r="3" fill="#F8766D"/>
<rect x="156.9" y="256" width="5.8" height="5.8" fill="#00BF7D"/>
<rect x="162.3" y="260.5" width="5.8" height="5.8" fill="#00BF7D"/>
<rect x="162.4" y="263.8" width="5.8" height="5.8" fill="#00BF7D"/>
<rect x="166" y="263.5" width="5.8" height="5.8" fill="#00BF7D"/>
<path d="M217.3 179.7H226.1M221.7 175.3V184.1" stroke="#00B0F6" stroke-width="1.3" fill="none"/>
<circle cx="206" cy="247.1" r="3" fill="#F8766D"/>
<circle cx="193.7" cy="322.7" r="3" fill="#F8766D"/>
<rect x="167.8" y="269" width="5.8" height="5.8" fill="#00BF7D"/>
<rect x="159.5" y="248.9" width="5.8" height="5.8" fill="#00BF7D"/>
<rect x="158.1" y="260.2" width="5.8" height="5.8" fill="#00BF7D"/>
<circle cx="185.6" cy="209" r="3" fill="#F8766D"/>
<circle cx="204.5" cy="319.3" r="3" fill="#F8766D"/>
<rect x="150.8" y="237.9" width="5.8" height="5.8" fill="#00BF7D"/>
<path d="M253.6 267.3H262.4M258 262.9V271.7" stroke="#00B0F6" stroke-width="1.3" fill="none"/>
<circle cx="215" cy="294" r="3" fill="#F8766D"/>
<rect x="164" y="266.1" width="5.8" height="5.8" fill="#00BF7D"/>
<rect x="133" y="250.4" width="5.8" height="5.8" fill="#00BF7D"/>
<rect x="139.8" y="237.4" width="5.8" height="5.8" fill="#00BF7D"/>
<rect x="146.3" y="264.9" width="5.8" height="5.8" fill="#00BF7D"/>
<path d="M174.7 276.5L178.7 283L170.6 283Z" fill="#A3A500"/>
<rect x="133.9" y="245.1" width="5.8" height="5.8" fill="#00BF7D"/>
<circle cx="204.2" cy="267.8" r="3" fill="#F8766D"/>
<rect x="162.3" y="250.6" width="5.8" height="5.8" fill="#00BF7D"/>
<circle cx="207.1" cy="251.8" r="3" fill="#F8766D"/>
<rect x="167.1" y="255.4" width="5.8" height="5.8" fill="#00BF7D"/>
<rect x="139.7" y="268" width="5.8" height="5.8" fill="#00BF7D"/>
<rect x="141.1" y="269.6" width="5.8" height="5.8" fill="#00BF7D"/>
<rect x="161.2" y="245.1" width="5.8" height="5.8" fill="#00BF7D"/>
<circle cx="187.2" cy="273.9" r="3" fill="#F8766D"/>
<rect x="163.9" y="252.4" width="5.8" height="5.8" fill="#00BF7D"/>
<rect x="159.2" y="258.5" width="5.8" height="5.8" fill="#00BF7D"/>
<path d="M223.9 230.7H232.7M228.3 226.3V235.1" stroke="#00B0F6" stroke-width="1.3" fill="none"/>
<rect x="147.3" y="261.9" width="5.8" height="5.8" fill="#00BF7D"/>
<circle cx="210.9" cy="260" r="3" fill="#F8766D"/>
<rect x="167.1" y="266.9" width="5.8" height="5.8" fill="#00BF7D"/>
<path d="M272 367.6L276 374.2L268 374.2Z" fill="#A3A500"/>
<rect x="136.7" y="238.7" width="5.8" height="5.8" fill="#00BF7D"/>
<rect x="153.6" y="260.9" width="5.8" height="5.8" fill="#00BF7D"/>
<circle cx="195.5" cy="175" r="3" fill="#F8766D"/>
<circle cx="190.9" cy="237.8" r="3" fill="#F8766D"/>
<rect x="159.9" y="287.1" width="5.8" height="5.8" fill="#00BF7D"/>
<path d="M238.1 173H246.9M242.5 168.6V177.4" stroke="#00B0F6" stroke-width="1.3" fill="none"/>
<rect x="138.6" y="261.8" width="5.8" height="5.8" fill="#00BF7D"/>
<path d="M210.1 190.7L214.2 197.2L206.1 197.2Z" fill="#A3A500"/>
<rect x="145.6" y="271.5" width="5.8" height="5.8" fill="#00BF7D"/>
<circle cx="187.2" cy="267.5" r="3" fill="#F8766D"/>
<rect x="156.9" y="241.4" width="5.8" height="5.8" fill="#00BF7D"/>
<rect x="144.7" y="252.8" width="5.8" height="5.8" fill="#00BF7D"/>
<circle cx="192.9" cy="271.3" r="3" fill="#F8766D"/>
<circle cx="194.1" cy="257" r="3" fill="#F8766D"/>
<path d="M214.8 231.5H223.6M219.2 227.1V235.9" stroke="#00B0F6" stroke-width="1.3" fill="none"/>
<rect x="150.6" y="263.8" width="5.8" height="5.8" fill="#00BF7D"/>
<rect x="164.4" y="247" width="5.8" height="5.8" fill="#00BF7D"/>
<circle cx="203.6" cy="262" r="3" fill="#F8766D"/>
<circle cx="179.1" cy="233.9" r="3" fill="#F8766D"/>
<rect x="169.1" y="255.2" width="5.8" height="5.8" fill="#00BF7D"/>
<circle cx="196.9" cy="259.7" r="3" fill="#F8766D"/>
<rect x="153.3" y="266.4" width="5.8" height="5.8" fill="#00BF7D"/>
<rect x="143.3" y="257.8" width="5.8" height="5.8" fill="#00BF7D"/>
<rect x="141.6" y="254.6" width="5.8" height="5.8" fill="#00BF7D"/>
<circle cx="212.4" cy="247.5" r="3" fill="#F8766D"/>
<path d="M206.5 267.6L210.6 274.1L202.5 274.1Z" fill="#A3A500"/>
<path d="M295.4 243.6L299.4 250.1L291.4 250.1Z" fill="#A3A500"/>
<rect x="132.3" y="242.6" width="5.8" height="5.8" fill="#00BF7D"/>
<circle cx="198.7" cy="269.2" r="3" fill="#F8766D"/>
<rect x="144.7" y="258.7" width="5.8" height="5.8" fill="#00BF7D"/>
<circle cx="163.6" cy="224.2" r="3" fill="#F8766D"/>
<rect x="138.5" y="251.6" width="5.8" height="5.8" fill="#00BF7D"/>
<circle cx="184.7" cy="259.1" r="3" fill="#F8766D"/>
<circle cx="186.2" cy="258.2" r="3" fill="#F8766D"/>
<rect x="152.4" y="272.7" width="5.8" height="5.8" fill="#00BF7D"/>
<rect x="169.4" y="253.1" width="5.8" height="5.8" fill="#00BF7D"/>
<rect x="145.6" y="250.3" width="5.8" height="5.8" fill="#00BF7D"/>
<rect x="148.3" y="258.4" width="5.8" height="5.8" fill="#00BF7D"/>
<rect x="151.7" y="279.4" width="5.8" height="5.8" fill="#00BF7D"/>
<rect x="153.3" y="259.4" width="5.8" height="5.8" fill="#00BF7D"/>
<path d="M265.6 263.7H274.4M270 259.3V268.1" stroke="#00B0F6" stroke-width="1.3" fill="none"/>
<rect x="161.4" y="263.3" width="5.8" height="5.8" fill="#00BF7D"/>
<circle cx="186" cy="225.5" r="3" fill="#F8766D"/>
<path d="M233.4 319.2H242.2M237.8 314.8V323.6" stroke="#00B0F6" stroke-width="1.3" fill="none"/>
<rect x="175.7" y="274.8" width="5.8" height="5.8" fill="#00BF7D"/>
<path d="M206.6 254.3L210.6 260.8L202.5 260.8Z" fill="#A3A500"/>
<circle cx="167.2" cy="240.3" r="3" fill="#F8766D"/>
<rect x="135.8" y="252.9" width="5.8" height="5.8" fill="#00BF7D"/>
<circle cx="187.9" cy="256.1" r="3" fill="#F8766D"/>
<circle cx="182.6" cy="277" r="3" fill="#F8766D"/>
<circle cx="196.4" cy="244.6" r="3" fill="#F8766D"/>
<circle cx="208.9" cy="259.8" r="3" fill="#F8766D"/>
<rect x="166.7" y="256.7" width="5.8" height="5.8" fill="#00BF7D"/>
<rect x="169.9" y="254" width="5.8" height="5.8" fill="#00BF7D"/>
<rect x="149.6" y="240.8" width="5.8" height="5.8" fill="#00BF7D"/>
<rect x="169" y="245.5" width="5.8" height="5.8" fill="#00BF7D"/>
<rect x="153.6" y="254" width="5.8" height="5.8" fill="#00BF7D"/>
<rect x="151.5" y="282.6" width="5.8" height="5.8" fill="#00BF7D"/>
<circle cx="188.6" cy="236.4" r="3" fill="#F8766D"/>
<rect x="149" y="252.5" width="5.8" height="5.8" fill="#00BF7D"/>
<rect x="173.5" y="274.4" width="5.8" height="5.8" fill="#00BF7D"/>
<rect x="140.2" y="242.4" width="5.8" height="5.8" fill="#00BF7D"/>
<rect x="148" y="261.6" width="5.8" height="5.8" fill="#00BF7D"/>
<rect x="158.1" y="291.7" width="5.8" height="5.8" fill="#00BF7D"/>
<rect x="155.9" y="309.7" width="5.8" height="5.8" fill="#00BF7D"/>
<circle cx="164.9" cy="236.5" r="3" fill="#F8766D"/>
<rect x="171.2" y="272.3" width="5.8" height="5.8" fill="#00BF7D"/>
<rect x="151.1" y="249.2" width="5.8" height="5.8" fill="#00BF7D"/>
<path d="M218.7 204.3L222.7 210.9L214.7 210.9Z" fill="#A3A500"/>
<rect x="137" y="259.6" width="5.8" height="5.8" fill="#00BF7D"/>
<rect x="135.7" y="234.9" width="5.8" height="5.8" fill="#00BF7D"/>
<circle cx="193.4" cy="258.4" r="3" fill="#F8766D"/>
<path d="M309.4 276.2H318.2M313.8 271.8V280.6" stroke="#00B0F6" stroke-width="1.3" fill="none"/>
<circle cx="188.7" cy="276.2" r="3" fill="#F8766D"/>
<rect x="159.3" y="267.5" width="5.8" height="5.8" fill="#00BF7D"/>
<circle cx="190" cy="342" r="3" fill="#F8766D"/>
<path d="M195 253.6L199.1 260.1L191 260.1Z" fill="#A3A500"/>
<rect x="144.2" y="222" width="5.8" height="5.8" fill="#00BF7D"/>
<rect x="138.1" y="258.3" width="5.8" height="5.8" fill="#00BF7D"/>
<rect x="151.1" y="238.8" width="5.8" height="5.8" fill="#00BF7D"/>
<rect x="145" y="259" width="5.8" height="5.8" fill="#00BF7D"/>
<rect x="155.3" y="245.8" width="5.8" height="5.8" fill="#00BF7D"/>
<circle cx="204.1" cy="262.5" r="3" fill="#F8766D"/>
<rect x="140.9" y="254.9" width="5.8" height="5.8" fill="#00BF7D"/>
<circle cx="189.1" cy="241.3" r="3" fill="#F8766D"/>
<rect x="160.7" y="207.8" width="5.8" height="5.8" fill="#00BF7D"/>
<rect x="154.2" y="238.2" width="5.8" height="5.8" fill="#00BF7D"/>
<rect x="153.8" y="266.2" width="5.8" height="5.8" fill="#00BF7D"/>
<circle cx="198.4" cy="268.7" r="3" fill="#F8766D"/>
<circle cx="190.2" cy="260.2" r="3" fill="#F8766D"/>
<circle cx="197.7" cy="254.7" r="3" fill="#F8766D"/>
<rect x="133.3" y="246" width="5.8" height="5.8" fill="#00BF7D"/>
<rect x="142.3" y="253.9" width="5.8" height="5.8" fill="#00BF7D"/>
<rect x="144.6" y="259.5" width="5.8" height="5.8" fill="#00BF7D"/>
<rect x="158.5" y="265.8" width="5.8" height="5.8" fill="#00BF7D"/>
<circle cx="179.7" cy="252.5" r="3" fill="#F8766D"/>
<circle cx="173.3" cy="235.3" r="3" fill="#F8766D"/>
<rect x="150.6" y="232.5" width="5.8" height="5.8" fill="#00BF7D"/>
<rect x="174.7" y="278.3" width="5.8" height="5.8" fill="#00BF7D"/>
<path d="M216.6 173.5H225.4M221 169.1V177.9" stroke="#00B0F6" stroke-width="1.3" fill="none"/>
<rect x="157.6" y="215.9" width="5.8" height="5.8" fill="#00BF7D"/>
<path d="M215.8 298.3H224.6M220.2 293.9V302.7" stroke="#00B0F6" stroke-width="1.3" fill="none"/>
<rect x="171.6" y="246.6" width="5.8" height="5.8" fill="#00BF7D"/>
<rect x="151.8" y="273" width="5.8" height="5.8" fill="#00BF7D"/>
<rect x="145.5" y="266.2" width="5.8" height="5.8" fill="#00BF7D"/>
<path d="M276.5 152.7L280.5 159.2L272.5 159.2Z" fill="#A3A500"/>
<path d="M228.8 313.2H237.6M233.2 308.8V317.6" stroke="#00B0F6" stroke-width="1.3" fill="none"/>
<circle cx="196.1" cy="254.1" r="3" fill="#F8766D"/>
<rect x="134.4" y="250.6" width="5.8" height="5.8" fill="#00BF7D"/>
<rect x="147.9" y="279" width="5.8" height="5.8" fill="#00BF7D"/>
<circle cx="203.6" cy="278" r="3" fill="#F8766D"/>
<rect x="140.6" y="256.8" width="5.8" height="5.8" fill="#00BF7D"/>
<rect x="138.6" y="245" width="5.8" height="5.8" fill="#00BF7D"/>
<path d="M368.1 260.8H374.5V267.2H368.1ZM368.1 260.8L374.5 267.2M368.1 267.2L374.5 260.8" stroke="#E76BF3" stroke-width="1.05" fill="none"/>
<rect x="164.8" y="265.2" width="5.8" height="5.8" fill="#00BF7D"/>
<rect x="165.6" y="260.7" width="5.8" height="5.8" fill="#00BF7D"/>
<rect x="156.8" y="252.6" width="5.8" height="5.8" fill="#00BF7D"/>
<path d="M248.5 251.7L252.6 258.2L244.5 258.2Z" fill="#A3A500"/>
<circle cx="183" cy="271.9" r="3" fill="#F8766D"/>
<circle cx="195.1" cy="229" r="3" fill="#F8766D"/>
<circle cx="181.7" cy="258.4" r="3" fill="#F8766D"/>
<path d="M346.9 290.5H355.7M351.3 286.1V294.9" stroke="#00B0F6" stroke-width="1.3" fill="none"/>
<rect x="137.4" y="244.3" width="5.8" height="5.8" fill="#00BF7D"/>
<rect x="149.3" y="248" width="5.8" height="5.8" fill="#00BF7D"/>
<rect x="137.2" y="262.2" width="5.8" height="5.8" fill="#00BF7D"/>
<rect x="136.7" y="250.5" width="5.8" height="5.8" fill="#00BF7D"/>
<circle cx="179.1" cy="251.5" r="3" fill="#F8766D"/>
<rect x="137.9" y="242.5" width="5.8" height="5.8" fill="#00BF7D"/>
<path d="M177.2 247.9L181.2 254.4L173.1 254.4Z" fill="#A3A500"/>
<circle cx="175.2" cy="229.5" r="3" fill="#F8766D"/>
<path d="M205.5 167.2L209.5 173.7L201.5 173.7Z" fill="#A3A500"/>
<circle cx="208.8" cy="246.4" r="3" fill="#F8766D"/>
<rect x="156.6" y="267" width="5.8" height="5.8" fill="#00BF7D"/>
<circle cx="216.8" cy="266.4" r="3" fill="#F8766D"/>
<circle cx="220.7" cy="260.8" r="3" fill="#F8766D"/>
<rect x="160.8" y="287.3" width="5.8" height="5.8" fill="#00BF7D"/>
<circle cx="195.6" cy="307.9" r="3" fill="#F8766D"/>
<rect x="140.7" y="253.3" width="5.8" height="5.8" fill="#00BF7D"/>
<path d="M219.8 270.8H228.6M224.2 266.4V275.2" stroke="#00B0F6" stroke-width="1.3" fill="none"/>
<path d="M220.6 182.5H229.4M225 178.1V186.9" stroke="#00B0F6" stroke-width="1.3" fill="none"/>
<circle cx="181.7" cy="223.4" r="3" fill="#F8766D"/>
<circle cx="195.6" cy="266.3" r="3" fill="#F8766D"/>
<circle cx="220.8" cy="242.6" r="3" fill="#F8766D"/>
<rect x="151.3" y="254.3" width="5.8" height="5.8" fill="#00BF7D"/>
<circle cx="195.7" cy="251.3" r="3" fill="#F8766D"/>
<circle cx="206" cy="295.3" r="3" fill="#F8766D"/>
<rect x="163.3" y="253.6" width="5.8" height="5.8" fill="#00BF7D"/>
<rect x="170.1" y="274.9" width="5.8" height="5.8" fill="#00BF7D"/>
<circle cx="167.6" cy="232.9" r="3" fill="#F8766D"/>
<rect x="138.8" y="254.5" width="5.8" height="5.8" fill="#00BF7D"/>
<rect x="144.7" y="246.9" width="5.8" height="5.8" fill="#00BF7D"/>
<rect x="155.4" y="223.4" width="5.8" height="5.8" fill="#00BF7D"/>
<circle cx="180.6" cy="286.5" r="3" fill="#F8766D"/>
<rect x="145.2" y="252.4" width="5.8" height="5.8" fill="#00BF7D"/>
<circle cx="197.6" cy="258.2" r="3" fill="#F8766D"/>
<circle cx="205.7" cy="286.2" r="3" fill="#F8766D"/>
<path d="M143.9 240L147.9 246.5L139.8 246.5Z" fill="#A3A500"/>
<rect x="148.8" y="238" width="5.8" height="5.8" fill="#00BF7D"/>
<path d="M242.2 258.2H251M246.6 253.8V262.6" stroke="#00B0F6" stroke-width="1.3" fill="none"/>
<path d="M437.4 271.1H443.8V277.5H437.4ZM437.4 271.1L443.8 277.5M437.4 277.5L443.8 271.1" stroke="#E76BF3" stroke-width="1.05" fill="none"/>
<rect x="158.3" y="274.9" width="5.8" height="5.8" fill="#00BF7D"/>
<rect x="146.6" y="257.5" width="5.8" height="5.8" fill="#00BF7D"/>
<path d="M216.6 296H225.4M221 291.6V300.4" stroke="#00B0F6" stroke-width="1.3" fill="none"/>
<path d="M155.4 262.7L159.5 269.2L151.4 269.2Z" fill="#A3A500"/>
<path d="M237.7 230.7L241.7 237.2L233.7 237.2Z" fill="#A3A500"/>
<circle cx="175" cy="244.2" r="3" fill="#F8766D"/>
<rect x="147.4" y="246" width="5.8" height="5.8" fill="#00BF7D"/>
<circle cx="176.7" cy="241.3" r="3" fill="#F8766D"/>
<rect x="144.7" y="281.5" width="5.8" height="5.8" fill="#00BF7D"/>
<circle cx="187.7" cy="289.4" r="3" fill="#F8766D"/>
<circle cx="184.2" cy="223.2" r="3" fill="#F8766D"/>
<rect x="143.9" y="248.2" width="5.8" height="5.8" fill="#00BF7D"/>
<rect x="161.2" y="254" width="5.8" height="5.8" fill="#00BF7D"/>
<rect x="136.9" y="257.5" width="5.8" height="5.8" fill="#00BF7D"/>
<rect x="147.7" y="287.6" width="5.8" height="5.8" fill="#00BF7D"/>
<rect x="155.1" y="254.7" width="5.8" height="5.8" fill="#00BF7D"/>
<rect x="140.6" y="260.8" width="5.8" height="5.8" fill="#00BF7D"/>
<rect x="128" y="233.1" width="5.8" height="5.8" fill="#00BF7D"/>
<circle cx="187.4" cy="262.8" r="3" fill="#F8766D"/>
<circle cx="203.8" cy="273.8" r="3" fill="#F8766D"/>
<rect x="162" y="259.8" width="5.8" height="5.8" fill="#00BF7D"/>
<rect x="151.4" y="263.8" width="5.8" height="5.8" fill="#00BF7D"/>
<circle cx="188.3" cy="273.6" r="3" fill="#F8766D"/>
<rect x="135.4" y="237.4" width="5.8" height="5.8" fill="#00BF7D"/>
<rect x="152.8" y="260.3" width="5.8" height="5.8" fill="#00BF7D"/>
<rect x="160.2" y="251.8" width="5.8" height="5.8" fill="#00BF7D"/>
<path d="M396.3 257.3H402.7V263.7H396.3ZM396.3 257.3L402.7 263.7M396.3 263.7L402.7 257.3" stroke="#E76BF3" stroke-width="1.05" fill="none"/>
<rect x="131.2" y="236.9" width="5.8" height="5.8" fill="#00BF7D"/>
<rect x="173.4" y="252.8" width="5.8" height="5.8" fill="#00BF7D"/>
<rect x="172" y="250.2" width="5.8" height="5.8" fill="#00BF7D"/>
<circle cx="183.3" cy="264.1" r="3" fill="#F8766D"/>
<path d="M210.3 183H219.1M214.7 178.6V187.4" stroke="#00B0F6" stroke-width="1.3" fill="none"/>
<circle cx="185.5" cy="264.8" r="3" fill="#F8766D"/>
<rect x="153.5" y="254.1" width="5.8" height="5.8" fill="#00BF7D"/>
<rect x="145.5" y="257.4" width="5.8" height="5.8" fill="#00BF7D"/>
<circle cx="185.5" cy="336" r="3" fill="#F8766D"/>
<path d="M302.9 266.9L306.9 273.5L298.9 273.5Z" fill="#A3A500"/>
<circle cx="194.4" cy="213.7" r="3" fill="#F8766D"/>
<rect x="158" y="277.2" width="5.8" height="5.8" fill="#00BF7D"/>
<path d="M225.9 282.5H234.7M230.3 278.1V286.9" stroke="#00B0F6" stroke-width="1.3" fill="none"/>
<rect x="166.8" y="270" width="5.8" height="5.8" fill="#00BF7D"/>
<circle cx="177" cy="255.2" r="3" fill="#F8766D"/>
<rect x="149.1" y="259.5" width="5.8" height="5.8" fill="#00BF7D"/>
<path d="M212.6 191.3H221.4M217 186.9V195.7" stroke="#00B0F6" stroke-width="1.3" fill="none"/>
<rect x="137.2" y="251.8" width="5.8" height="5.8" fill="#00BF7D"/>
<rect x="143.4" y="246.7" width="5.8" height="5.8" fill="#00BF7D"/>
<path d="M197.7 268.5L201.8 275.1L193.7 275.1Z" fill="#A3A500"/>
<rect x="172.1" y="257.2" width="5.8" height="5.8" fill="#00BF7D"/>
<rect x="143.8" y="216.2" width="5.8" height="5.8" fill="#00BF7D"/>
<rect x="150.8" y="219" width="5.8" height="5.8" fill="#00BF7D"/>
<rect x="161.9" y="259.4" width="5.8" height="5.8" fill="#00BF7D"/>
<rect x="148.5" y="269.3" width="5.8" height="5.8" fill="#00BF7D"/>
<path d="M223.2 302.1H232M227.6 297.7V306.5" stroke="#00B0F6" stroke-width="1.3" fill="none"/>
<path d="M213.6 301H222.4M218 296.6V305.4" stroke="#00B0F6" stroke-width="1.3" fill="none"/>
<rect x="142" y="252.9" width="5.8" height="5.8" fill="#00BF7D"/>
<rect x="154.5" y="258.3" width="5.8" height="5.8" fill="#00BF7D"/>
<rect x="152.5" y="217.2" width="5.8" height="5.8" fill="#00BF7D"/>
<rect x="154.1" y="244.8" width="5.8" height="5.8" fill="#00BF7D"/>
<rect x="167.7" y="267.3" width="5.8" height="5.8" fill="#00BF7D"/>
<rect x="152.7" y="259.8" width="5.8" height="5.8" fill="#00BF7D"/>
<rect x="155.9" y="216.9" width="5.8" height="5.8" fill="#00BF7D"/>
<rect x="133" y="237.7" width="5.8" height="5.8" fill="#00BF7D"/>
<circle cx="186.2" cy="250.3" r="3" fill="#F8766D"/>
<rect x="157.9" y="311.8" width="5.8" height="5.8" fill="#00BF7D"/>
<circle cx="166" cy="234.5" r="3" fill="#F8766D"/>
<circle cx="191.3" cy="251.5" r="3" fill="#F8766D"/>
<rect x="163.2" y="284" width="5.8" height="5.8" fill="#00BF7D"/>
<rect x="151.5" y="254.2" width="5.8" height="5.8" fill="#00BF7D"/>
<rect x="156" y="260" width="5.8" height="5.8" fill="#00BF7D"/>
<rect x="137.2" y="257.1" width="5.8" height="5.8" fill="#00BF7D"/>
<rect x="160.5" y="311.7" width="5.8" height="5.8" fill="#00BF7D"/>
<circle cx="181.3" cy="222.2" r="3" fill="#F8766D"/>
<rect x="143.8" y="259.4" width="5.8" height="5.8" fill="#00BF7D"/>
<rect x="163.6" y="256.1" width="5.8" height="5.8" fill="#00BF7D"/>
<rect x="176.9" y="273.8" width="5.8" height="5.8" fill="#00BF7D"/>
<circle cx="172.6" cy="226.8" r="3" fill="#F8766D"/>
<path d="M203.6 185.6H212.4M208 181.2V190" stroke="#00B0F6" stroke-width="1.3" fill="none"/>
<rect x="170.1" y="247.9" width="5.8" height="5.8" fill="#00BF7D"/>
<circle cx="175.9" cy="225.5" r="3" fill="#F8766D"/>
<rect x="156.3" y="285.8" width="5.8" height="5.8" fill="#00BF7D"/>
<rect x="152.6" y="251.6" width="5.8" height="5.8" fill="#00BF7D"/>
<rect x="146" y="238" width="5.8" height="5.8" fill="#00BF7D"/>
<rect x="144.2" y="265.3" width="5.8" height="5.8" fill="#00BF7D"/>
<circle cx="188.4" cy="262.5" r="3" fill="#F8766D"/>
<rect x="138" y="257" width="5.8" height="5.8" fill="#00BF7D"/>
<rect x="134.2" y="250.8" width="5.8" height="5.8" fill="#00BF7D"/>
<rect x="173.5" y="273" width="5.8" height="5.8" fill="#00BF7D"/>
<rect x="163.4" y="250.3" width="5.8" height="5.8" fill="#00BF7D"/>
<rect x="144" y="250.2" width="5.8" height="5.8" fill="#00BF7D"/>
<rect x="167.9" y="253" width="5.8" height="5.8" fill="#00BF7D"/>
<circle cx="176.3" cy="221.4" r="3" fill="#F8766D"/>
<circle cx="224.5" cy="257.5" r="3" fill="#F8766D"/>
<path d="M591 278.6H597.4V285H591ZM591 278.6L597.4 285M591 285L597.4 278.6" stroke="#E76BF3" stroke-width="1.05" fill="none"/>
<rect x="145.1" y="255.4" width="5.8" height="5.8" fill="#00BF7D"/>
<rect x="151.9" y="248.5" width="5.8" height="5.8" fill="#00BF7D"/>
<path d="M213.8 256.4L217.8 263L209.7 263Z" fill="#A3A500"/>
<rect x="168" y="254.6" width="5.8" height="5.8" fill="#00BF7D"/>
<path d="M226.7 281.6L230.7 288.2L222.7 288.2Z" fill="#A3A500"/>
<circle cx="173" cy="245.5" r="3" fill="#F8766D"/>
<rect x="159.5" y="248.4" width="5.8" height="5.8" fill="#00BF7D"/>
<rect x="153.5" y="244.7" width="5.8" height="5.8" fill="#00BF7D"/>
<rect x="137.1" y="249.8" width="5.8" height="5.8" fill="#00BF7D"/>
<rect x="144.7" y="256.2" width="5.8" height="5.8" fill="#00BF7D"/>
<circle cx="198.7" cy="272.3" r="3" fill="#F8766D"/>
<rect x="142.2" y="256.4" width="5.8" height="5.8" fill="#00BF7D"/>
<circle cx="206" cy="194.7" r="3" fill="#F8766D"/>
<rect x="135.9" y="226.9" width="5.8" height="5.8" fill="#00BF7D"/>
<rect x="137.2" y="256.9" width="5.8" height="5.8" fill="#00BF7D"/>
<rect x="176.3" y="260.6" width="5.8" height="5.8" fill="#00BF7D"/>
<circle cx="196.8" cy="183.2" r="3" fill="#F8766D"/>
<rect x="172.9" y="274.1" width="5.8" height="5.8" fill="#00BF7D"/>
<rect x="133.9" y="251.5" width="5.8" height="5.8" fill="#00BF7D"/>
<circle cx="216.1" cy="275.2" r="3" fill="#F8766D"/>
<rect x="150" y="255.3" width="5.8" height="5.8" fill="#00BF7D"/>
<rect x="138.3" y="257" width="5.8" height="5.8" fill="#00BF7D"/>
<circle cx="206.2" cy="286" r="3" fill="#F8766D"/>
<circle cx="188.5" cy="282.6" r="3" fill="#F8766D"/>
<path d="M157 250.1L161 256.7L152.9 256.7Z" fill="#A3A500"/>
<rect x="141" y="257.2" width="5.8" height="5.8" fill="#00BF7D"/>
<rect x="158.9" y="261.3" width="5.8" height="5.8" fill="#00BF7D"/>
<rect x="159.1" y="250.4" width="5.8" height="5.8" fill="#00BF7D"/>
<rect x="142.8" y="223.5" width="5.8" height="5.8" fill="#00BF7D"/>
<rect x="144" y="261.6" width="5.8" height="5.8" fill="#00BF7D"/>
<rect x="156" y="263.7" width="5.8" height="5.8" fill="#00BF7D"/>
<circle cx="188.6" cy="248.5" r="3" fill="#F8766D"/>
<rect x="149.3" y="228" width="5.8" height="5.8" fill="#00BF7D"/>
<rect x="164.1" y="257.5" width="5.8" height="5.8" fill="#00BF7D"/>
<circle cx="191.8" cy="262.1" r="3" fill="#F8766D"/>
<circle cx="164.3" cy="223.7" r="3" fill="#F8766D"/>
<rect x="136.1" y="255.7" width="5.8" height="5.8" fill="#00BF7D"/>
<rect x="160.6" y="263.6" width="5.8" height="5.8" fill="#00BF7D"/>
<rect x="168.4" y="274.5" width="5.8" height="5.8" fill="#00BF7D"/>
<rect x="130.8" y="240.5" width="5.8" height="5.8" fill="#00BF7D"/>
<rect x="148.7" y="254.7" width="5.8" height="5.8" fill="#00BF7D"/>
<rect x="173.8" y="247.3" width="5.8" height="5.8" fill="#00BF7D"/>
<rect x="152.1" y="271" width="5.8" height="5.8" fill="#00BF7D"/>
<rect x="133.4" y="243.7" width="5.8" height="5.8" fill="#00BF7D"/>
<rect x="170.7" y="253.2" width="5.8" height="5.8" fill="#00BF7D"/>
<rect x="133.3" y="231.3" width="5.8" height="5.8" fill="#00BF7D"/>
<circle cx="190.4" cy="259.7" r="3" fill="#F8766D"/>
<rect x="137.7" y="251.6" width="5.8" height="5.8" fill="#00BF7D"/>
<rect x="175.5" y="272.8" width="5.8" height="5.8" fill="#00BF7D"/>
<circle cx="208" cy="261.5" r="3" fill="#F8766D"/>
<path d="M1070.8 240.3H1077.2V246.7H1070.8ZM1070.8 240.3L1077.2 246.7M1070.8 246.7L1077.2 240.3" stroke="#E76BF3" stroke-width="1.05" fill="none"/>
<rect x="153.8" y="249" width="5.8" height="5.8" fill="#00BF7D"/>
<rect x="147" y="258.4" width="5.8" height="5.8" fill="#00BF7D"/>
<rect x="172.1" y="273" width="5.8" height="5.8" fill="#00BF7D"/>
<rect x="151.8" y="228.7" width="5.8" height="5.8" fill="#00BF7D"/>
<rect x="162.3" y="277.3" width="5.8" height="5.8" fill="#00BF7D"/>
<rect x="133.4" y="227.4" width="5.8" height="5.8" fill="#00BF7D"/>
<rect x="170.2" y="242.9" width="5.8" height="5.8" fill="#00BF7D"/>
<rect x="142.3" y="251.4" width="5.8" height="5.8" fill="#00BF7D"/>
<rect x="157.1" y="258.8" width="5.8" height="5.8" fill="#00BF7D"/>
<circle cx="183" cy="251.9" r="3" fill="#F8766D"/>
<rect x="166.4" y="272.4" width="5.8" height="5.8" fill="#00BF7D"/>
<circle cx="173.9" cy="231.2" r="3" fill="#F8766D"/>
<circle cx="191.2" cy="221.7" r="3" fill="#F8766D"/>
<path d="M242.3 250H251.1M246.7 245.6V254.4" stroke="#00B0F6" stroke-width="1.3" fill="none"/>
<rect x="156.5" y="262.8" width="5.8" height="5.8" fill="#00BF7D"/>
<rect x="144.7" y="242" width="5.8" height="5.8" fill="#00BF7D"/>
<rect x="170.1" y="297.2" width="5.8" height="5.8" fill="#00BF7D"/>
<circle cx="191" cy="300.4" r="3" fill="#F8766D"/>
<path d="M692.8 132.8H699.2V139.2H692.8ZM692.8 132.8L699.2 139.2M692.8 139.2L699.2 132.8" stroke="#E76BF3" stroke-width="1.05" fill="none"/>
<rect x="162.3" y="250" width="5.8" height="5.8" fill="#00BF7D"/>
<circle cx="196.3" cy="261.5" r="3" fill="#F8766D"/>
<path d="M277.1 264.3H285.9M281.5 259.9V268.7" stroke="#00B0F6" stroke-width="1.3" fill="none"/>
<circle cx="210.7" cy="271.2" r="3" fill="#F8766D"/>
<rect x="145.7" y="252.7" width="5.8" height="5.8" fill="#00BF7D"/>
<circle cx="172.2" cy="241.4" r="3" fill="#F8766D"/>
<rect x="155.9" y="262.2" width="5.8" height="5.8" fill="#00BF7D"/>
<rect x="148" y="259.5" width="5.8" height="5.8" fill="#00BF7D"/>
<rect x="142.6" y="243" width="5.8" height="5.8" fill="#00BF7D"/>
<rect x="147.6" y="242.6" width="5.8" height="5.8" fill="#00BF7D"/>
<circle cx="182.9" cy="278.8" r="3" fill="#F8766D"/>
<rect x="162.5" y="249.3" width="5.8" height="5.8" fill="#00BF7D"/>
<rect x="166.3" y="276" width="5.8" height="5.8" fill="#00BF7D"/>
<circle cx="165.6" cy="223.9" r="3" fill="#F8766D"/>
<rect x="144" y="257.4" width="5.8" height="5.8" fill="#00BF7D"/>
<rect x="163.5" y="244.2" width="5.8" height="5.8" fill="#00BF7D"/>
<circle cx="199.5" cy="238.7" r="3" fill="#F8766D"/>
<rect x="157" y="245.2" width="5.8" height="5.8" fill="#00BF7D"/>
<circle cx="175.5" cy="241.1" r="3" fill="#F8766D"/>
<rect x="156.2" y="269" width="5.8" height="5.8" fill="#00BF7D"/>
<rect x="140.7" y="270.6" width="5.8" height="5.8" fill="#00BF7D"/>
<path d="M197.9 262.5L202 269L193.9 269Z" fill="#A3A500"/>
<circle cx="183.1" cy="256.3" r="3" fill="#F8766D"/>
<rect x="164.4" y="272.1" width="5.8" height="5.8" fill="#00BF7D"/>
<path d="M263.3 202.2L267.3 208.7L259.3 208.7Z" fill="#A3A500"/>
<rect x="166.5" y="259.3" width="5.8" height="5.8" fill="#00BF7D"/>
<circle cx="193.7" cy="252.4" r="3" fill="#F8766D"/>
<rect x="143.8" y="237.5" width="5.8" height="5.8" fill="#00BF7D"/>
<rect x="147.2" y="239.3" width="5.8" height="5.8" fill="#00BF7D"/>
<circle cx="238" cy="296" r="3" fill="#F8766D"/>
<rect x="155.9" y="265.5" width="5.8" height="5.8" fill="#00BF7D"/>
<rect x="173.9" y="253.5" width="5.8" height="5.8" fill="#00BF7D"/>
<circle cx="175.4" cy="243.5" r="3" fill="#F8766D"/>
<circle cx="174.4" cy="245.6" r="3" fill="#F8766D"/>
<rect x="149" y="255.5" width="5.8" height="5.8" fill="#00BF7D"/>
<circle cx="177.7" cy="261.5" r="3" fill="#F8766D"/>
<rect x="145.8" y="260.9" width="5.8" height="5.8" fill="#00BF7D"/>
<path d="M157.6 258.6L161.7 265.2L153.6 265.2Z" fill="#A3A500"/>
<rect x="149.5" y="249.4" width="5.8" height="5.8" fill="#00BF7D"/>
<rect x="155.9" y="228.3" width="5.8" height="5.8" fill="#00BF7D"/>
<rect x="162.3" y="268.4" width="5.8" height="5.8" fill="#00BF7D"/>
<rect x="158.7" y="241.9" width="5.8" height="5.8" fill="#00BF7D"/>
<path d="M224.9 253.4H233.7M229.3 249V257.8" stroke="#00B0F6" stroke-width="1.3" fill="none"/>
<rect x="155.4" y="285.3" width="5.8" height="5.8" fill="#00BF7D"/>
<circle cx="194.9" cy="258.3" r="3" fill="#F8766D"/>
<rect x="146.5" y="237.9" width="5.8" height="5.8" fill="#00BF7D"/>
<rect x="140.2" y="249.2" width="5.8" height="5.8" fill="#00BF7D"/>
<rect x="127.5" y="235.9" width="5.8" height="5.8" fill="#00BF7D"/>
<circle cx="188.5" cy="202.7" r="3" fill="#F8766D"/>
<rect x="167.5" y="261.2" width="5.8" height="5.8" fill="#00BF7D"/>
<rect x="165.3" y="267.9" width="5.8" height="5.8" fill="#00BF7D"/>
<rect x="158.9" y="299.1" width="5.8" height="5.8" fill="#00BF7D"/>
<rect x="157.8" y="244.6" width="5.8" height="5.8" fill="#00BF7D"/>
<rect x="148.4" y="279.5" width="5.8" height="5.8" fill="#00BF7D"/>
<rect x="159.6" y="258.3" width="5.8" height="5.8" fill="#00BF7D"/>
<rect x="147.2" y="241.6" width="5.8" height="5.8" fill="#00BF7D"/>
<circle cx="183.5" cy="261.4" r="3" fill="#F8766D"/>
<rect x="139.7" y="255.6" width="5.8" height="5.8" fill="#00BF7D"/>
<rect x="155.4" y="290.9" width="5.8" height="5.8" fill="#00BF7D"/>
<circle cx="193.1" cy="208.6" r="3" fill="#F8766D"/>
<circle cx="184.9" cy="239.4" r="3" fill="#F8766D"/>
<rect x="135" y="251.1" width="5.8" height="5.8" fill="#00BF7D"/>
<rect x="153" y="262.4" width="5.8" height="5.8" fill="#00BF7D"/>
<circle cx="208.5" cy="237" r="3" fill="#F8766D"/>
<rect x="140.6" y="243.4" width="5.8" height="5.8" fill="#00BF7D"/>
<path d="M256.3 311.1L260.3 317.7L252.3 317.7Z" fill="#A3A500"/>
<circle cx="207.1" cy="250.4" r="3" fill="#F8766D"/>
<path d="M156 247.3L160 253.9L151.9 253.9Z" fill="#A3A500"/>
<circle cx="195.3" cy="193.3" r="3" fill="#F8766D"/>
<rect x="146.7" y="238.4" width="5.8" height="5.8" fill="#00BF7D"/>
<circle cx="199.4" cy="281.7" r="3" fill="#F8766D"/>
<path d="M219.2 255.6L223.3 262.1L215.2 262.1Z" fill="#A3A500"/>
<rect x="141" y="248.9" width="5.8" height="5.8" fill="#00BF7D"/>
<circle cx="203" cy="260.7" r="3" fill="#F8766D"/>
<rect x="147.4" y="223.1" width="5.8" height="5.8" fill="#00BF7D"/>
<circle cx="216.8" cy="289.5" r="3" fill="#F8766D"/>
<rect x="166.7" y="200.6" width="5.8" height="5.8" fill="#00BF7D"/>
<rect x="166.5" y="245.3" width="5.8" height="5.8" fill="#00BF7D"/>
<rect x="157.7" y="255" width="5.8" height="5.8" fill="#00BF7D"/>
<path d="M258.8 232.7H267.6M263.2 228.3V237.1" stroke="#00B0F6" stroke-width="1.3" fill="none"/>
<circle cx="182.6" cy="260.9" r="3" fill="#F8766D"/>
<path d="M220.5 303.7H229.3M224.9 299.3V308.1" stroke="#00B0F6" stroke-width="1.3" fill="none"/>
<circle cx="173.5" cy="217.9" r="3" fill="#F8766D"/>
<rect x="135.3" y="251.7" width="5.8" height="5.8" fill="#00BF7D"/>
<circle cx="168.9" cy="243.7" r="3" fill="#F8766D"/>
<circle cx="180.7" cy="316.8" r="3" fill="#F8766D"/>
<rect x="140.9" y="262.8" width="5.8" height="5.8" fill="#00BF7D"/>
<path d="M295.9 262.9H304.7M300.3 258.5V267.3" stroke="#00B0F6" stroke-width="1.3" fill="none"/>
<rect x="145.9" y="271.6" width="5.8" height="5.8" fill="#00BF7D"/>
<rect x="142.8" y="262" width="5.8" height="5.8" fill="#00BF7D"/>
<rect x="134.2" y="227.8" width="5.8" height="5.8" fill="#00BF7D"/>
<circle cx="225.3" cy="257" r="3" fill="#F8766D"/>
<circle cx="194.8" cy="348.5" r="3" fill="#F8766D"/>
<rect x="146.6" y="253" width="5.8" height="5.8" fill="#00BF7D"/>
<rect x="146.4" y="262.1" width="5.8" height="5.8" fill="#00BF7D"/>
<rect x="170.7" y="253.4" width="5.8" height="5.8" fill="#00BF7D"/>
<rect x="161.1" y="255.1" width="5.8" height="5.8" fill="#00BF7D"/>
<circle cx="190.8" cy="254.8" r="3" fill="#F8766D"/>
<path d="M247.3 285.7H256.1M251.7 281.3V290.1" stroke="#00B0F6" stroke-width="1.3" fill="none"/>
<circle cx="206.1" cy="214" r="3" fill="#F8766D"/>
<rect x="145.6" y="259.8" width="5.8" height="5.8" fill="#00BF7D"/>
<path d="M216.5 215.1L220.6 221.6L212.5 221.6Z" fill="#A3A500"/>
<rect x="143.5" y="271.6" width="5.8" height="5.8" fill="#00BF7D"/>
<circle cx="215.1" cy="242.3" r="3" fill="#F8766D"/>
<circle cx="213" cy="249.6" r="3" fill="#F8766D"/>
<rect x="152.1" y="271.1" width="5.8" height="5.8" fill="#00BF7D"/>
<rect x="134.9" y="244.5" width="5.8" height="5.8" fill="#00BF7D"/>
<rect x="136.9" y="260.6" width="5.8" height="5.8" fill="#00BF7D"/>
<path d="M274.9 266.3H283.7M279.3 261.9V270.7" stroke="#00B0F6" stroke-width="1.3" fill="none"/>
<rect x="152.7" y="241.2" width="5.8" height="5.8" fill="#00BF7D"/>
<rect x="162.9" y="270.4" width="5.8" height="5.8" fill="#00BF7D"/>
<rect x="152.1" y="261.8" width="5.8" height="5.8" fill="#00BF7D"/>
<rect x="152.1" y="229.3" width="5.8" height="5.8" fill="#00BF7D"/>
<rect x="150.2" y="235" width="5.8" height="5.8" fill="#00BF7D"/>
<path d="M205.3 281.4L209.3 287.9L201.2 287.9Z" fill="#A3A500"/>
<path d="M162.1 229.5L166.2 236L158.1 236Z" fill="#A3A500"/>
<rect x="168.1" y="256.5" width="5.8" height="5.8" fill="#00BF7D"/>
<circle cx="186.3" cy="274.7" r="3" fill="#F8766D"/>
<rect x="174.2" y="264.2" width="5.8" height="5.8" fill="#00BF7D"/>
<rect x="164.1" y="283.6" width="5.8" height="5.8" fill="#00BF7D"/>
<path d="M390.3 266.8H396.7V273.2H390.3ZM390.3 266.8L396.7 273.2M390.3 273.2L396.7 266.8" stroke="#E76BF3" stroke-width="1.05" fill="none"/>
<rect x="152.9" y="266" width="5.8" height="5.8" fill="#00BF7D"/>
<path d="M313.1 246.8H321.9M317.5 242.4V251.2" stroke="#00B0F6" stroke-width="1.3" fill="none"/>
<path d="M149.1 248.7L153.2 255.2L145.1 255.2Z" fill="#A3A500"/>
<rect x="166.3" y="257" width="5.8" height="5.8" fill="#00BF7D"/>
<circle cx="187.9" cy="258" r="3" fill="#F8766D"/>
<rect x="149.3" y="263" width="5.8" height="5.8" fill="#00BF7D"/>
<path d="M277.6 266H286.4M282 261.6V270.4" stroke="#00B0F6" stroke-width="1.3" fill="none"/>
<rect x="151.3" y="255.6" width="5.8" height="5.8" fill="#00BF7D"/>
<path d="M212.5 267.9L216.5 274.5L208.4 274.5Z" fill="#A3A500"/>
<rect x="169.6" y="260.8" width="5.8" height="5.8" fill="#00BF7D"/>
<rect x="137.4" y="254.8" width="5.8" height="5.8" fill="#00BF7D"/>
<circle cx="209.1" cy="304.2" r="3" fill="#F8766D"/>
<circle cx="191.3" cy="252" r="3" fill="#F8766D"/>
<rect x="137.2" y="244.1" width="5.8" height="5.8" fill="#00BF7D"/>
<rect x="145.1" y="265.3" width="5.8" height="5.8" fill="#00BF7D"/>
<circle cx="195.3" cy="273.5" r="3" fill="#F8766D"/>
<rect x="176.5" y="248.7" width="5.8" height="5.8" fill="#00BF7D"/>
<path d="M171.6 269.6L175.7 276.2L167.6 276.2Z" fill="#A3A500"/>
<path d="M374.1 274.5H380.5V280.9H374.1ZM374.1 274.5L380.5 280.9M374.1 280.9L380.5 274.5" stroke="#E76BF3" stroke-width="1.05" fill="none"/>
<path d="M203.3 325.6H212.1M207.7 321.2V330" stroke="#00B0F6" stroke-width="1.3" fill="none"/>
<rect x="139.6" y="239.7" width="5.8" height="5.8" fill="#00BF7D"/>
<rect x="129.9" y="231.9" width="5.8" height="5.8" fill="#00BF7D"/>
<rect x="139.6" y="254.9" width="5.8" height="5.8" fill="#00BF7D"/>
<rect x="155.6" y="243.8" width="5.8" height="5.8" fill="#00BF7D"/>
<rect x="172.4" y="264.9" width="5.8" height="5.8" fill="#00BF7D"/>
<rect x="147.1" y="246.9" width="5.8" height="5.8" fill="#00BF7D"/>
<rect x="168.1" y="309.8" width="5.8" height="5.8" fill="#00BF7D"/>
<path d="M259.6 300H268.4M264 295.6V304.4" stroke="#00B0F6" stroke-width="1.3" fill="none"/>
<path d="M202.4 191.5L206.4 198.1L198.4 198.1Z" fill="#A3A500"/>
<circle cx="213" cy="261.7" r="3" fill="#F8766D"/>
<rect x="162.1" y="252.1" width="5.8" height="5.8" fill="#00BF7D"/>
<rect x="146.4" y="238.1" width="5.8" height="5.8" fill="#00BF7D"/>
<circle cx="184.8" cy="274.9" r="3" fill="#F8766D"/>
<path d="M223.3 264.1L227.3 270.6L219.2 270.6Z" fill="#A3A500"/>
<circle cx="205.4" cy="251.9" r="3" fill="#F8766D"/>
<circle cx="206.6" cy="290.2" r="3" fill="#F8766D"/>
<rect x="160.6" y="214.5" width="5.8" height="5.8" fill="#00BF7D"/>
<rect x="165.6" y="284.3" width="5.8" height="5.8" fill="#00BF7D"/>
<rect x="148.7" y="245.9" width="5.8" height="5.8" fill="#00BF7D"/>
<rect x="139.7" y="240.8" width="5.8" height="5.8" fill="#00BF7D"/>
<rect x="143.7" y="260.6" width="5.8" height="5.8" fill="#00BF7D"/>
<rect x="146.1" y="212.4" width="5.8" height="5.8" fill="#00BF7D"/>
<rect x="145.2" y="256.5" width="5.8" height="5.8" fill="#00BF7D"/>
<rect x="157.8" y="243.2" width="5.8" height="5.8" fill="#00BF7D"/>
<circle cx="210" cy="285.8" r="3" fill="#F8766D"/>
<circle cx="175.5" cy="245" r="3" fill="#F8766D"/>
<path d="M176.1 255.3L180.1 261.8L172 261.8Z" fill="#A3A500"/>
<rect x="141.8" y="257.1" width="5.8" height="5.8" fill="#00BF7D"/>
<rect x="134.1" y="248.8" width="5.8" height="5.8" fill="#00BF7D"/>
<circle cx="206.7" cy="259.6" r="3" fill="#F8766D"/>
<rect x="150.6" y="258.8" width="5.8" height="5.8" fill="#00BF7D"/>
<circle cx="191.1" cy="300.2" r="3" fill="#F8766D"/>
<rect x="149.4" y="272.5" width="5.8" height="5.8" fill="#00BF7D"/>
<path d="M219.3 284.7H228.1M223.7 280.3V289.1" stroke="#00B0F6" stroke-width="1.3" fill="none"/>
<circle cx="182" cy="270.1" r="3" fill="#F8766D"/>
<circle cx="161.6" cy="227.5" r="3" fill="#F8766D"/>
<path d="M232 240.3L236 246.9L228 246.9Z" fill="#A3A500"/>
<rect x="152.4" y="235" width="5.8" height="5.8" fill="#00BF7D"/>
<circle cx="168.7" cy="233.4" r="3" fill="#F8766D"/>
<circle cx="178.5" cy="283.9" r="3" fill="#F8766D"/>
<rect x="144.6" y="248.7" width="5.8" height="5.8" fill="#00BF7D"/>
<rect x="152.7" y="270.9" width="5.8" height="5.8" fill="#00BF7D"/>
<rect x="150.3" y="238.1" width="5.8" height="5.8" fill="#00BF7D"/>
<rect x="154.8" y="300.7" width="5.8" height="5.8" fill="#00BF7D"/>
<path d="M226.7 287.6L230.7 294.2L222.7 294.2Z" fill="#A3A500"/>
<rect x="152.1" y="275.6" width="5.8" height="5.8" fill="#00BF7D"/>
<rect x="167.9" y="248.3" width="5.8" height="5.8" fill="#00BF7D"/>
<circle cx="209.7" cy="225" r="3" fill="#F8766D"/>
<rect x="161.4" y="260.6" width="5.8" height="5.8" fill="#00BF7D"/>
<circle cx="172.4" cy="208.5" r="3" fill="#F8766D"/>
<rect x="148.9" y="250.5" width="5.8" height="5.8" fill="#00BF7D"/>
<rect x="174.7" y="269.1" width="5.8" height="5.8" fill="#00BF7D"/>
<circle cx="209.5" cy="273.8" r="3" fill="#F8766D"/>
<path d="M240.6 299H249.4M245 294.6V303.4" stroke="#00B0F6" stroke-width="1.3" fill="none"/>
<rect x="132.1" y="234" width="5.8" height="5.8" fill="#00BF7D"/>
<path d="M179 277.3L183 283.9L175 283.9Z" fill="#A3A500"/>
<path d="M489.6 266.1H496V272.5H489.6ZM489.6 266.1L496 272.5M489.6 272.5L496 266.1" stroke="#E76BF3" stroke-width="1.05" fill="none"/>
<circle cx="192.7" cy="309.3" r="3" fill="#F8766D"/>
<rect x="136.7" y="249.1" width="5.8" height="5.8" fill="#00BF7D"/>
<rect x="165" y="268.1" width="5.8" height="5.8" fill="#00BF7D"/>
<rect x="144.2" y="246.7" width="5.8" height="5.8" fill="#00BF7D"/>
<path d="M153.5 247L157.6 253.5L149.5 253.5Z" fill="#A3A500"/>
<rect x="138.5" y="254.1" width="5.8" height="5.8" fill="#00BF7D"/>
<rect x="138.9" y="240.6" width="5.8" height="5.8" fill="#00BF7D"/>
<path d="M708.3 225.8H714.7V232.2H708.3ZM708.3 225.8L714.7 232.2M708.3 232.2L714.7 225.8" stroke="#E76BF3" stroke-width="1.05" fill="none"/>
<path d="M228.3 296.9L232.4 303.4L224.3 303.4Z" fill="#A3A500"/>
<rect x="153.9" y="272.5" width="5.8" height="5.8" fill="#00BF7D"/>
<circle cx="192.1" cy="263.2" r="3" fill="#F8766D"/>
<rect x="136.8" y="244" width="5.8" height="5.8" fill="#00BF7D"/>
<rect x="145.7" y="275.9" width="5.8" height="5.8" fill="#00BF7D"/>
<rect x="166.7" y="263.2" width="5.8" height="5.8" fill="#00BF7D"/>
<path d="M150.8 252.3L154.8 258.8L146.7 258.8Z" fill="#A3A500"/>
<rect x="155.7" y="252.2" width="5.8" height="5.8" fill="#00BF7D"/>
<rect x="168.7" y="272.1" width="5.8" height="5.8" fill="#00BF7D"/>
<rect x="144.9" y="262.4" width="5.8" height="5.8" fill="#00BF7D"/>
<circle cx="186" cy="312.7" r="3" fill="#F8766D"/>
<rect x="141.2" y="261" width="5.8" height="5.8" fill="#00BF7D"/>
<path d="M388.6 270.1H395V276.5H388.6ZM388.6 270.1L395 276.5M388.6 276.5L395 270.1" stroke="#E76BF3" stroke-width="1.05" fill="none"/>
<rect x="152.9" y="264.3" width="5.8" height="5.8" fill="#00BF7D"/>
<circle cx="192.6" cy="225.2" r="3" fill="#F8766D"/>
<rect x="141.8" y="254.7" width="5.8" height="5.8" fill="#00BF7D"/>
<rect x="163.5" y="272.8" width="5.8" height="5.8" fill="#00BF7D"/>
<rect x="165.2" y="258.8" width="5.8" height="5.8" fill="#00BF7D"/>
<rect x="148.7" y="247.7" width="5.8" height="5.8" fill="#00BF7D"/>
<rect x="135.7" y="246.7" width="5.8" height="5.8" fill="#00BF7D"/>
<rect x="151.2" y="247.8" width="5.8" height="5.8" fill="#00BF7D"/>
<circle cx="184" cy="277.6" r="3" fill="#F8766D"/>
<circle cx="208.3" cy="206.5" r="3" fill="#F8766D"/>
<rect x="160.9" y="292.9" width="5.8" height="5.8" fill="#00BF7D"/>
<rect x="141.3" y="259.4" width="5.8" height="5.8" fill="#00BF7D"/>
<rect x="138.4" y="248.5" width="5.8" height="5.8" fill="#00BF7D"/>
<rect x="158.6" y="243.4" width="5.8" height="5.8" fill="#00BF7D"/>
<rect x="151.9" y="255.7" width="5.8" height="5.8" fill="#00BF7D"/>
<rect x="161.9" y="264.4" width="5.8" height="5.8" fill="#00BF7D"/>
<circle cx="180.1" cy="277.6" r="3" fill="#F8766D"/>
<rect x="157.6" y="250.9" width="5.8" height="5.8" fill="#00BF7D"/>
<rect x="153.5" y="223.1" width="5.8" height="5.8" fill="#00BF7D"/>
<rect x="165.3" y="260.2" width="5.8" height="5.8" fill="#00BF7D"/>
<rect x="165.6" y="257.7" width="5.8" height="5.8" fill="#00BF7D"/>
<rect x="146.6" y="249.4" width="5.8" height="5.8" fill="#00BF7D"/>
<rect x="161.3" y="261.4" width="5.8" height="5.8" fill="#00BF7D"/>
<rect x="154.4" y="255.2" width="5.8" height="5.8" fill="#00BF7D"/>
<rect x="150.2" y="252" width="5.8" height="5.8" fill="#00BF7D"/>
<rect x="167.6" y="274.2" width="5.8" height="5.8" fill="#00BF7D"/>
<rect x="136.5" y="253.9" width="5.8" height="5.8" fill="#00BF7D"/>
<rect x="156.5" y="246.5" width="5.8" height="5.8" fill="#00BF7D"/>
<path d="M216.8 243.1H225.6M221.2 238.7V247.5" stroke="#00B0F6" stroke-width="1.3" fill="none"/>
<circle cx="195.7" cy="233.3" r="3" fill="#F8766D"/>
<path d="M222.9 263.5H231.7M227.3 259.1V267.9" stroke="#00B0F6" stroke-width="1.3" fill="none"/>
<rect x="134" y="247.1" width="5.8" height="5.8" fill="#00BF7D"/>
<circle cx="209.5" cy="256.8" r="3" fill="#F8766D"/>
<rect x="167.6" y="247.2" width="5.8" height="5.8" fill="#00BF7D"/>
<rect x="140.9" y="249.1" width="5.8" height="5.8" fill="#00BF7D"/>
<rect x="160.6" y="258.4" width="5.8" height="5.8" fill="#00BF7D"/>
<rect x="133.6" y="250.9" width="5.8" height="5.8" fill="#00BF7D"/>
<circle cx="180.5" cy="241.8" r="3" fill="#F8766D"/>
<rect x="149.5" y="250.6" width="5.8" height="5.8" fill="#00BF7D"/>
<rect x="143.8" y="251.2" width="5.8" height="5.8" fill="#00BF7D"/>
<rect x="151.7" y="261.3" width="5.8" height="5.8" fill="#00BF7D"/>
<circle cx="167" cy="243.4" r="3" fill="#F8766D"/>
<circle cx="191.8" cy="256.1" r="3" fill="#F8766D"/>
<circle cx="176.6" cy="276.4" r="3" fill="#F8766D"/>
<rect x="160" y="280.8" width="5.8" height="5.8" fill="#00BF7D"/>
<rect x="151.7" y="229.5" width="5.8" height="5.8" fill="#00BF7D"/>
<path d="M216.3 239.8H225.1M220.7 235.4V244.2" stroke="#00B0F6" stroke-width="1.3" fill="none"/>
<rect x="144.7" y="250.3" width="5.8" height="5.8" fill="#00BF7D"/>
<path d="M168.5 263.4L172.6 269.9L164.5 269.9Z" fill="#A3A500"/>
<rect x="138" y="255.2" width="5.8" height="5.8" fill="#00BF7D"/>
<rect x="149.1" y="278.6" width="5.8" height="5.8" fill="#00BF7D"/>
<circle cx="164.2" cy="238.6" r="3" fill="#F8766D"/>
<circle cx="175.3" cy="239" r="3" fill="#F8766D"/>
<rect x="130.9" y="240.5" width="5.8" height="5.8" fill="#00BF7D"/>
<rect x="145.4" y="250.1" width="5.8" height="5.8" fill="#00BF7D"/>
<path d="M214.4 255.2L218.4 261.7L210.3 261.7Z" fill="#A3A500"/>
<rect x="135.7" y="247.5" width="5.8" height="5.8" fill="#00BF7D"/>
<rect x="145.2" y="271.1" width="5.8" height="5.8" fill="#00BF7D"/>
<rect x="151.8" y="255.2" width="5.8" height="5.8" fill="#00BF7D"/>
<rect x="163.6" y="254" width="5.8" height="5.8" fill="#00BF7D"/>
<rect x="150.1" y="248" width="5.8" height="5.8" fill="#00BF7D"/>
<path d="M266.6 282.3H275.4M271 277.9V286.7" stroke="#00B0F6" stroke-width="1.3" fill="none"/>
<rect x="160.5" y="290.8" width="5.8" height="5.8" fill="#00BF7D"/>
<rect x="166.7" y="266.6" width="5.8" height="5.8" fill="#00BF7D"/>
<rect x="154.6" y="240.8" width="5.8" height="5.8" fill="#00BF7D"/>
<rect x="140.5" y="249.1" width="5.8" height="5.8" fill="#00BF7D"/>
<rect x="156.3" y="280.2" width="5.8" height="5.8" fill="#00BF7D"/>
<circle cx="186" cy="290.5" r="3" fill="#F8766D"/>
<circle cx="197.2" cy="326.4" r="3" fill="#F8766D"/>
<rect x="163.2" y="255.8" width="5.8" height="5.8" fill="#00BF7D"/>
<rect x="141.9" y="241.7" width="5.8" height="5.8" fill="#00BF7D"/>
<circle cx="206.1" cy="258.6" r="3" fill="#F8766D"/>
<rect x="155.8" y="247.5" width="5.8" height="5.8" fill="#00BF7D"/>
<path d="M238.3 298H247.1M242.7 293.6V302.4" stroke="#00B0F6" stroke-width="1.3" fill="none"/>
<rect x="151.7" y="261" width="5.8" height="5.8" fill="#00BF7D"/>
<rect x="144.8" y="253.5" width="5.8" height="5.8" fill="#00BF7D"/>
<rect x="145.9" y="257.2" width="5.8" height="5.8" fill="#00BF7D"/>
<rect x="136.8" y="238.3" width="5.8" height="5.8" fill="#00BF7D"/>
<rect x="141.9" y="256.5" width="5.8" height="5.8" fill="#00BF7D"/>
<rect x="137.3" y="253.6" width="5.8" height="5.8" fill="#00BF7D"/>
<rect x="145.5" y="250.8" width="5.8" height="5.8" fill="#00BF7D"/>
<path d="M151.5 235.8L155.5 242.4L147.4 242.4Z" fill="#A3A500"/>
<circle cx="180.4" cy="250.5" r="3" fill="#F8766D"/>
<circle cx="198.6" cy="235.9" r="3" fill="#F8766D"/>
<path d="M209.4 316H218.2M213.8 311.6V320.4" stroke="#00B0F6" stroke-width="1.3" fill="none"/>
<rect x="155.5" y="264" width="5.8" height="5.8" fill="#00BF7D"/>
<circle cx="220.1" cy="261.5" r="3" fill="#F8766D"/>
<rect x="140.8" y="253.1" width="5.8" height="5.8" fill="#00BF7D"/>
<rect x="174.1" y="264.2" width="5.8" height="5.8" fill="#00BF7D"/>
<rect x="162.9" y="277.4" width="5.8" height="5.8" fill="#00BF7D"/>
<rect x="149.5" y="236.3" width="5.8" height="5.8" fill="#00BF7D"/>
<path d="M217.7 271.2H226.5M222.1 266.8V275.6" stroke="#00B0F6" stroke-width="1.3" fill="none"/>
<rect x="155.1" y="253.8" width="5.8" height="5.8" fill="#00BF7D"/>
<path d="M224.8 265.9L228.9 272.4L220.8 272.4Z" fill="#A3A500"/>
<rect x="152.2" y="210.3" width="5.8" height="5.8" fill="#00BF7D"/>
<rect x="148.7" y="257" width="5.8" height="5.8" fill="#00BF7D"/>
<path d="M217 237.9H225.8M221.4 233.5V242.3" stroke="#00B0F6" stroke-width="1.3" fill="none"/>
<rect x="166.9" y="262.5" width="5.8" height="5.8" fill="#00BF7D"/>
<rect x="138.8" y="252.2" width="5.8" height="5.8" fill="#00BF7D"/>
<circle cx="170.7" cy="225" r="3" fill="#F8766D"/>
<rect x="154.4" y="248.7" width="5.8" height="5.8" fill="#00BF7D"/>
<circle cx="203" cy="314.4" r="3" fill="#F8766D"/>
<path d="M244 308.4H252.8M248.4 304V312.8" stroke="#00B0F6" stroke-width="1.3" fill="none"/>
<rect x="136.6" y="257.5" width="5.8" height="5.8" fill="#00BF7D"/>
<path d="M247.8 320.8L251.9 327.3L243.8 327.3Z" fill="#A3A500"/>
<rect x="142.6" y="220" width="5.8" height="5.8" fill="#00BF7D"/>
<path d="M409.1 255H415.5V261.4H409.1ZM409.1 255L415.5 261.4M409.1 261.4L415.5 255" stroke="#E76BF3" stroke-width="1.05" fill="none"/>
<circle cx="175.3" cy="242" r="3" fill="#F8766D"/>
<rect x="169.2" y="254.1" width="5.8" height="5.8" fill="#00BF7D"/>
<rect x="150.3" y="272.1" width="5.8" height="5.8" fill="#00BF7D"/>
<circle cx="187.1" cy="268" r="3" fill="#F8766D"/>
<rect x="143.9" y="257.7" width="5.8" height="5.8" fill="#00BF7D"/>
<circle cx="208.5" cy="269.3" r="3" fill="#F8766D"/>
<rect x="146.1" y="234.9" width="5.8" height="5.8" fill="#00BF7D"/>
<rect x="142.2" y="260.9" width="5.8" height="5.8" fill="#00BF7D"/>
<rect x="146.5" y="256.1" width="5.8" height="5.8" fill="#00BF7D"/>
<circle cx="188.4" cy="271.4" r="3" fill="#F8766D"/>
<circle cx="209.5" cy="262" r="3" fill="#F8766D"/>
<circle cx="192.2" cy="230.8" r="3" fill="#F8766D"/>
<circle cx="192.2" cy="235.8" r="3" fill="#F8766D"/>
<rect x="151.1" y="271.1" width="5.8" height="5.8" fill="#00BF7D"/>
<rect x="144.9" y="256.5" width="5.8" height="5.8" fill="#00BF7D"/>
<rect x="155" y="260.6" width="5.8" height="5.8" fill="#00BF7D"/>
<rect x="145.5" y="246.8" width="5.8" height="5.8" fill="#00BF7D"/>
<rect x="139.6" y="261.2" width="5.8" height="5.8" fill="#00BF7D"/>
<circle cx="188.5" cy="268.3" r="3" fill="#F8766D"/>
<path d="M237.6 282.3H246.4M242 277.9V286.7" stroke="#00B0F6" stroke-width="1.3" fill="none"/>
<rect x="147.6" y="265.2" width="5.8" height="5.8" fill="#00BF7D"/>
<circle cx="174.9" cy="243.2" r="3" fill="#F8766D"/>
<rect x="164.8" y="268.3" width="5.8" height="5.8" fill="#00BF7D"/>
<rect x="143.2" y="248.7" width="5.8" height="5.8" fill="#00BF7D"/>
<rect x="151.5" y="236.6" width="5.8" height="5.8" fill="#00BF7D"/>
<rect x="138.1" y="252.5" width="5.8" height="5.8" fill="#00BF7D"/>
<circle cx="163.6" cy="220.3" r="3" fill="#F8766D"/>
<circle cx="206" cy="256.8" r="3" fill="#F8766D"/>
<circle cx="219.2" cy="275.4" r="3" fill="#F8766D"/>
<rect x="151.8" y="262" width="5.8" height="5.8" fill="#00BF7D"/>
<circle cx="220.5" cy="264.5" r="3" fill="#F8766D"/>
<path d="M241.8 321L245.8 327.5L237.8 327.5Z" fill="#A3A500"/>
<rect x="156.7" y="258.7" width="5.8" height="5.8" fill="#00BF7D"/>
<rect x="149.4" y="217.9" width="5.8" height="5.8" fill="#00BF7D"/>
<rect x="148.8" y="264.3" width="5.8" height="5.8" fill="#00BF7D"/>
<rect x="144.3" y="243.4" width="5.8" height="5.8" fill="#00BF7D"/>
<circle cx="179.1" cy="271.8" r="3" fill="#F8766D"/>
<rect x="157.1" y="256.2" width="5.8" height="5.8" fill="#00BF7D"/>
<rect x="139.6" y="265" width="5.8" height="5.8" fill="#00BF7D"/>
<circle cx="182.9" cy="279.5" r="3" fill="#F8766D"/>
<rect x="161.1" y="244.7" width="5.8" height="5.8" fill="#00BF7D"/>
<circle cx="181.3" cy="266.6" r="3" fill="#F8766D"/>
<rect x="163.8" y="265.7" width="5.8" height="5.8" fill="#00BF7D"/>
<rect x="173.1" y="264.4" width="5.8" height="5.8" fill="#00BF7D"/>
<rect x="154" y="253.1" width="5.8" height="5.8" fill="#00BF7D"/>
<rect x="151.8" y="241.1" width="5.8" height="5.8" fill="#00BF7D"/>
<path d="M231.4 254.1L235.5 260.7L227.4 260.7Z" fill="#A3A500"/>
<rect x="138.4" y="246.9" width="5.8" height="5.8" fill="#00BF7D"/>
<circle cx="183.2" cy="276.7" r="3" fill="#F8766D"/>
<path d="M346 46.6L350 53.2L342 53.2Z" fill="#A3A500"/>
<rect x="145.1" y="250.1" width="5.8" height="5.8" fill="#00BF7D"/>
<rect x="164.4" y="253.1" width="5.8" height="5.8" fill="#00BF7D"/>
<rect x="164.4" y="258.5" width="5.8" height="5.8" fill="#00BF7D"/>
<circle cx="185.2" cy="246.7" r="3" fill="#F8766D"/>
<rect x="145.7" y="263.1" width="5.8" height="5.8" fill="#00BF7D"/>
<path d="M214.8 216.9H223.6M219.2 212.5V221.3" stroke="#00B0F6" stroke-width="1.3" fill="none"/>
<circle cx="187.3" cy="265.8" r="3" fill="#F8766D"/>
<circle cx="195.3" cy="208.7" r="3" fill="#F8766D"/>
<rect x="142.6" y="260" width="5.8" height="5.8" fill="#00BF7D"/>
<circle cx="179.5" cy="242.9" r="3" fill="#F8766D"/>
<rect x="159.1" y="260.4" width="5.8" height="5.8" fill="#00BF7D"/>
<rect x="137.4" y="234.7" width="5.8" height="5.8" fill="#00BF7D"/>
<circle cx="193" cy="238.4" r="3" fill="#F8766D"/>
<rect x="160.6" y="275.8" width="5.8" height="5.8" fill="#00BF7D"/>
<rect x="150" y="286.9" width="5.8" height="5.8" fill="#00BF7D"/>
<rect x="167" y="269.3" width="5.8" height="5.8" fill="#00BF7D"/>
<circle cx="216.6" cy="270.8" r="3" fill="#F8766D"/>
<rect x="166" y="252.2" width="5.8" height="5.8" fill="#00BF7D"/>
<rect x="149.2" y="248.2" width="5.8" height="5.8" fill="#00BF7D"/>
<circle cx="207.2" cy="264.8" r="3" fill="#F8766D"/>
<rect x="142" y="226.9" width="5.8" height="5.8" fill="#00BF7D"/>
<rect x="171" y="247" width="5.8" height="5.8" fill="#00BF7D"/>
<rect x="152.6" y="258.1" width="5.8" height="5.8" fill="#00BF7D"/>
<rect x="143.2" y="260" width="5.8" height="5.8" fill="#00BF7D"/>
<circle cx="179.2" cy="277" r="3" fill="#F8766D"/>
<rect x="139.7" y="266" width="5.8" height="5.8" fill="#00BF7D"/>
<circle cx="184" cy="252.6" r="3" fill="#F8766D"/>
<rect x="142.3" y="269.6" width="5.8" height="5.8" fill="#00BF7D"/>
<rect x="146.3" y="264.1" width="5.8" height="5.8" fill="#00BF7D"/>
<path d="M202.4 255.9L206.5 262.4L198.4 262.4Z" fill="#A3A500"/>
<circle cx="183.5" cy="275" r="3" fill="#F8766D"/>
<circle cx="178.7" cy="263.8" r="3" fill="#F8766D"/>
<rect x="172.2" y="257.8" width="5.8" height="5.8" fill="#00BF7D"/>
<rect x="152.9" y="263.1" width="5.8" height="5.8" fill="#00BF7D"/>
<path d="M238.9 295.7H247.7M243.3 291.3V300.1" stroke="#00B0F6" stroke-width="1.3" fill="none"/>
<circle cx="176" cy="231.5" r="3" fill="#F8766D"/>
<rect x="152.5" y="271.8" width="5.8" height="5.8" fill="#00BF7D"/>
<rect x="143.8" y="252.1" width="5.8" height="5.8" fill="#00BF7D"/>
<circle cx="181.6" cy="240.4" r="3" fill="#F8766D"/>
<rect x="161.9" y="245.9" width="5.8" height="5.8" fill="#00BF7D"/>
<path d="M225.5 246.9L229.5 253.4L221.4 253.4Z" fill="#A3A500"/>
<rect x="169.5" y="263.9" width="5.8" height="5.8" fill="#00BF7D"/>
<rect x="142.6" y="255.8" width="5.8" height="5.8" fill="#00BF7D"/>
<circle cx="191.3" cy="270.9" r="3" fill="#F8766D"/>
<rect x="133.4" y="243.5" width="5.8" height="5.8" fill="#00BF7D"/>
<circle cx="200" cy="264.2" r="3" fill="#F8766D"/>
<rect x="151.6" y="264.5" width="5.8" height="5.8" fill="#00BF7D"/>
<rect x="147.9" y="224.1" width="5.8" height="5.8" fill="#00BF7D"/>
<rect x="165.6" y="265.3" width="5.8" height="5.8" fill="#00BF7D"/>
<rect x="145.3" y="266.8" width="5.8" height="5.8" fill="#00BF7D"/>
<rect x="151.8" y="248.2" width="5.8" height="5.8" fill="#00BF7D"/>
<rect x="145.8" y="257.6" width="5.8" height="5.8" fill="#00BF7D"/>
<rect x="138.7" y="262.7" width="5.8" height="5.8" fill="#00BF7D"/>
<rect x="149.8" y="271.2" width="5.8" height="5.8" fill="#00BF7D"/>
<circle cx="189.3" cy="270.9" r="3" fill="#F8766D"/>
<path d="M371.3 264L696 136L1074 243.5L422.5 516Z" fill="none" stroke="#E76BF3" stroke-width="1.1" stroke-linejoin="round"/>
<path d="M346 51L226.7 152.5L205.5 171.5L128.7 240.2L138 256L156.7 268.2L223.3 337.3L258.7 364L272 372Z" fill="none" stroke="#A3A500" stroke-width="1.1" stroke-linejoin="round"/>
<path d="M195.5 175L246.7 253.5L251 259L206.7 334.5L194.8 348.5L185.5 336L159 276.5L160 225L175 198.5Z" fill="none" stroke="#F8766D" stroke-width="1.1" stroke-linejoin="round"/>
<path d="M220.8 174L243.5 173.5L252 177.5L327 197L368 277.5L351.3 290.5L207.5 327.3L200 303L188.3 269L192 257L206.7 193.5Z" fill="none" stroke="#00B0F6" stroke-width="1.1" stroke-linejoin="round"/>
<path d="M506.5 265.5H518.5V277.5H506.5ZM506.5 265.5L518.5 277.5M506.5 277.5L518.5 265.5" stroke="#E76BF3" stroke-width="1.1" fill="none"/>
<path d="M166 239.5L173.4 251.5L158.6 251.5Z" fill="#A3A500"/>
<path d="M102.5 225L142 257.6" stroke="#5A5A5A" stroke-width="1" fill="none"/>
<path d="M116.7 249L138 254.8" stroke="#5A5A5A" stroke-width="1" fill="none"/>
<path d="M140.7 209.5L145 247.7" stroke="#5A5A5A" stroke-width="1" fill="none"/>
<path d="M105.3 283L145 271.8" stroke="#5A5A5A" stroke-width="1" fill="none"/>
<path d="M108 307L146.4 272.4" stroke="#5A5A5A" stroke-width="1" fill="none"/>
<path d="M215.8 211L156.3 257" stroke="#5A5A5A" stroke-width="1" fill="none"/>
<path d="M224.3 236.5L189.7 247.7" stroke="#5A5A5A" stroke-width="1" fill="none"/>
<path d="M210 252.8L179 258.2" stroke="#5A5A5A" stroke-width="1" fill="none"/>
<path d="M173.3 222L146 248.8" stroke="#5A5A5A" stroke-width="1" fill="none"/>
<path d="M172 239L163.3 241.5" stroke="#5A5A5A" stroke-width="1" fill="none"/>
<path d="M218.6 276L147.8 266" stroke="#5A5A5A" stroke-width="1" fill="none"/>
<path d="M196 286L153.5 270.5" stroke="#5A5A5A" stroke-width="1" fill="none"/>
<path d="M153.5 291.5L150 274.5" stroke="#5A5A5A" stroke-width="1" fill="none"/>
<path d="M166 311.5L155 274.5" stroke="#5A5A5A" stroke-width="1" fill="none"/>
<path d="M135 272L146 273" stroke="#5A5A5A" stroke-width="1" fill="none"/>
<circle cx="136" cy="249.5" r="2.5" fill="#595959"/>
<circle cx="141" cy="256" r="2.5" fill="#595959"/>
<circle cx="145" cy="262" r="2.5" fill="#595959"/>
<circle cx="148" cy="267" r="2.5" fill="#595959"/>
<circle cx="163.3" cy="241.5" r="2.5" fill="#595959"/>
<circle cx="146" cy="248.8" r="2.5" fill="#595959"/>
<circle cx="190" cy="247.5" r="2.5" fill="#595959"/>
<circle cx="156" cy="256.8" r="2.5" fill="#595959"/>
<circle cx="179.3" cy="258.5" r="2.5" fill="#595959"/>
<circle cx="138.7" cy="252.8" r="2.5" fill="#595959"/>
<circle cx="143.3" cy="259.5" r="2.5" fill="#595959"/>
<circle cx="146.7" cy="264.2" r="2.5" fill="#595959"/>
<circle cx="146" cy="273.5" r="2.5" fill="#595959"/>
<circle cx="150" cy="269.5" r="2.5" fill="#595959"/>
<circle cx="154.7" cy="270.8" r="2.5" fill="#595959"/>
<circle cx="215.3" cy="288.4" r="2.5" fill="#595959"/>
<circle cx="346" cy="51" r="2.5" fill="#595959"/>
<circle cx="696" cy="136" r="2.5" fill="#595959"/>
<circle cx="1074" cy="243.5" r="2.5" fill="#595959"/>
<circle cx="594.2" cy="281.8" r="2.5" fill="#595959"/>
<circle cx="422.5" cy="516" r="2.5" fill="#595959"/>
<circle cx="272" cy="372" r="2.5" fill="#595959"/>
<text x="138" y="207.6" font-size="12" fill="#6B6B6B" text-anchor="middle">EOS</text>
<text x="102" y="224.6" font-size="12" fill="#6B6B6B" text-anchor="middle">BTC</text>
<text x="177.5" y="218.8" font-size="12" fill="#6B6B6B" text-anchor="middle">LINK</text>
<text x="214.4" y="210.3" font-size="12" fill="#6B6B6B" text-anchor="middle">XTO</text>
<text x="135" y="240.8" font-size="12" fill="#6B6B6B" text-anchor="middle">ETC</text>
<text x="181" y="239.3" font-size="12" fill="#6B6B6B" text-anchor="middle">PLR</text>
<text x="225.7" y="234.3" font-size="12" fill="#6B6B6B" text-anchor="middle">YAC</text>
<text x="101" y="254" font-size="12" fill="#6B6B6B" text-anchor="middle">ETH</text>
<text x="225.7" y="257.1" font-size="12" fill="#6B6B6B" text-anchor="middle">LTCU</text>
<text x="123.7" y="276.7" font-size="12" fill="#6B6B6B" text-anchor="middle">PPC</text>
<text x="181.8" y="277.5" font-size="12" fill="#6B6B6B" text-anchor="middle">ZSC</text>
<text x="232.8" y="283.3" font-size="12" fill="#6B6B6B" text-anchor="middle">XST</text>
<text x="101" y="300.3" font-size="12" fill="#6B6B6B" text-anchor="middle">HSR</text>
<text x="144" y="300.3" font-size="12" fill="#6B6B6B" text-anchor="middle">SWT</text>
<text x="198" y="301" font-size="12" fill="#6B6B6B" text-anchor="middle">ICX</text>
<text x="234" y="306.7" font-size="12" fill="#6B6B6B" text-anchor="middle">ZNE</text>
<text x="106.7" y="322.3" font-size="12" fill="#6B6B6B" text-anchor="middle">NGC</text>
<text x="165.4" y="322.9" font-size="12" fill="#6B6B6B" text-anchor="middle">AIR</text>
<text x="254" y="388" font-size="12" fill="#6B6B6B" text-anchor="middle">NBT</text>
<text x="324" y="67.3" font-size="12" fill="#6B6B6B" text-anchor="middle">XMO</text>
<text x="677.5" y="150.8" font-size="12" fill="#6B6B6B" text-anchor="middle">XIN*</text>
<text x="1051" y="260.8" font-size="12" fill="#6B6B6B" text-anchor="middle">AMIS</text>
<text x="571.5" y="298.3" font-size="12" fill="#6B6B6B" text-anchor="middle">LBTC</text>
<text x="403" y="530.8" font-size="12" fill="#6B6B6B" text-anchor="middle">RIPT</text>
</g>
<g transform="translate(0,1356)">
<circle cx="159" cy="260" r="5.5" fill="#F8766D"/>
<path d="M166.6 198.9L170.6 205.4L162.5 205.4Z" fill="#00BA38"/>
<rect x="154.8" y="300.7" width="5.8" height="5.8" fill="#619CFF"/>
<rect x="167.9" y="248.3" width="5.8" height="5.8" fill="#619CFF"/>
<rect x="158.6" y="243.4" width="5.8" height="5.8" fill="#619CFF"/>
<path d="M317.5 242.5L321.5 249L313.5 249Z" fill="#00BA38"/>
<rect x="155.2" y="244.5" width="5.8" height="5.8" fill="#619CFF"/>
<rect x="216.3" y="313" width="5.8" height="5.8" fill="#619CFF"/>
<rect x="223.1" y="346.5" width="5.8" height="5.8" fill="#619CFF"/>
<rect x="250.1" y="256.6" width="5.8" height="5.8" fill="#619CFF"/>
<rect x="157.6" y="263.4" width="5.8" height="5.8" fill="#619CFF"/>
<rect x="172.1" y="241.3" width="5.8" height="5.8" fill="#619CFF"/>
<circle cx="172" cy="276.6" r="3" fill="#F8766D"/>
<rect x="143.8" y="251.2" width="5.8" height="5.8" fill="#619CFF"/>
<rect x="156.9" y="256" width="5.8" height="5.8" fill="#619CFF"/>
<rect x="180.1" y="269" width="5.8" height="5.8" fill="#619CFF"/>
<path d="M161.2 273.4L165.3 280L157.2 280Z" fill="#00BA38"/>
<path d="M208.3 202.2L212.3 208.7L204.3 208.7Z" fill="#00BA38"/>
<path d="M167.3 251.7L171.4 258.2L163.3 258.2Z" fill="#00BA38"/>
<path d="M281.5 259.9L285.5 266.5L277.5 266.5Z" fill="#00BA38"/>
<rect x="195.8" y="266.3" width="5.8" height="5.8" fill="#619CFF"/>
<rect x="224.4" y="260.6" width="5.8" height="5.8" fill="#619CFF"/>
<rect x="213.8" y="294.4" width="5.8" height="5.8" fill="#619CFF"/>
<rect x="201.2" y="259.6" width="5.8" height="5.8" fill="#619CFF"/>
<path d="M175.9 221.1L180 227.6L171.9 227.6Z" fill="#00BA38"/>
<path d="M150.2 260.4L154.2 266.9L146.1 266.9Z" fill="#00BA38"/>
<rect x="161.9" y="245.9" width="5.8" height="5.8" fill="#619CFF"/>
<path d="M147.5 258.1L151.6 264.6L143.5 264.6Z" fill="#00BA38"/>
<path d="M139.4 252.4L143.5 258.9L135.4 258.9Z" fill="#00BA38"/>
<path d="M218.7 204.3L222.7 210.9L214.7 210.9Z" fill="#00BA38"/>
<rect x="136.7" y="238.7" width="5.8" height="5.8" fill="#619CFF"/>
<rect x="203.3" y="283.1" width="5.8" height="5.8" fill="#619CFF"/>
<rect x="136.7" y="249.1" width="5.8" height="5.8" fill="#619CFF"/>
<path d="M164.4 234.4L168.4 241L160.3 241Z" fill="#00BA38"/>
<rect x="147.9" y="279" width="5.8" height="5.8" fill="#619CFF"/>
<rect x="141" y="257.2" width="5.8" height="5.8" fill="#619CFF"/>
<path d="M231.4 254.1L235.5 260.7L227.4 260.7Z" fill="#00BA38"/>
<rect x="166.7" y="263.2" width="5.8" height="5.8" fill="#619CFF"/>
<path d="M188.5 198.3L192.6 204.9L184.5 204.9Z" fill="#00BA38"/>
<path d="M166.3 248.8L170.4 255.4L162.3 255.4Z" fill="#00BA38"/>
<rect x="137.2" y="251.8" width="5.8" height="5.8" fill="#619CFF"/>
<path d="M251 216.3L255 222.9L247 222.9Z" fill="#00BA38"/>
<rect x="144.7" y="242" width="5.8" height="5.8" fill="#619CFF"/>
<rect x="149.2" y="247.7" width="5.8" height="5.8" fill="#619CFF"/>
<rect x="137.9" y="238.1" width="5.8" height="5.8" fill="#619CFF"/>
<rect x="196.3" y="218.6" width="5.8" height="5.8" fill="#619CFF"/>
<rect x="138.1" y="260.3" width="5.8" height="5.8" fill="#619CFF"/>
<path d="M185.2 305.4L189.2 312L181.1 312Z" fill="#00BA38"/>
<path d="M160.1 202.5L164.1 209L156 209Z" fill="#00BA38"/>
<rect x="203.1" y="244.2" width="5.8" height="5.8" fill="#619CFF"/>
<rect x="200.7" y="275.1" width="5.8" height="5.8" fill="#619CFF"/>
<rect x="175.9" y="275.7" width="5.8" height="5.8" fill="#619CFF"/>
<path d="M164.3 261.9L168.3 268.4L160.2 268.4Z" fill="#00BA38"/>
<rect x="191.4" y="222.5" width="5.8" height="5.8" fill="#619CFF"/>
<path d="M164.9 225.5L168.9 232L160.8 232Z" fill="#00BA38"/>
<rect x="156.3" y="285.8" width="5.8" height="5.8" fill="#619CFF"/>
<path d="M221 169.2L225 175.7L217 175.7Z" fill="#00BA38"/>
<rect x="163.3" y="253.6" width="5.8" height="5.8" fill="#619CFF"/>
<rect x="163.8" y="265.7" width="5.8" height="5.8" fill="#619CFF"/>
<rect x="153.8" y="269.4" width="5.8" height="5.8" fill="#619CFF"/>
<path d="M139.8 256.1L143.8 262.6L135.7 262.6Z" fill="#00BA38"/>
<rect x="162.4" y="263.8" width="5.8" height="5.8" fill="#619CFF"/>
<rect x="192.8" y="248.4" width="5.8" height="5.8" fill="#619CFF"/>
<rect x="141.4" y="254.6" width="5.8" height="5.8" fill="#619CFF"/>
<path d="M173.6 251.7L177.6 258.3L169.5 258.3Z" fill="#00BA38"/>
<path d="M181.7 219.1L185.8 225.6L177.7 225.6Z" fill="#00BA38"/>
<rect x="169.5" y="231.4" width="5.8" height="5.8" fill="#619CFF"/>
<rect x="185.6" y="265.4" width="5.8" height="5.8" fill="#619CFF"/>
<rect x="188.9" y="253.2" width="5.8" height="5.8" fill="#619CFF"/>
<path d="M165.3 261.3L169.3 267.8L161.2 267.8Z" fill="#00BA38"/>
<path d="M148 253.9L152 260.4L143.9 260.4Z" fill="#00BA38"/>
<path d="M215.1 238L219.1 244.5L211 244.5Z" fill="#00BA38"/>
<path d="M206.1 254.2L210.1 260.7L202 260.7Z" fill="#00BA38"/>
<rect x="160.7" y="217.4" width="5.8" height="5.8" fill="#619CFF"/>
<path d="M166.6 260.3L170.6 266.8L162.5 266.8Z" fill="#00BA38"/>
<rect x="147.7" y="287.6" width="5.8" height="5.8" fill="#619CFF"/>
<rect x="145.7" y="263.1" width="5.8" height="5.8" fill="#619CFF"/>
<rect x="165.6" y="260.7" width="5.8" height="5.8" fill="#619CFF"/>
<path d="M208 248.8L212.1 255.3L204 255.3Z" fill="#00BA38"/>
<path d="M134.1 235.5L138.1 242L130.1 242Z" fill="#00BA38"/>
<rect x="150.8" y="237.9" width="5.8" height="5.8" fill="#619CFF"/>
<rect x="139.7" y="255.4" width="5.8" height="5.8" fill="#619CFF"/>
<path d="M181.7 254L185.7 260.5L177.6 260.5Z" fill="#00BA38"/>
<rect x="142.2" y="260.9" width="5.8" height="5.8" fill="#619CFF"/>
<path d="M160.9 275.8L164.9 282.3L156.8 282.3Z" fill="#00BA38"/>
<rect x="159.6" y="258.3" width="5.8" height="5.8" fill="#619CFF"/>
<rect x="141.8" y="254.7" width="5.8" height="5.8" fill="#619CFF"/>
<rect x="146.8" y="248" width="5.8" height="5.8" fill="#619CFF"/>
<path d="M176.7 245.8L180.7 252.4L172.6 252.4Z" fill="#00BA38"/>
<rect x="169.1" y="254.7" width="5.8" height="5.8" fill="#619CFF"/>
<path d="M172.2 237L176.3 243.5L168.2 243.5Z" fill="#00BA38"/>
<rect x="138.1" y="252.5" width="5.8" height="5.8" fill="#619CFF"/>
<rect x="217.8" y="257.9" width="5.8" height="5.8" fill="#619CFF"/>
<rect x="163.5" y="247.1" width="5.8" height="5.8" fill="#619CFF"/>
<path d="M207.7 321.2L211.7 327.8L203.7 327.8Z" fill="#00BA38"/>
<rect x="140.2" y="249.2" width="5.8" height="5.8" fill="#619CFF"/>
<rect x="137.2" y="262.2" width="5.8" height="5.8" fill="#619CFF"/>
<rect x="146.4" y="262.1" width="5.8" height="5.8" fill="#619CFF"/>
<rect x="146.3" y="264.1" width="5.8" height="5.8" fill="#619CFF"/>
<rect x="175.1" y="255.6" width="5.8" height="5.8" fill="#619CFF"/>
<rect x="137.4" y="244.3" width="5.8" height="5.8" fill="#619CFF"/>
<path d="M161.8 297.6L165.9 304.2L157.8 304.2Z" fill="#00BA38"/>
<path d="M164.1 243.7L168.1 250.2L160 250.2Z" fill="#00BA38"/>
<rect x="188.3" y="218.8" width="5.8" height="5.8" fill="#619CFF"/>
<rect x="149.3" y="263" width="5.8" height="5.8" fill="#619CFF"/>
<rect x="148.5" y="217.3" width="5.8" height="5.8" fill="#619CFF"/>
<rect x="155.4" y="285.3" width="5.8" height="5.8" fill="#619CFF"/>
<rect x="167.5" y="269.1" width="5.8" height="5.8" fill="#619CFF"/>
<rect x="148.7" y="254.7" width="5.8" height="5.8" fill="#619CFF"/>
<rect x="200.7" y="259.1" width="5.8" height="5.8" fill="#619CFF"/>
<rect x="143.9" y="260.1" width="5.8" height="5.8" fill="#619CFF"/>
<rect x="151.8" y="228.7" width="5.8" height="5.8" fill="#619CFF"/>
<rect x="149.8" y="253.8" width="5.8" height="5.8" fill="#619CFF"/>
<path d="M144.2 258L148.2 264.5L140.1 264.5Z" fill="#00BA38"/>
<rect x="143.3" y="257.8" width="5.8" height="5.8" fill="#619CFF"/>
<rect x="255.1" y="264.4" width="5.8" height="5.8" fill="#619CFF"/>
<rect x="140.1" y="232.2" width="5.8" height="5.8" fill="#619CFF"/>
<rect x="142.2" y="259.2" width="5.8" height="5.8" fill="#619CFF"/>
<rect x="163" y="268" width="5.8" height="5.8" fill="#619CFF"/>
<rect x="139.8" y="263.1" width="5.8" height="5.8" fill="#619CFF"/>
<rect x="158.1" y="291.7" width="5.8" height="5.8" fill="#619CFF"/>
<rect x="201.3" y="264.9" width="5.8" height="5.8" fill="#619CFF"/>
<path d="M142.2 246L146.3 252.6L138.2 252.6Z" fill="#00BA38"/>
<rect x="169.5" y="205.6" width="5.8" height="5.8" fill="#619CFF"/>
<rect x="147.7" y="266" width="5.8" height="5.8" fill="#619CFF"/>
<path d="M185.6 204.6L189.7 211.1L181.6 211.1Z" fill="#00BA38"/>
<rect x="185.6" y="279.7" width="5.8" height="5.8" fill="#619CFF"/>
<path d="M143.5 255.3L147.5 261.9L139.4 261.9Z" fill="#00BA38"/>
<path d="M138.3 235.9L142.4 242.4L134.3 242.4Z" fill="#00BA38"/>
<rect x="171.4" y="287.3" width="5.8" height="5.8" fill="#619CFF"/>
<rect x="154.7" y="260.1" width="5.8" height="5.8" fill="#619CFF"/>
<rect x="190.1" y="235.5" width="5.8" height="5.8" fill="#619CFF"/>
<rect x="185.4" y="270.7" width="5.8" height="5.8" fill="#619CFF"/>
<rect x="239.1" y="279.4" width="5.8" height="5.8" fill="#619CFF"/>
<path d="M148.1 269.6L152.2 276.2L144.1 276.2Z" fill="#00BA38"/>
<rect x="172.4" y="264.9" width="5.8" height="5.8" fill="#619CFF"/>
<rect x="170.7" y="253.4" width="5.8" height="5.8" fill="#619CFF"/>
<rect x="170.1" y="274.9" width="5.8" height="5.8" fill="#619CFF"/>
<rect x="239.6" y="170.1" width="5.8" height="5.8" fill="#619CFF"/>
<path d="M160.5 232.4L164.5 238.9L156.4 238.9Z" fill="#00BA38"/>
<rect x="171.6" y="246.6" width="5.8" height="5.8" fill="#619CFF"/>
<rect x="176.9" y="273.8" width="5.8" height="5.8" fill="#619CFF"/>
<rect x="222" y="300.8" width="5.8" height="5.8" fill="#619CFF"/>
<path d="M219.2 271L223.2 277.6L215.1 277.6Z" fill="#00BA38"/>
<rect x="166.9" y="271.3" width="5.8" height="5.8" fill="#619CFF"/>
<rect x="202.8" y="283.3" width="5.8" height="5.8" fill="#619CFF"/>
<rect x="186.2" y="238.4" width="5.8" height="5.8" fill="#619CFF"/>
<rect x="145" y="248.3" width="5.8" height="5.8" fill="#619CFF"/>
<path d="M204 209.2L208 215.8L200 215.8Z" fill="#00BA38"/>
<rect x="245.5" y="305.5" width="5.8" height="5.8" fill="#619CFF"/>
<rect x="146.4" y="238.1" width="5.8" height="5.8" fill="#619CFF"/>
<rect x="143.8" y="252.1" width="5.8" height="5.8" fill="#619CFF"/>
<rect x="175.6" y="256.3" width="5.8" height="5.8" fill="#619CFF"/>
<path d="M221.2 238.7L225.3 245.2L217.2 245.2Z" fill="#00BA38"/>
<rect x="152.8" y="260.3" width="5.8" height="5.8" fill="#619CFF"/>
<rect x="206.4" y="264.7" width="5.8" height="5.8" fill="#619CFF"/>
<rect x="146.2" y="250.1" width="5.8" height="5.8" fill="#619CFF"/>
<rect x="168.7" y="272.1" width="5.8" height="5.8" fill="#619CFF"/>
<path d="M155 227.9L159.1 234.4L151 234.4Z" fill="#00BA38"/>
<rect x="155.9" y="265.5" width="5.8" height="5.8" fill="#619CFF"/>
<rect x="144.3" y="243.4" width="5.8" height="5.8" fill="#619CFF"/>
<path d="M181.2 225.7L185.2 232.3L177.1 232.3Z" fill="#00BA38"/>
<circle cx="145" cy="268.6" r="3" fill="#F8766D"/>
<path d="M163.6 206.4L167.7 212.9L159.6 212.9Z" fill="#00BA38"/>
<rect x="200.9" y="270.9" width="5.8" height="5.8" fill="#619CFF"/>
<rect x="139.7" y="255.6" width="5.8" height="5.8" fill="#619CFF"/>
<path d="M164 253.7L168.1 260.2L160 260.2Z" fill="#00BA38"/>
<rect x="189.3" y="232.9" width="5.8" height="5.8" fill="#619CFF"/>
<rect x="133.3" y="231.3" width="5.8" height="5.8" fill="#619CFF"/>
<rect x="171.4" y="256.6" width="5.8" height="5.8" fill="#619CFF"/>
<rect x="158.1" y="277.1" width="5.8" height="5.8" fill="#619CFF"/>
<rect x="145.8" y="257.6" width="5.8" height="5.8" fill="#619CFF"/>
<rect x="138" y="257" width="5.8" height="5.8" fill="#619CFF"/>
<path d="M145.8 216.1L149.8 222.6L141.7 222.6Z" fill="#00BA38"/>
<rect x="162.3" y="250" width="5.8" height="5.8" fill="#619CFF"/>
<path d="M177.7 257.1L181.7 263.7L173.7 263.7Z" fill="#00BA38"/>
<path d="M276.5 152.7L280.5 159.2L272.5 159.2Z" fill="#00BA38"/>
<rect x="160.7" y="244.5" width="5.8" height="5.8" fill="#619CFF"/>
<rect x="157.1" y="258.8" width="5.8" height="5.8" fill="#619CFF"/>
<path d="M351.3 286.1L355.3 292.7L347.3 292.7Z" fill="#00BA38"/>
<rect x="166" y="263.5" width="5.8" height="5.8" fill="#619CFF"/>
<rect x="158.5" y="265.8" width="5.8" height="5.8" fill="#619CFF"/>
<path d="M221.4 233.5L225.5 240.1L217.4 240.1Z" fill="#00BA38"/>
<path d="M223.3 264.1L227.3 270.6L219.2 270.6Z" fill="#00BA38"/>
<rect x="173.7" y="273.5" width="5.8" height="5.8" fill="#619CFF"/>
<rect x="165.3" y="267.9" width="5.8" height="5.8" fill="#619CFF"/>
<rect x="160.6" y="258.4" width="5.8" height="5.8" fill="#619CFF"/>
<rect x="145.4" y="250.1" width="5.8" height="5.8" fill="#619CFF"/>
<path d="M156.5 212.2L160.5 218.7L152.4 218.7Z" fill="#00BA38"/>
<rect x="149.6" y="240.8" width="5.8" height="5.8" fill="#619CFF"/>
<rect x="161.9" y="259.4" width="5.8" height="5.8" fill="#619CFF"/>
<path d="M179.1 229.5L183.2 236.1L175.1 236.1Z" fill="#00BA38"/>
<rect x="169" y="245.5" width="5.8" height="5.8" fill="#619CFF"/>
<rect x="150.3" y="238.1" width="5.8" height="5.8" fill="#619CFF"/>
<rect x="221.9" y="267.3" width="5.8" height="5.8" fill="#619CFF"/>
<rect x="144.6" y="248.7" width="5.8" height="5.8" fill="#619CFF"/>
<path d="M216.8 285.1L220.9 291.6L212.8 291.6Z" fill="#00BA38"/>
<rect x="151.1" y="249.2" width="5.8" height="5.8" fill="#619CFF"/>
<rect x="154.7" y="249.8" width="5.8" height="5.8" fill="#619CFF"/>
<path d="M148.6 251.2L152.7 257.7L144.6 257.7Z" fill="#00BA38"/>
<rect x="184.3" y="264.6" width="5.8" height="5.8" fill="#619CFF"/>
<rect x="183.4" y="271.8" width="5.8" height="5.8" fill="#619CFF"/>
<rect x="192.7" y="263.4" width="5.8" height="5.8" fill="#619CFF"/>
<rect x="137.1" y="251.2" width="5.8" height="5.8" fill="#619CFF"/>
<path d="M146.1 258.5L150.2 265.1L142.1 265.1Z" fill="#00BA38"/>
<path d="M133.7 239L137.7 245.5L129.6 245.5Z" fill="#00BA38"/>
<rect x="151.3" y="255.6" width="5.8" height="5.8" fill="#619CFF"/>
<rect x="143.9" y="248.2" width="5.8" height="5.8" fill="#619CFF"/>
<rect x="172.2" y="257.8" width="5.8" height="5.8" fill="#619CFF"/>
<path d="M174.9 238.8L178.9 245.3L170.8 245.3Z" fill="#00BA38"/>
<rect x="211.8" y="180.1" width="5.8" height="5.8" fill="#619CFF"/>
<rect x="168.1" y="309.8" width="5.8" height="5.8" fill="#619CFF"/>
<rect x="159.2" y="231" width="5.8" height="5.8" fill="#619CFF"/>
<path d="M226.7 281.6L230.7 288.2L222.7 288.2Z" fill="#00BA38"/>
<path d="M148.8 259.1L152.8 265.6L144.7 265.6Z" fill="#00BA38"/>
<path d="M154.1 246.4L158.2 252.9L150.1 252.9Z" fill="#00BA38"/>
<rect x="172.6" y="242.1" width="5.8" height="5.8" fill="#619CFF"/>
<rect x="156.8" y="252.6" width="5.8" height="5.8" fill="#619CFF"/>
<rect x="171.8" y="265.6" width="5.8" height="5.8" fill="#619CFF"/>
<rect x="160.3" y="259.1" width="5.8" height="5.8" fill="#619CFF"/>
<path d="M206.5 267.6L210.6 274.1L202.5 274.1Z" fill="#00BA38"/>
<rect x="227.4" y="279.6" width="5.8" height="5.8" fill="#619CFF"/>
<rect x="194.9" y="284.9" width="5.8" height="5.8" fill="#619CFF"/>
<path d="M208.5 232.7L212.6 239.2L204.5 239.2Z" fill="#00BA38"/>
<rect x="177.2" y="253.2" width="5.8" height="5.8" fill="#619CFF"/>
<rect x="147.9" y="253.7" width="5.8" height="5.8" fill="#619CFF"/>
<path d="M167.6 228.6L171.6 235.1L163.5 235.1Z" fill="#00BA38"/>
<path d="M151.9 254L156 260.5L147.9 260.5Z" fill="#00BA38"/>
<rect x="167.1" y="255.4" width="5.8" height="5.8" fill="#619CFF"/>
<path d="M191.7 242.9L195.8 249.4L187.7 249.4Z" fill="#00BA38"/>
<rect x="153.3" y="266.4" width="5.8" height="5.8" fill="#619CFF"/>
<rect x="214.1" y="188.4" width="5.8" height="5.8" fill="#619CFF"/>
<rect x="134.2" y="250.8" width="5.8" height="5.8" fill="#619CFF"/>
<rect x="233.4" y="318.8" width="5.8" height="5.8" fill="#619CFF"/>
<path d="M143.6 269.2L147.6 275.7L139.5 275.7Z" fill="#00BA38"/>
<rect x="143.4" y="246.7" width="5.8" height="5.8" fill="#619CFF"/>
<path d="M153.2 270.6L157.2 277.2L149.1 277.2Z" fill="#00BA38"/>
<rect x="143.8" y="259.4" width="5.8" height="5.8" fill="#619CFF"/>
<rect x="157.7" y="255" width="5.8" height="5.8" fill="#619CFF"/>
<rect x="166.5" y="259.3" width="5.8" height="5.8" fill="#619CFF"/>
<rect x="140.9" y="254.9" width="5.8" height="5.8" fill="#619CFF"/>
<rect x="235.1" y="293.1" width="5.8" height="5.8" fill="#619CFF"/>
<path d="M199.6 253.1L203.6 259.6L195.5 259.6Z" fill="#00BA38"/>
<path d="M140.3 258L144.3 264.5L136.2 264.5Z" fill="#00BA38"/>
<rect x="150" y="255.3" width="5.8" height="5.8" fill="#619CFF"/>
<path d="M221 253L225 259.5L216.9 259.5Z" fill="#00BA38"/>
<rect x="162.9" y="277.4" width="5.8" height="5.8" fill="#619CFF"/>
<path d="M197.2 322L201.2 328.6L193.2 328.6Z" fill="#00BA38"/>
<path d="M185.5 331.6L189.5 338.2L181.5 338.2Z" fill="#00BA38"/>
<rect x="144" y="257.4" width="5.8" height="5.8" fill="#619CFF"/>
<rect x="149.4" y="272.5" width="5.8" height="5.8" fill="#619CFF"/>
<rect x="143.3" y="254.4" width="5.8" height="5.8" fill="#619CFF"/>
<rect x="175.6" y="281" width="5.8" height="5.8" fill="#619CFF"/>
<rect x="297.4" y="260" width="5.8" height="5.8" fill="#619CFF"/>
<path d="M143.1 240.9L147.1 247.5L139 247.5Z" fill="#00BA38"/>
<path d="M204.1 265.1L208.2 271.6L200.1 271.6Z" fill="#00BA38"/>
<rect x="166" y="252.2" width="5.8" height="5.8" fill="#619CFF"/>
<rect x="155.7" y="252.2" width="5.8" height="5.8" fill="#619CFF"/>
<rect x="150.2" y="252" width="5.8" height="5.8" fill="#619CFF"/>
<rect x="203.1" y="191.8" width="5.8" height="5.8" fill="#619CFF"/>
<rect x="142.3" y="253.9" width="5.8" height="5.8" fill="#619CFF"/>
<rect x="206.6" y="253.9" width="5.8" height="5.8" fill="#619CFF"/>
<rect x="152.9" y="263.1" width="5.8" height="5.8" fill="#619CFF"/>
<rect x="152.4" y="272.7" width="5.8" height="5.8" fill="#619CFF"/>
<rect x="189.2" y="260.3" width="5.8" height="5.8" fill="#619CFF"/>
<rect x="135.7" y="247.5" width="5.8" height="5.8" fill="#619CFF"/>
<path d="M164.3 219.4L168.3 225.9L160.2 225.9Z" fill="#00BA38"/>
<rect x="153.8" y="266.2" width="5.8" height="5.8" fill="#619CFF"/>
<rect x="225.4" y="227.8" width="5.8" height="5.8" fill="#619CFF"/>
<path d="M190 337.6L194 344.2L186 344.2Z" fill="#00BA38"/>
<rect x="152.9" y="250" width="5.8" height="5.8" fill="#619CFF"/>
<rect x="168.1" y="277.8" width="5.8" height="5.8" fill="#619CFF"/>
<path d="M178.9 318.1L183 324.6L174.9 324.6Z" fill="#00BA38"/>
<path d="M152.1 246.8L156.1 253.3L148 253.3Z" fill="#00BA38"/>
<path d="M196.5 255.5L200.5 262.1L192.4 262.1Z" fill="#00BA38"/>
<rect x="179.1" y="267.2" width="5.8" height="5.8" fill="#619CFF"/>
<rect x="144.1" y="245.6" width="5.8" height="5.8" fill="#619CFF"/>
<path d="M193.7 318.3L197.7 324.9L189.7 324.9Z" fill="#00BA38"/>
<path d="M162.2 266L166.2 272.5L158.1 272.5Z" fill="#00BA38"/>
<path d="M175.2 249.2L179.3 255.7L171.2 255.7Z" fill="#00BA38"/>
<rect x="143.9" y="257.7" width="5.8" height="5.8" fill="#619CFF"/>
<rect x="175.2" y="278.2" width="5.8" height="5.8" fill="#619CFF"/>
<rect x="148.8" y="264.3" width="5.8" height="5.8" fill="#619CFF"/>
<rect x="189.8" y="306.4" width="5.8" height="5.8" fill="#619CFF"/>
<rect x="155" y="266.4" width="5.8" height="5.8" fill="#619CFF"/>
<path d="M233.2 308.8L237.3 315.3L229.2 315.3Z" fill="#00BA38"/>
<rect x="142.2" y="256.4" width="5.8" height="5.8" fill="#619CFF"/>
<path d="M263.2 228.3L267.2 234.9L259.2 234.9Z" fill="#00BA38"/>
<path d="M188.5 215.2L192.6 221.8L184.5 221.8Z" fill="#00BA38"/>
<rect x="145.7" y="275.9" width="5.8" height="5.8" fill="#619CFF"/>
<rect x="138.5" y="251.6" width="5.8" height="5.8" fill="#619CFF"/>
<rect x="194" y="256.8" width="5.8" height="5.8" fill="#619CFF"/>
<rect x="148.6" y="237.3" width="5.8" height="5.8" fill="#619CFF"/>
<rect x="169.5" y="198.6" width="5.8" height="5.8" fill="#619CFF"/>
<rect x="173.1" y="228.6" width="5.8" height="5.8" fill="#619CFF"/>
<rect x="267.1" y="260.8" width="5.8" height="5.8" fill="#619CFF"/>
<rect x="148.7" y="245.9" width="5.8" height="5.8" fill="#619CFF"/>
<path d="M166.1 282.5L170.1 289.1L162 289.1Z" fill="#00BA38"/>
<rect x="172.4" y="239.1" width="5.8" height="5.8" fill="#619CFF"/>
<path d="M138.7 251.5L142.7 258L134.7 258Z" fill="#00BA38"/>
<rect x="192" y="255.4" width="5.8" height="5.8" fill="#619CFF"/>
<path d="M172.3 251.7L176.3 258.2L168.2 258.2Z" fill="#00BA38"/>
<path d="M223.7 280.3L227.7 286.9L219.6 286.9Z" fill="#00BA38"/>
<rect x="159.3" y="239.4" width="5.8" height="5.8" fill="#619CFF"/>
<path d="M166.4 271.3L170.4 277.9L162.3 277.9Z" fill="#00BA38"/>
<rect x="151.7" y="261" width="5.8" height="5.8" fill="#619CFF"/>
<path d="M184.2 218.8L188.2 225.3L180.1 225.3Z" fill="#00BA38"/>
<path d="M166.5 252.6L170.6 259.1L162.5 259.1Z" fill="#00BA38"/>
<rect x="136.7" y="250.5" width="5.8" height="5.8" fill="#619CFF"/>
<rect x="136.8" y="244" width="5.8" height="5.8" fill="#619CFF"/>
<path d="M167 227.2L171 233.8L162.9 233.8Z" fill="#00BA38"/>
<path d="M346 46.6L350 53.2L342 53.2Z" fill="#00BA38"/>
<path d="M453.5 242L457.5 248.5L449.5 248.5Z" fill="#00BA38"/>
<rect x="152.5" y="271.8" width="5.8" height="5.8" fill="#619CFF"/>
<rect x="153.1" y="248.8" width="5.8" height="5.8" fill="#619CFF"/>
<path d="M170.5 245.7L174.5 252.2L166.4 252.2Z" fill="#00BA38"/>
<rect x="132.3" y="242.6" width="5.8" height="5.8" fill="#619CFF"/>
<rect x="238.9" y="322.5" width="5.8" height="5.8" fill="#619CFF"/>
<path d="M154.6 259.8L158.7 266.3L150.6 266.3Z" fill="#00BA38"/>
<path d="M164 259.6L168 266.1L159.9 266.1Z" fill="#00BA38"/>
<rect x="166.9" y="262.5" width="5.8" height="5.8" fill="#619CFF"/>
<path d="M165.2 266.9L169.3 273.4L161.2 273.4Z" fill="#00BA38"/>
<path d="M169.5 281.7L173.6 288.2L165.5 288.2Z" fill="#00BA38"/>
<path d="M165.2 275.8L169.2 282.3L161.1 282.3Z" fill="#00BA38"/>
<rect x="175.1" y="248.3" width="5.8" height="5.8" fill="#619CFF"/>
<rect x="148" y="259.5" width="5.8" height="5.8" fill="#619CFF"/>
<rect x="176.5" y="248.7" width="5.8" height="5.8" fill="#619CFF"/>
<rect x="185.7" y="245.6" width="5.8" height="5.8" fill="#619CFF"/>
<rect x="151.9" y="248.5" width="5.8" height="5.8" fill="#619CFF"/>
<rect x="149.1" y="259.5" width="5.8" height="5.8" fill="#619CFF"/>
<rect x="165.6" y="284.3" width="5.8" height="5.8" fill="#619CFF"/>
<rect x="140.9" y="262.8" width="5.8" height="5.8" fill="#619CFF"/>
<path d="M216.6 266.4L220.6 272.9L212.5 272.9Z" fill="#00BA38"/>
<rect x="164.8" y="265.2" width="5.8" height="5.8" fill="#619CFF"/>
<rect x="147.3" y="251.8" width="5.8" height="5.8" fill="#619CFF"/>
<rect x="182.6" y="261.9" width="5.8" height="5.8" fill="#619CFF"/>
<rect x="396.6" y="257.6" width="5.8" height="5.8" fill="#619CFF"/>
<rect x="210.5" y="252.8" width="5.8" height="5.8" fill="#619CFF"/>
<rect x="163.6" y="256.1" width="5.8" height="5.8" fill="#619CFF"/>
<rect x="162" y="259.8" width="5.8" height="5.8" fill="#619CFF"/>
<path d="M153.5 262.4L157.6 268.9L149.5 268.9Z" fill="#00BA38"/>
<path d="M160.7 214.2L164.7 220.7L156.6 220.7Z" fill="#00BA38"/>
<rect x="159.9" y="287.1" width="5.8" height="5.8" fill="#619CFF"/>
<rect x="164.8" y="268.3" width="5.8" height="5.8" fill="#619CFF"/>
<path d="M162.5 201.3L166.6 207.8L158.5 207.8Z" fill="#00BA38"/>
<rect x="242.1" y="296.1" width="5.8" height="5.8" fill="#619CFF"/>
<rect x="149" y="252.5" width="5.8" height="5.8" fill="#619CFF"/>
<rect x="190.2" y="205.9" width="5.8" height="5.8" fill="#619CFF"/>
<path d="M368 273.1L372 279.7L364 279.7Z" fill="#00BA38"/>
<path d="M170.6 265.8L174.7 272.4L166.6 272.4Z" fill="#00BA38"/>
<rect x="209.3" y="267.4" width="5.8" height="5.8" fill="#619CFF"/>
<path d="M224.2 266.4L228.2 273L220.1 273Z" fill="#00BA38"/>
<rect x="164" y="279" width="5.8" height="5.8" fill="#619CFF"/>
<rect x="169.2" y="254.2" width="5.8" height="5.8" fill="#619CFF"/>
<path d="M334.3 258.6L338.3 265.2L330.3 265.2Z" fill="#00BA38"/>
<rect x="149.1" y="278.6" width="5.8" height="5.8" fill="#619CFF"/>
<path d="M169.1 251.9L173.2 258.4L165.1 258.4Z" fill="#00BA38"/>
<rect x="142.8" y="256.6" width="5.8" height="5.8" fill="#619CFF"/>
<path d="M189.3 266.6L193.4 273.1L185.3 273.1Z" fill="#00BA38"/>
<rect x="195.5" y="265.8" width="5.8" height="5.8" fill="#619CFF"/>
<rect x="152.1" y="261.8" width="5.8" height="5.8" fill="#619CFF"/>
<rect x="137.1" y="249.8" width="5.8" height="5.8" fill="#619CFF"/>
<path d="M153.1 233.5L157.1 240L149 240Z" fill="#00BA38"/>
<rect x="154.5" y="258.3" width="5.8" height="5.8" fill="#619CFF"/>
<rect x="159.5" y="248.9" width="5.8" height="5.8" fill="#619CFF"/>
<path d="M135 232.6L139 239.1L130.9 239.1Z" fill="#00BA38"/>
<rect x="139.6" y="265" width="5.8" height="5.8" fill="#619CFF"/>
<rect x="171" y="273.1" width="5.8" height="5.8" fill="#619CFF"/>
<rect x="162" y="233.6" width="5.8" height="5.8" fill="#619CFF"/>
<rect x="151.5" y="236.6" width="5.8" height="5.8" fill="#619CFF"/>
<rect x="191.2" y="254.1" width="5.8" height="5.8" fill="#619CFF"/>
<rect x="166.7" y="266.6" width="5.8" height="5.8" fill="#619CFF"/>
<rect x="155.9" y="262.2" width="5.8" height="5.8" fill="#619CFF"/>
<rect x="270.8" y="242.8" width="5.8" height="5.8" fill="#619CFF"/>
<path d="M143.5 242L147.5 248.5L139.4 248.5Z" fill="#00BA38"/>
<rect x="160.3" y="262.8" width="5.8" height="5.8" fill="#619CFF"/>
<rect x="155.6" y="256.5" width="5.8" height="5.8" fill="#619CFF"/>
<path d="M136.9 245.7L141 252.2L132.9 252.2Z" fill="#00BA38"/>
<path d="M145.7 222L149.8 228.6L141.7 228.6Z" fill="#00BA38"/>
<path d="M205.6 181.6L209.6 188.1L201.5 188.1Z" fill="#00BA38"/>
<path d="M412.3 253.8L416.3 260.4L408.3 260.4Z" fill="#00BA38"/>
<rect x="134.1" y="248.8" width="5.8" height="5.8" fill="#619CFF"/>
<rect x="137.2" y="260.8" width="5.8" height="5.8" fill="#619CFF"/>
<rect x="192.4" y="279.7" width="5.8" height="5.8" fill="#619CFF"/>
<rect x="151" y="259.1" width="5.8" height="5.8" fill="#619CFF"/>
<rect x="173.8" y="238.4" width="5.8" height="5.8" fill="#619CFF"/>
<rect x="160.6" y="263.6" width="5.8" height="5.8" fill="#619CFF"/>
<rect x="153.6" y="254" width="5.8" height="5.8" fill="#619CFF"/>
<rect x="164.1" y="283.6" width="5.8" height="5.8" fill="#619CFF"/>
<path d="M149.5 233.5L153.6 240L145.5 240Z" fill="#00BA38"/>
<path d="M143.4 247.6L147.5 254.1L139.4 254.1Z" fill="#00BA38"/>
<path d="M158.4 262.6L162.4 269.1L154.3 269.1Z" fill="#00BA38"/>
<rect x="152.6" y="260.9" width="5.8" height="5.8" fill="#619CFF"/>
<rect x="162" y="253.2" width="5.8" height="5.8" fill="#619CFF"/>
<rect x="176.6" y="257.7" width="5.8" height="5.8" fill="#619CFF"/>
<rect x="145.5" y="266.2" width="5.8" height="5.8" fill="#619CFF"/>
<rect x="183.1" y="287.6" width="5.8" height="5.8" fill="#619CFF"/>
<path d="M143.1 231.6L147.1 238.2L139.1 238.2Z" fill="#00BA38"/>
<rect x="160.6" y="234.8" width="5.8" height="5.8" fill="#619CFF"/>
<path d="M211.5 281.5L215.6 288L207.5 288Z" fill="#00BA38"/>
<rect x="180.6" y="258.5" width="5.8" height="5.8" fill="#619CFF"/>
<circle cx="210" cy="274.3" r="3" fill="#F8766D"/>
<rect x="141.2" y="261" width="5.8" height="5.8" fill="#619CFF"/>
<rect x="165.4" y="253.2" width="5.8" height="5.8" fill="#619CFF"/>
<path d="M166.1 254.3L170.2 260.9L162.1 260.9Z" fill="#00BA38"/>
<rect x="204.3" y="261.9" width="5.8" height="5.8" fill="#619CFF"/>
<path d="M166.6 221.2L170.7 227.7L162.6 227.7Z" fill="#00BA38"/>
<rect x="216.3" y="257.1" width="5.8" height="5.8" fill="#619CFF"/>
<rect x="165.7" y="222.8" width="5.8" height="5.8" fill="#619CFF"/>
<rect x="151.8" y="241.1" width="5.8" height="5.8" fill="#619CFF"/>
<rect x="138.8" y="252.2" width="5.8" height="5.8" fill="#619CFF"/>
<path d="M148 248.6L152.1 255.2L144 255.2Z" fill="#00BA38"/>
<rect x="170.2" y="255.5" width="5.8" height="5.8" fill="#619CFF"/>
<rect x="148.4" y="279.5" width="5.8" height="5.8" fill="#619CFF"/>
<path d="M153.5 247L157.6 253.5L149.5 253.5Z" fill="#00BA38"/>
<rect x="195.8" y="253.1" width="5.8" height="5.8" fill="#619CFF"/>
<path d="M169.7 259.2L173.7 265.8L165.6 265.8Z" fill="#00BA38"/>
<rect x="145.6" y="259.8" width="5.8" height="5.8" fill="#619CFF"/>
<rect x="220.4" y="333.8" width="5.8" height="5.8" fill="#619CFF"/>
<path d="M225 178.2L229 184.7L221 184.7Z" fill="#00BA38"/>
<rect x="151.4" y="262.5" width="5.8" height="5.8" fill="#619CFF"/>
<path d="M143.8 247.6L147.9 254.1L139.8 254.1Z" fill="#00BA38"/>
<rect x="161.9" y="267" width="5.8" height="5.8" fill="#619CFF"/>
<path d="M144.9 251.2L148.9 257.8L140.8 257.8Z" fill="#00BA38"/>
<rect x="145.9" y="262.2" width="5.8" height="5.8" fill="#619CFF"/>
<path d="M139.9 258.1L143.9 264.6L135.9 264.6Z" fill="#00BA38"/>
<rect x="205.6" y="266.4" width="5.8" height="5.8" fill="#619CFF"/>
<rect x="143.7" y="260.6" width="5.8" height="5.8" fill="#619CFF"/>
<rect x="145.3" y="252.9" width="5.8" height="5.8" fill="#619CFF"/>
<rect x="206.2" y="301.3" width="5.8" height="5.8" fill="#619CFF"/>
<rect x="219.2" y="268.3" width="5.8" height="5.8" fill="#619CFF"/>
<rect x="138.9" y="246" width="5.8" height="5.8" fill="#619CFF"/>
<path d="M226 180.2L230 186.7L222 186.7Z" fill="#00BA38"/>
<rect x="215.3" y="256.5" width="5.8" height="5.8" fill="#619CFF"/>
<rect x="151.5" y="282.6" width="5.8" height="5.8" fill="#619CFF"/>
<rect x="224.7" y="299.2" width="5.8" height="5.8" fill="#619CFF"/>
<path d="M144.5 253.1L148.6 259.6L140.5 259.6Z" fill="#00BA38"/>
<path d="M154.5 263L158.6 269.6L150.5 269.6Z" fill="#00BA38"/>
<path d="M248.5 251.7L252.6 258.2L244.5 258.2Z" fill="#00BA38"/>
<path d="M196.8 178.8L200.8 185.4L192.7 185.4Z" fill="#00BA38"/>
<rect x="155.1" y="254.7" width="5.8" height="5.8" fill="#619CFF"/>
<path d="M233 252.3L237 258.8L228.9 258.8Z" fill="#00BA38"/>
<rect x="149.3" y="228" width="5.8" height="5.8" fill="#619CFF"/>
<rect x="200.1" y="257.8" width="5.8" height="5.8" fill="#619CFF"/>
<rect x="180.4" y="261.2" width="5.8" height="5.8" fill="#619CFF"/>
<rect x="188.2" y="297.3" width="5.8" height="5.8" fill="#619CFF"/>
<rect x="138.2" y="260.1" width="5.8" height="5.8" fill="#619CFF"/>
<rect x="202.5" y="249" width="5.8" height="5.8" fill="#619CFF"/>
<rect x="150" y="286.9" width="5.8" height="5.8" fill="#619CFF"/>
<rect x="269.1" y="369.1" width="5.8" height="5.8" fill="#619CFF"/>
<rect x="202.4" y="282.8" width="5.8" height="5.8" fill="#619CFF"/>
<path d="M164.1 252.6L168.2 259.1L160.1 259.1Z" fill="#00BA38"/>
<rect x="208" y="257.1" width="5.8" height="5.8" fill="#619CFF"/>
<rect x="177.7" y="238.1" width="5.8" height="5.8" fill="#619CFF"/>
<rect x="162.9" y="270.4" width="5.8" height="5.8" fill="#619CFF"/>
<path d="M130.4 234.4L134.4 240.9L126.4 240.9Z" fill="#00BA38"/>
<rect x="156" y="263.7" width="5.8" height="5.8" fill="#619CFF"/>
<path d="M163.7 285.8L167.7 292.3L159.6 292.3Z" fill="#00BA38"/>
<rect x="180" y="276.6" width="5.8" height="5.8" fill="#619CFF"/>
<rect x="188" y="234.9" width="5.8" height="5.8" fill="#619CFF"/>
<rect x="151.2" y="278.2" width="5.8" height="5.8" fill="#619CFF"/>
<rect x="255.8" y="361.1" width="5.8" height="5.8" fill="#619CFF"/>
<rect x="146.6" y="249.4" width="5.8" height="5.8" fill="#619CFF"/>
<rect x="142.3" y="269.6" width="5.8" height="5.8" fill="#619CFF"/>
<rect x="154.1" y="251.6" width="5.8" height="5.8" fill="#619CFF"/>
<path d="M142.4 253.9L146.5 260.4L138.4 260.4Z" fill="#00BA38"/>
<rect x="171.2" y="272.3" width="5.8" height="5.8" fill="#619CFF"/>
<rect x="172.9" y="274.1" width="5.8" height="5.8" fill="#619CFF"/>
<rect x="191.5" y="274.1" width="5.8" height="5.8" fill="#619CFF"/>
<rect x="167.1" y="266.9" width="5.8" height="5.8" fill="#619CFF"/>
<rect x="164.4" y="258.5" width="5.8" height="5.8" fill="#619CFF"/>
<rect x="148.7" y="247.7" width="5.8" height="5.8" fill="#619CFF"/>
<rect x="374.4" y="274.8" width="5.8" height="5.8" fill="#619CFF"/>
<rect x="156.6" y="267" width="5.8" height="5.8" fill="#619CFF"/>
<path d="M137.8 243L141.9 249.6L133.8 249.6Z" fill="#00BA38"/>
<rect x="248.9" y="174.1" width="5.8" height="5.8" fill="#619CFF"/>
<rect x="203.1" y="292.4" width="5.8" height="5.8" fill="#619CFF"/>
<path d="M156.4 227.2L160.4 233.8L152.3 233.8Z" fill="#00BA38"/>
<path d="M142.5 259.7L146.5 266.3L138.4 266.3Z" fill="#00BA38"/>
<rect x="147.4" y="223.1" width="5.8" height="5.8" fill="#619CFF"/>
<rect x="133.9" y="245.1" width="5.8" height="5.8" fill="#619CFF"/>
<rect x="147.4" y="246.2" width="5.8" height="5.8" fill="#619CFF"/>
<path d="M219.2 212.6L223.3 219.1L215.2 219.1Z" fill="#00BA38"/>
<rect x="160.2" y="251.8" width="5.8" height="5.8" fill="#619CFF"/>
<path d="M149.8 245.7L153.8 252.3L145.7 252.3Z" fill="#00BA38"/>
<path d="M151.2 257L155.2 263.5L147.1 263.5Z" fill="#00BA38"/>
<rect x="183.1" y="309.8" width="5.8" height="5.8" fill="#619CFF"/>
<rect x="693.1" y="133.1" width="5.8" height="5.8" fill="#619CFF"/>
<path d="M201.9 263.3L206 269.8L197.9 269.8Z" fill="#00BA38"/>
<path d="M138.6 233.5L142.6 240L134.5 240Z" fill="#00BA38"/>
<path d="M143.9 247.5L148 254L139.9 254Z" fill="#00BA38"/>
<rect x="154.2" y="286.9" width="5.8" height="5.8" fill="#619CFF"/>
<rect x="154.3" y="268.1" width="5.8" height="5.8" fill="#619CFF"/>
<rect x="192.1" y="255.1" width="5.8" height="5.8" fill="#619CFF"/>
<rect x="195.3" y="241.1" width="5.8" height="5.8" fill="#619CFF"/>
<path d="M146.9 260.1L150.9 266.7L142.9 266.7Z" fill="#00BA38"/>
<rect x="148" y="261.6" width="5.8" height="5.8" fill="#619CFF"/>
<path d="M242.3 313.5L246.3 320L238.2 320Z" fill="#00BA38"/>
<path d="M220.5 260.2L224.5 266.7L216.4 266.7Z" fill="#00BA38"/>
<rect x="152.1" y="271.1" width="5.8" height="5.8" fill="#619CFF"/>
<rect x="180.1" y="249" width="5.8" height="5.8" fill="#619CFF"/>
<path d="M492.8 264.9L496.8 271.5L488.8 271.5Z" fill="#00BA38"/>
<path d="M171.1 257.7L175.1 264.3L167.1 264.3Z" fill="#00BA38"/>
<rect x="142.8" y="262" width="5.8" height="5.8" fill="#619CFF"/>
<path d="M571.8 273.2L575.8 279.8L567.8 279.8Z" fill="#00BA38"/>
<path d="M147.9 257.6L151.9 264.1L143.8 264.1Z" fill="#00BA38"/>
<rect x="154.5" y="242.1" width="5.8" height="5.8" fill="#619CFF"/>
<path d="M711.5 224.7L715.5 231.2L707.5 231.2Z" fill="#00BA38"/>
<rect x="144" y="250.2" width="5.8" height="5.8" fill="#619CFF"/>
<rect x="180.3" y="248.5" width="5.8" height="5.8" fill="#619CFF"/>
<rect x="152.7" y="241.2" width="5.8" height="5.8" fill="#619CFF"/>
<rect x="146" y="238" width="5.8" height="5.8" fill="#619CFF"/>
<path d="M188.3 256.4L192.4 262.9L184.3 262.9Z" fill="#00BA38"/>
<rect x="151.8" y="273" width="5.8" height="5.8" fill="#619CFF"/>
<rect x="175.8" y="260.9" width="5.8" height="5.8" fill="#619CFF"/>
<path d="M293.2 254.5L297.2 261L289.2 261Z" fill="#00BA38"/>
<path d="M142.6 239.4L146.6 245.9L138.5 245.9Z" fill="#00BA38"/>
<rect x="153.5" y="223.1" width="5.8" height="5.8" fill="#619CFF"/>
<rect x="166.7" y="256.7" width="5.8" height="5.8" fill="#619CFF"/>
<rect x="137.9" y="242.5" width="5.8" height="5.8" fill="#619CFF"/>
<rect x="152.7" y="270.9" width="5.8" height="5.8" fill="#619CFF"/>
<rect x="133.4" y="243.5" width="5.8" height="5.8" fill="#619CFF"/>
<path d="M213.8 272.5L217.9 279L209.8 279Z" fill="#00BA38"/>
<path d="M137.1 226.3L141.1 232.8L133.1 232.8Z" fill="#00BA38"/>
<rect x="203.4" y="248.1" width="5.8" height="5.8" fill="#619CFF"/>
<rect x="204.2" y="247.5" width="5.8" height="5.8" fill="#619CFF"/>
<path d="M143.9 240L147.9 246.5L139.8 246.5Z" fill="#00BA38"/>
<path d="M170.9 253.2L174.9 259.7L166.8 259.7Z" fill="#00BA38"/>
<rect x="173.4" y="252.8" width="5.8" height="5.8" fill="#619CFF"/>
<rect x="160.5" y="311.7" width="5.8" height="5.8" fill="#619CFF"/>
<rect x="140.2" y="263.1" width="5.8" height="5.8" fill="#619CFF"/>
<path d="M179.1 267.5L183.1 274L175 274Z" fill="#00BA38"/>
<rect x="211.5" y="256.6" width="5.8" height="5.8" fill="#619CFF"/>
<rect x="148.7" y="257" width="5.8" height="5.8" fill="#619CFF"/>
<rect x="173.6" y="252.4" width="5.8" height="5.8" fill="#619CFF"/>
<rect x="146.1" y="212.4" width="5.8" height="5.8" fill="#619CFF"/>
<rect x="145.6" y="250.3" width="5.8" height="5.8" fill="#619CFF"/>
<rect x="141.9" y="256.5" width="5.8" height="5.8" fill="#619CFF"/>
<rect x="165.3" y="260.2" width="5.8" height="5.8" fill="#619CFF"/>
<rect x="177.9" y="258.1" width="5.8" height="5.8" fill="#619CFF"/>
<rect x="194.8" y="251.8" width="5.8" height="5.8" fill="#619CFF"/>
<rect x="193.4" y="258.6" width="5.8" height="5.8" fill="#619CFF"/>
<path d="M149.9 257L153.9 263.5L145.8 263.5Z" fill="#00BA38"/>
<rect x="193.2" y="251.2" width="5.8" height="5.8" fill="#619CFF"/>
<rect x="144.7" y="250.3" width="5.8" height="5.8" fill="#619CFF"/>
<path d="M206.6 285.8L210.6 292.4L202.5 292.4Z" fill="#00BA38"/>
<rect x="133.4" y="227.4" width="5.8" height="5.8" fill="#619CFF"/>
<rect x="154.6" y="240.8" width="5.8" height="5.8" fill="#619CFF"/>
<rect x="138.9" y="229.8" width="5.8" height="5.8" fill="#619CFF"/>
<rect x="150.6" y="250.7" width="5.8" height="5.8" fill="#619CFF"/>
<rect x="139.7" y="268" width="5.8" height="5.8" fill="#619CFF"/>
<rect x="147.3" y="252.6" width="5.8" height="5.8" fill="#619CFF"/>
<rect x="245.4" y="196.8" width="5.8" height="5.8" fill="#619CFF"/>
<rect x="196.1" y="287.7" width="5.8" height="5.8" fill="#619CFF"/>
<rect x="138.2" y="254.2" width="5.8" height="5.8" fill="#619CFF"/>
<rect x="168.1" y="256.5" width="5.8" height="5.8" fill="#619CFF"/>
<rect x="170.6" y="266" width="5.8" height="5.8" fill="#619CFF"/>
<rect x="191.3" y="244.5" width="5.8" height="5.8" fill="#619CFF"/>
<rect x="185.5" y="259.6" width="5.8" height="5.8" fill="#619CFF"/>
<rect x="166.7" y="265.1" width="5.8" height="5.8" fill="#619CFF"/>
<path d="M191.3 247.1L195.4 253.7L187.3 253.7Z" fill="#00BA38"/>
<rect x="159.8" y="262.8" width="5.8" height="5.8" fill="#619CFF"/>
<rect x="142.3" y="251.4" width="5.8" height="5.8" fill="#619CFF"/>
<rect x="153.6" y="263.4" width="5.8" height="5.8" fill="#619CFF"/>
<path d="M148 263.9L152.1 270.4L144 270.4Z" fill="#00BA38"/>
<rect x="151.8" y="255.2" width="5.8" height="5.8" fill="#619CFF"/>
<rect x="300" y="268.4" width="5.8" height="5.8" fill="#619CFF"/>
<path d="M141 256.8L145 263.4L137 263.4Z" fill="#00BA38"/>
<rect x="178.7" y="237.5" width="5.8" height="5.8" fill="#619CFF"/>
<rect x="130.9" y="240.5" width="5.8" height="5.8" fill="#619CFF"/>
<rect x="147.2" y="241.6" width="5.8" height="5.8" fill="#619CFF"/>
<rect x="151.4" y="263.8" width="5.8" height="5.8" fill="#619CFF"/>
<rect x="165.2" y="258.8" width="5.8" height="5.8" fill="#619CFF"/>
<rect x="151.5" y="250.4" width="5.8" height="5.8" fill="#619CFF"/>
<rect x="167.8" y="222.1" width="5.8" height="5.8" fill="#619CFF"/>
<rect x="167.5" y="261.2" width="5.8" height="5.8" fill="#619CFF"/>
<rect x="175.9" y="278.7" width="5.8" height="5.8" fill="#619CFF"/>
<path d="M194.4 209.3L198.4 215.8L190.3 215.8Z" fill="#00BA38"/>
<rect x="151.3" y="254.3" width="5.8" height="5.8" fill="#619CFF"/>
<rect x="177.6" y="238.9" width="5.8" height="5.8" fill="#619CFF"/>
<rect x="173.1" y="264.4" width="5.8" height="5.8" fill="#619CFF"/>
<rect x="177.2" y="274.7" width="5.8" height="5.8" fill="#619CFF"/>
<rect x="179.7" y="274.1" width="5.8" height="5.8" fill="#619CFF"/>
<rect x="190.2" y="205.7" width="5.8" height="5.8" fill="#619CFF"/>
<path d="M168.5 263.4L172.6 269.9L164.5 269.9Z" fill="#00BA38"/>
<rect x="134.8" y="248.7" width="5.8" height="5.8" fill="#619CFF"/>
<rect x="174.7" y="269.1" width="5.8" height="5.8" fill="#619CFF"/>
<rect x="173.1" y="254.6" width="5.8" height="5.8" fill="#619CFF"/>
<rect x="161.5" y="287.8" width="5.8" height="5.8" fill="#619CFF"/>
<rect x="179.7" y="258" width="5.8" height="5.8" fill="#619CFF"/>
<rect x="153" y="262.4" width="5.8" height="5.8" fill="#619CFF"/>
<rect x="151.8" y="248.2" width="5.8" height="5.8" fill="#619CFF"/>
<rect x="149.5" y="249.4" width="5.8" height="5.8" fill="#619CFF"/>
<rect x="158.1" y="260.2" width="5.8" height="5.8" fill="#619CFF"/>
<rect x="162.8" y="276.8" width="5.8" height="5.8" fill="#619CFF"/>
<path d="M150.5 241.2L154.6 247.7L146.5 247.7Z" fill="#00BA38"/>
<rect x="192.4" y="270.6" width="5.8" height="5.8" fill="#619CFF"/>
<rect x="145.6" y="271.5" width="5.8" height="5.8" fill="#619CFF"/>
<path d="M161.8 283.8L165.9 290.3L157.8 290.3Z" fill="#00BA38"/>
<rect x="177.7" y="283.6" width="5.8" height="5.8" fill="#619CFF"/>
<path d="M246.7 245.7L250.7 252.2L242.7 252.2Z" fill="#00BA38"/>
<rect x="176.3" y="274.1" width="5.8" height="5.8" fill="#619CFF"/>
<rect x="138.7" y="262.7" width="5.8" height="5.8" fill="#619CFF"/>
<rect x="153.5" y="244.7" width="5.8" height="5.8" fill="#619CFF"/>
<rect x="174.1" y="252.3" width="5.8" height="5.8" fill="#619CFF"/>
<rect x="155.3" y="245.8" width="5.8" height="5.8" fill="#619CFF"/>
<path d="M162 248.9L166 255.5L158 255.5Z" fill="#00BA38"/>
<rect x="161.1" y="244.7" width="5.8" height="5.8" fill="#619CFF"/>
<rect x="174.7" y="278.3" width="5.8" height="5.8" fill="#619CFF"/>
<rect x="146.5" y="256.1" width="5.8" height="5.8" fill="#619CFF"/>
<rect x="152.4" y="256.5" width="5.8" height="5.8" fill="#619CFF"/>
<rect x="150.6" y="258.8" width="5.8" height="5.8" fill="#619CFF"/>
<rect x="161.6" y="263.5" width="5.8" height="5.8" fill="#619CFF"/>
<path d="M206.4 269.6L210.5 276.1L202.4 276.1Z" fill="#00BA38"/>
<rect x="218.8" y="176.8" width="5.8" height="5.8" fill="#619CFF"/>
<rect x="176.2" y="248.6" width="5.8" height="5.8" fill="#619CFF"/>
<path d="M191.3 247.7L195.4 254.2L187.3 254.2Z" fill="#00BA38"/>
<path d="M142.1 241L146.2 247.5L138.1 247.5Z" fill="#00BA38"/>
<path d="M209.5 257.6L213.6 264.2L205.5 264.2Z" fill="#00BA38"/>
<rect x="169.3" y="282.9" width="5.8" height="5.8" fill="#619CFF"/>
<path d="M135.9 249L139.9 255.5L131.8 255.5Z" fill="#00BA38"/>
<rect x="180" y="275.9" width="5.8" height="5.8" fill="#619CFF"/>
<rect x="159.1" y="260.4" width="5.8" height="5.8" fill="#619CFF"/>
<path d="M197.7 268.5L201.8 275.1L193.7 275.1Z" fill="#00BA38"/>
<rect x="207.2" y="192.1" width="5.8" height="5.8" fill="#619CFF"/>
<rect x="163.1" y="231.6" width="5.8" height="5.8" fill="#619CFF"/>
<rect x="146.5" y="237.9" width="5.8" height="5.8" fill="#619CFF"/>
<rect x="136.6" y="257.5" width="5.8" height="5.8" fill="#619CFF"/>
<path d="M148.8 270.2L152.9 276.7L144.8 276.7Z" fill="#00BA38"/>
<rect x="198.5" y="282.3" width="5.8" height="5.8" fill="#619CFF"/>
<rect x="157.8" y="244.6" width="5.8" height="5.8" fill="#619CFF"/>
<path d="M251.7 281.3L255.7 287.9L247.7 287.9Z" fill="#00BA38"/>
<rect x="148.9" y="250.5" width="5.8" height="5.8" fill="#619CFF"/>
<rect x="148.8" y="238" width="5.8" height="5.8" fill="#619CFF"/>
<rect x="203.1" y="247.2" width="5.8" height="5.8" fill="#619CFF"/>
<rect x="157.8" y="243.2" width="5.8" height="5.8" fill="#619CFF"/>
<rect x="166.4" y="272.4" width="5.8" height="5.8" fill="#619CFF"/>
<path d="M181.3 217.8L185.4 224.3L177.3 224.3Z" fill="#00BA38"/>
<rect x="239.8" y="295.1" width="5.8" height="5.8" fill="#619CFF"/>
<rect x="149.5" y="236.3" width="5.8" height="5.8" fill="#619CFF"/>
<rect x="181.8" y="256.2" width="5.8" height="5.8" fill="#619CFF"/>
<rect x="172.5" y="240.6" width="5.8" height="5.8" fill="#619CFF"/>
<rect x="186.8" y="231.3" width="5.8" height="5.8" fill="#619CFF"/>
<rect x="187.3" y="257.3" width="5.8" height="5.8" fill="#619CFF"/>
<path d="M224.7 305.3L228.7 311.9L220.7 311.9Z" fill="#00BA38"/>
<rect x="192.7" y="241.3" width="5.8" height="5.8" fill="#619CFF"/>
<path d="M177.1 262.7L181.1 269.2L173 269.2Z" fill="#00BA38"/>
<rect x="213.9" y="263.5" width="5.8" height="5.8" fill="#619CFF"/>
<path d="M169.6 260.2L173.6 266.7L165.5 266.7Z" fill="#00BA38"/>
<rect x="386.8" y="261.8" width="5.8" height="5.8" fill="#619CFF"/>
<path d="M186.9 260.4L190.9 266.9L182.9 266.9Z" fill="#00BA38"/>
<rect x="164" y="266.1" width="5.8" height="5.8" fill="#619CFF"/>
<rect x="147.2" y="239.3" width="5.8" height="5.8" fill="#619CFF"/>
<path d="M150.5 263.8L154.5 270.3L146.5 270.3Z" fill="#00BA38"/>
<path d="M143.2 249.4L147.2 255.9L139.1 255.9Z" fill="#00BA38"/>
<rect x="158.7" y="224.6" width="5.8" height="5.8" fill="#619CFF"/>
<rect x="218.1" y="293.1" width="5.8" height="5.8" fill="#619CFF"/>
<rect x="136.4" y="242.4" width="5.8" height="5.8" fill="#619CFF"/>
<path d="M200 259.8L204.1 266.4L196 266.4Z" fill="#00BA38"/>
<rect x="147.9" y="224.1" width="5.8" height="5.8" fill="#619CFF"/>
<rect x="190" y="268.4" width="5.8" height="5.8" fill="#619CFF"/>
<rect x="147.6" y="256" width="5.8" height="5.8" fill="#619CFF"/>
<path d="M159.9 243.8L164 250.3L155.9 250.3Z" fill="#00BA38"/>
<path d="M171.6 259.5L175.6 266L167.5 266Z" fill="#00BA38"/>
<path d="M154.7 260.5L158.8 267L150.7 267Z" fill="#00BA38"/>
<path d="M177 262.7L181 269.3L172.9 269.3Z" fill="#00BA38"/>
<rect x="146.1" y="257.2" width="5.8" height="5.8" fill="#619CFF"/>
<rect x="135" y="251.1" width="5.8" height="5.8" fill="#619CFF"/>
<path d="M202.5 258.9L206.5 265.4L198.4 265.4Z" fill="#00BA38"/>
<path d="M168.5 263.8L172.5 270.3L164.5 270.3Z" fill="#00BA38"/>
<rect x="154.4" y="255.2" width="5.8" height="5.8" fill="#619CFF"/>
<rect x="190.9" y="244.1" width="5.8" height="5.8" fill="#619CFF"/>
<rect x="217.9" y="189.1" width="5.8" height="5.8" fill="#619CFF"/>
<rect x="167.6" y="274.2" width="5.8" height="5.8" fill="#619CFF"/>
<rect x="150.1" y="248" width="5.8" height="5.8" fill="#619CFF"/>
<rect x="151.1" y="254.5" width="5.8" height="5.8" fill="#619CFF"/>
<rect x="133.9" y="251.5" width="5.8" height="5.8" fill="#619CFF"/>
<path d="M422.5 511.6L426.5 518.2L418.5 518.2Z" fill="#00BA38"/>
<path d="M220.7 235.4L224.7 242L216.6 242Z" fill="#00BA38"/>
<rect x="144.2" y="246.7" width="5.8" height="5.8" fill="#619CFF"/>
<path d="M179.7 248.2L183.8 254.7L175.7 254.7Z" fill="#00BA38"/>
<rect x="179.1" y="259.7" width="5.8" height="5.8" fill="#619CFF"/>
<rect x="137.3" y="253.6" width="5.8" height="5.8" fill="#619CFF"/>
<path d="M313.8 271.8L317.8 278.4L309.8 278.4Z" fill="#00BA38"/>
<rect x="162.5" y="249.3" width="5.8" height="5.8" fill="#619CFF"/>
<rect x="169.4" y="253.5" width="5.8" height="5.8" fill="#619CFF"/>
<path d="M202.4 191.5L206.4 198.1L198.4 198.1Z" fill="#00BA38"/>
<rect x="192.2" y="226.1" width="5.8" height="5.8" fill="#619CFF"/>
<path d="M145.7 249.7L149.7 256.2L141.7 256.2Z" fill="#00BA38"/>
<path d="M191.8 257.8L195.9 264.3L187.8 264.3Z" fill="#00BA38"/>
<rect x="156.5" y="262.8" width="5.8" height="5.8" fill="#619CFF"/>
<rect x="145.5" y="257.4" width="5.8" height="5.8" fill="#619CFF"/>
<rect x="146.7" y="238.4" width="5.8" height="5.8" fill="#619CFF"/>
<path d="M195.3 204.3L199.3 210.9L191.3 210.9Z" fill="#00BA38"/>
<path d="M138.6 245.3L142.7 251.8L134.6 251.8Z" fill="#00BA38"/>
<rect x="139.6" y="239.7" width="5.8" height="5.8" fill="#619CFF"/>
<rect x="203.1" y="253.9" width="5.8" height="5.8" fill="#619CFF"/>
<rect x="169.2" y="254.1" width="5.8" height="5.8" fill="#619CFF"/>
<rect x="133.6" y="250.9" width="5.8" height="5.8" fill="#619CFF"/>
<rect x="181.1" y="274.7" width="5.8" height="5.8" fill="#619CFF"/>
<path d="M220.1 257.2L224.2 263.7L216.1 263.7Z" fill="#00BA38"/>
<rect x="139.3" y="254.9" width="5.8" height="5.8" fill="#619CFF"/>
<path d="M157.3 247.3L161.4 253.8L153.3 253.8Z" fill="#00BA38"/>
<rect x="152.4" y="235" width="5.8" height="5.8" fill="#619CFF"/>
<path d="M174.1 275L178.1 281.5L170 281.5Z" fill="#00BA38"/>
<path d="M138.4 234.1L142.5 240.7L134.4 240.7Z" fill="#00BA38"/>
<path d="M176.3 217L180.4 223.5L172.3 223.5Z" fill="#00BA38"/>
<rect x="151.5" y="254.2" width="5.8" height="5.8" fill="#619CFF"/>
<rect x="170.2" y="242.9" width="5.8" height="5.8" fill="#619CFF"/>
<rect x="388.9" y="270.4" width="5.8" height="5.8" fill="#619CFF"/>
<rect x="145.2" y="256.5" width="5.8" height="5.8" fill="#619CFF"/>
<rect x="170.4" y="232.4" width="5.8" height="5.8" fill="#619CFF"/>
<rect x="199.5" y="268.5" width="5.8" height="5.8" fill="#619CFF"/>
<rect x="165.4" y="257.4" width="5.8" height="5.8" fill="#619CFF"/>
<rect x="149.5" y="265.8" width="5.8" height="5.8" fill="#619CFF"/>
<rect x="155.8" y="257.3" width="5.8" height="5.8" fill="#619CFF"/>
<path d="M163.4 289.3L167.4 295.9L159.4 295.9Z" fill="#00BA38"/>
<rect x="169.8" y="301.8" width="5.8" height="5.8" fill="#619CFF"/>
<rect x="174.8" y="265.5" width="5.8" height="5.8" fill="#619CFF"/>
<rect x="390.6" y="267.1" width="5.8" height="5.8" fill="#619CFF"/>
<path d="M176.2 271.7L180.3 278.3L172.2 278.3Z" fill="#00BA38"/>
<path d="M139.8 259.1L143.8 265.6L135.7 265.6Z" fill="#00BA38"/>
<rect x="169.6" y="260.8" width="5.8" height="5.8" fill="#619CFF"/>
<path d="M167.3 245.5L171.3 252L163.2 252Z" fill="#00BA38"/>
<rect x="137.3" y="238.2" width="5.8" height="5.8" fill="#619CFF"/>
<path d="M184.4 264.3L188.5 270.8L180.4 270.8Z" fill="#00BA38"/>
<path d="M218.6 178.2L222.6 184.8L214.5 184.8Z" fill="#00BA38"/>
<rect x="181.1" y="249.7" width="5.8" height="5.8" fill="#619CFF"/>
<path d="M160.5 249.4L164.5 255.9L156.4 255.9Z" fill="#00BA38"/>
<rect x="172.1" y="257.2" width="5.8" height="5.8" fill="#619CFF"/>
<rect x="166" y="240.8" width="5.8" height="5.8" fill="#619CFF"/>
<rect x="142.6" y="243" width="5.8" height="5.8" fill="#619CFF"/>
<path d="M181.3 262.2L185.4 268.8L177.3 268.8Z" fill="#00BA38"/>
<rect x="143.5" y="257.5" width="5.8" height="5.8" fill="#619CFF"/>
<rect x="145.2" y="252.4" width="5.8" height="5.8" fill="#619CFF"/>
<path d="M141.4 252.6L145.4 259.2L137.4 259.2Z" fill="#00BA38"/>
<path d="M202.4 255.9L206.5 262.4L198.4 262.4Z" fill="#00BA38"/>
<rect x="174.4" y="284.8" width="5.8" height="5.8" fill="#619CFF"/>
<path d="M144.5 266.5L148.6 273L140.5 273Z" fill="#00BA38"/>
<path d="M132.8 230.4L136.9 237L128.8 237Z" fill="#00BA38"/>
<rect x="153.3" y="259.4" width="5.8" height="5.8" fill="#619CFF"/>
<rect x="204.2" y="248.9" width="5.8" height="5.8" fill="#619CFF"/>
<path d="M153.1 226.3L157.1 232.8L149 232.8Z" fill="#00BA38"/>
<rect x="173.2" y="256.8" width="5.8" height="5.8" fill="#619CFF"/>
<rect x="152.6" y="251.6" width="5.8" height="5.8" fill="#619CFF"/>
<path d="M147.7 252L151.7 258.6L143.6 258.6Z" fill="#00BA38"/>
<path d="M246.6 253.8L250.6 260.4L242.5 260.4Z" fill="#00BA38"/>
<path d="M135.9 236.2L140 242.7L131.9 242.7Z" fill="#00BA38"/>
<rect x="185" y="255.1" width="5.8" height="5.8" fill="#619CFF"/>
<rect x="152.9" y="266" width="5.8" height="5.8" fill="#619CFF"/>
<path d="M200.3 259.4L204.3 265.9L196.2 265.9Z" fill="#00BA38"/>
<path d="M203 310L207 316.6L199 316.6Z" fill="#00BA38"/>
<path d="M170.7 261.7L174.7 268.2L166.7 268.2Z" fill="#00BA38"/>
<path d="M158.9 218.7L163 225.3L154.9 225.3Z" fill="#00BA38"/>
<rect x="155" y="246.3" width="5.8" height="5.8" fill="#619CFF"/>
<rect x="171" y="247" width="5.8" height="5.8" fill="#619CFF"/>
<path d="M252 263.6L256 270.2L248 270.2Z" fill="#00BA38"/>
<rect x="142.1" y="254.4" width="5.8" height="5.8" fill="#619CFF"/>
<rect x="223.8" y="149.6" width="5.8" height="5.8" fill="#619CFF"/>
<path d="M155.4 215.7L159.5 222.3L151.4 222.3Z" fill="#00BA38"/>
<path d="M160.8 310.4L164.8 316.9L156.7 316.9Z" fill="#00BA38"/>
<rect x="293.4" y="244.4" width="5.8" height="5.8" fill="#619CFF"/>
<rect x="144.7" y="256.2" width="5.8" height="5.8" fill="#619CFF"/>
<path d="M163.3 242.5L167.3 249L159.2 249Z" fill="#00BA38"/>
<rect x="160.9" y="244.3" width="5.8" height="5.8" fill="#619CFF"/>
<rect x="176.1" y="278.8" width="5.8" height="5.8" fill="#619CFF"/>
<rect x="173.1" y="255.7" width="5.8" height="5.8" fill="#619CFF"/>
<path d="M134 229.3L138.1 235.8L130 235.8Z" fill="#00BA38"/>
<rect x="138.4" y="248.5" width="5.8" height="5.8" fill="#619CFF"/>
<rect x="138.9" y="240.6" width="5.8" height="5.8" fill="#619CFF"/>
<rect x="191" y="266" width="5.8" height="5.8" fill="#619CFF"/>
<path d="M150.1 263.6L154.1 270.1L146 270.1Z" fill="#00BA38"/>
<rect x="180.6" y="272.1" width="5.8" height="5.8" fill="#619CFF"/>
<path d="M158.3 221.9L162.4 228.5L154.3 228.5Z" fill="#00BA38"/>
<rect x="144.5" y="254.8" width="5.8" height="5.8" fill="#619CFF"/>
<rect x="138.1" y="263.3" width="5.8" height="5.8" fill="#619CFF"/>
<rect x="221.6" y="254.6" width="5.8" height="5.8" fill="#619CFF"/>
<rect x="161.3" y="261.4" width="5.8" height="5.8" fill="#619CFF"/>
<rect x="165.6" y="257.7" width="5.8" height="5.8" fill="#619CFF"/>
<rect x="146.6" y="253" width="5.8" height="5.8" fill="#619CFF"/>
<rect x="167" y="269.3" width="5.8" height="5.8" fill="#619CFF"/>
<rect x="160.9" y="292.9" width="5.8" height="5.8" fill="#619CFF"/>
<rect x="216.3" y="228.6" width="5.8" height="5.8" fill="#619CFF"/>
<rect x="158.7" y="241.9" width="5.8" height="5.8" fill="#619CFF"/>
<rect x="206.8" y="222.1" width="5.8" height="5.8" fill="#619CFF"/>
<rect x="192.7" y="305" width="5.8" height="5.8" fill="#619CFF"/>
<rect x="201.6" y="316.4" width="5.8" height="5.8" fill="#619CFF"/>
<path d="M161.2 301.6L165.3 308.1L157.2 308.1Z" fill="#00BA38"/>
<rect x="153.8" y="249" width="5.8" height="5.8" fill="#619CFF"/>
<path d="M157 243.3L161 249.9L152.9 249.9Z" fill="#00BA38"/>
<rect x="215.4" y="349.1" width="5.8" height="5.8" fill="#619CFF"/>
<path d="M139 254.2L143 260.8L134.9 260.8Z" fill="#00BA38"/>
<path d="M237.8 314.8L241.9 321.4L233.8 321.4Z" fill="#00BA38"/>
<path d="M221 248.6L225 255.1L216.9 255.1Z" fill="#00BA38"/>
<rect x="149.9" y="278" width="5.8" height="5.8" fill="#619CFF"/>
<rect x="173.9" y="258.4" width="5.8" height="5.8" fill="#619CFF"/>
<rect x="133.3" y="246" width="5.8" height="5.8" fill="#619CFF"/>
<rect x="213.6" y="249.3" width="5.8" height="5.8" fill="#619CFF"/>
<path d="M166.6 251.1L170.6 257.6L162.5 257.6Z" fill="#00BA38"/>
<rect x="157.6" y="240.8" width="5.8" height="5.8" fill="#619CFF"/>
<rect x="190.5" y="255.5" width="5.8" height="5.8" fill="#619CFF"/>
<path d="M263.3 202.2L267.3 208.7L259.3 208.7Z" fill="#00BA38"/>
<rect x="173.5" y="273" width="5.8" height="5.8" fill="#619CFF"/>
<rect x="146.2" y="254.6" width="5.8" height="5.8" fill="#619CFF"/>
<path d="M282 261.6L286 268.2L278 268.2Z" fill="#00BA38"/>
<path d="M149 233.4L153 240L144.9 240Z" fill="#00BA38"/>
<path d="M173.5 213.5L177.5 220L169.5 220Z" fill="#00BA38"/>
<rect x="165" y="268.1" width="5.8" height="5.8" fill="#619CFF"/>
<path d="M154.3 257.8L158.3 264.3L150.2 264.3Z" fill="#00BA38"/>
<rect x="155.9" y="228.3" width="5.8" height="5.8" fill="#619CFF"/>
<rect x="172.3" y="226.6" width="5.8" height="5.8" fill="#619CFF"/>
<path d="M174.7 276.5L178.7 283L170.6 283Z" fill="#00BA38"/>
<path d="M143.6 251.8L147.6 258.3L139.5 258.3Z" fill="#00BA38"/>
<rect x="141.9" y="241.7" width="5.8" height="5.8" fill="#619CFF"/>
<path d="M199.4 277.4L203.4 283.9L195.4 283.9Z" fill="#00BA38"/>
<path d="M146.3 260.6L150.3 267.1L142.2 267.1Z" fill="#00BA38"/>
<path d="M225.3 252.6L229.3 259.1L221.3 259.1Z" fill="#00BA38"/>
<path d="M159.2 278.8L163.2 285.3L155.1 285.3Z" fill="#00BA38"/>
<rect x="196.6" y="235.8" width="5.8" height="5.8" fill="#619CFF"/>
<rect x="240.4" y="292.8" width="5.8" height="5.8" fill="#619CFF"/>
<rect x="160.6" y="275.8" width="5.8" height="5.8" fill="#619CFF"/>
<rect x="163.4" y="256.3" width="5.8" height="5.8" fill="#619CFF"/>
<rect x="164.1" y="240.5" width="5.8" height="5.8" fill="#619CFF"/>
<rect x="156.9" y="267.3" width="5.8" height="5.8" fill="#619CFF"/>
<rect x="591.3" y="278.9" width="5.8" height="5.8" fill="#619CFF"/>
<rect x="163.6" y="252" width="5.8" height="5.8" fill="#619CFF"/>
<rect x="152.1" y="275.6" width="5.8" height="5.8" fill="#619CFF"/>
<path d="M187.3 261.4L191.4 268L183.3 268Z" fill="#00BA38"/>
<rect x="180.3" y="273.8" width="5.8" height="5.8" fill="#619CFF"/>
<rect x="167.9" y="253" width="5.8" height="5.8" fill="#619CFF"/>
<rect x="158.5" y="203.5" width="5.8" height="5.8" fill="#619CFF"/>
<rect x="145.5" y="246.8" width="5.8" height="5.8" fill="#619CFF"/>
<rect x="193" y="299.5" width="5.8" height="5.8" fill="#619CFF"/>
<path d="M440.6 269.9L444.6 276.5L436.6 276.5Z" fill="#00BA38"/>
<rect x="146" y="250.6" width="5.8" height="5.8" fill="#619CFF"/>
<rect x="147.4" y="246" width="5.8" height="5.8" fill="#619CFF"/>
<rect x="166.3" y="276" width="5.8" height="5.8" fill="#619CFF"/>
<rect x="187.5" y="256.8" width="5.8" height="5.8" fill="#619CFF"/>
<path d="M209.9 262.6L213.9 269.1L205.8 269.1Z" fill="#00BA38"/>
<rect x="149.9" y="239.7" width="5.8" height="5.8" fill="#619CFF"/>
<rect x="156.8" y="269.4" width="5.8" height="5.8" fill="#619CFF"/>
<path d="M140.1 255.5L144.1 262L136 262Z" fill="#00BA38"/>
<rect x="150.6" y="232.5" width="5.8" height="5.8" fill="#619CFF"/>
<rect x="144.7" y="252.8" width="5.8" height="5.8" fill="#619CFF"/>
<rect x="153.9" y="272.5" width="5.8" height="5.8" fill="#619CFF"/>
<rect x="173.5" y="274.4" width="5.8" height="5.8" fill="#619CFF"/>
<path d="M157.2 250.2L161.2 256.8L153.1 256.8Z" fill="#00BA38"/>
<rect x="162.3" y="260.5" width="5.8" height="5.8" fill="#619CFF"/>
<rect x="176.6" y="240" width="5.8" height="5.8" fill="#619CFF"/>
<path d="M147.1 220.6L151.2 227.1L143.1 227.1Z" fill="#00BA38"/>
<path d="M162.9 279.3L166.9 285.8L158.8 285.8Z" fill="#00BA38"/>
<rect x="170.1" y="297.2" width="5.8" height="5.8" fill="#619CFF"/>
<rect x="149.8" y="271.2" width="5.8" height="5.8" fill="#619CFF"/>
<rect x="151.1" y="238.8" width="5.8" height="5.8" fill="#619CFF"/>
<rect x="170.1" y="271.3" width="5.8" height="5.8" fill="#619CFF"/>
<rect x="182.6" y="264.6" width="5.8" height="5.8" fill="#619CFF"/>
<path d="M193.9 200.4L197.9 206.9L189.8 206.9Z" fill="#00BA38"/>
<rect x="170.6" y="236.2" width="5.8" height="5.8" fill="#619CFF"/>
<rect x="154.6" y="259.7" width="5.8" height="5.8" fill="#619CFF"/>
<path d="M246.8 253L250.8 259.6L242.7 259.6Z" fill="#00BA38"/>
<rect x="143.8" y="216.2" width="5.8" height="5.8" fill="#619CFF"/>
<rect x="140.4" y="267.7" width="5.8" height="5.8" fill="#619CFF"/>
<path d="M147.4 252.5L151.5 259.1L143.4 259.1Z" fill="#00BA38"/>
<rect x="169.9" y="254" width="5.8" height="5.8" fill="#619CFF"/>
<rect x="168.4" y="274.5" width="5.8" height="5.8" fill="#619CFF"/>
<path d="M210.7 266.8L214.7 273.3L206.6 273.3Z" fill="#00BA38"/>
<path d="M150.4 276.7L154.4 283.3L146.3 283.3Z" fill="#00BA38"/>
<path d="M147.8 255.1L151.9 261.6L143.8 261.6Z" fill="#00BA38"/>
<rect x="138.3" y="257" width="5.8" height="5.8" fill="#619CFF"/>
<rect x="161.9" y="264.4" width="5.8" height="5.8" fill="#619CFF"/>
<rect x="225.4" y="298.4" width="5.8" height="5.8" fill="#619CFF"/>
<rect x="159.4" y="246.4" width="5.8" height="5.8" fill="#619CFF"/>
<rect x="261.1" y="297.1" width="5.8" height="5.8" fill="#619CFF"/>
<path d="M177.2 247.9L181.2 254.4L173.1 254.4Z" fill="#00BA38"/>
<rect x="184.8" y="286.5" width="5.8" height="5.8" fill="#619CFF"/>
<path d="M159.8 240L163.8 246.5L155.7 246.5Z" fill="#00BA38"/>
<rect x="151.2" y="267.3" width="5.8" height="5.8" fill="#619CFF"/>
<rect x="184.2" y="265.1" width="5.8" height="5.8" fill="#619CFF"/>
<rect x="185" y="253.2" width="5.8" height="5.8" fill="#619CFF"/>
<path d="M216.5 215.1L220.6 221.6L212.5 221.6Z" fill="#00BA38"/>
<rect x="161" y="273.1" width="5.8" height="5.8" fill="#619CFF"/>
<rect x="162.3" y="250.6" width="5.8" height="5.8" fill="#619CFF"/>
<rect x="141.1" y="269.6" width="5.8" height="5.8" fill="#619CFF"/>
<rect x="182" y="236.5" width="5.8" height="5.8" fill="#619CFF"/>
<path d="M288.2 290.8L292.2 297.4L284.2 297.4Z" fill="#00BA38"/>
<rect x="185.8" y="273.3" width="5.8" height="5.8" fill="#619CFF"/>
<rect x="182.2" y="245.1" width="5.8" height="5.8" fill="#619CFF"/>
<path d="M185.5 266L189.5 272.5L181.4 272.5Z" fill="#00BA38"/>
<rect x="143.5" y="271.6" width="5.8" height="5.8" fill="#619CFF"/>
<rect x="146.3" y="264.9" width="5.8" height="5.8" fill="#619CFF"/>
<path d="M195.7 229L199.8 235.5L191.7 235.5Z" fill="#00BA38"/>
<rect x="142" y="252.9" width="5.8" height="5.8" fill="#619CFF"/>
<rect x="137.2" y="244.1" width="5.8" height="5.8" fill="#619CFF"/>
<rect x="161.3" y="235.7" width="5.8" height="5.8" fill="#619CFF"/>
<rect x="137.7" y="251.6" width="5.8" height="5.8" fill="#619CFF"/>
<path d="M185.9 246.7L189.9 253.3L181.8 253.3Z" fill="#00BA38"/>
<rect x="215.1" y="298.1" width="5.8" height="5.8" fill="#619CFF"/>
<rect x="137.6" y="247.1" width="5.8" height="5.8" fill="#619CFF"/>
<rect x="190" y="195.7" width="5.8" height="5.8" fill="#619CFF"/>
<circle cx="131" cy="241" r="3" fill="#F8766D"/>
<path d="M158.8 215.5L162.8 222L154.7 222Z" fill="#00BA38"/>
<path d="M247.8 320.8L251.9 327.3L243.8 327.3Z" fill="#00BA38"/>
<rect x="161.6" y="259.7" width="5.8" height="5.8" fill="#619CFF"/>
<rect x="155" y="260.6" width="5.8" height="5.8" fill="#619CFF"/>
<rect x="212.1" y="291.1" width="5.8" height="5.8" fill="#619CFF"/>
<rect x="163.8" y="253.4" width="5.8" height="5.8" fill="#619CFF"/>
<rect x="138" y="255.2" width="5.8" height="5.8" fill="#619CFF"/>
<path d="M164.3 259.1L168.3 265.7L160.2 265.7Z" fill="#00BA38"/>
<path d="M158.3 289.5L162.4 296L154.3 296Z" fill="#00BA38"/>
<rect x="203.8" y="256.7" width="5.8" height="5.8" fill="#619CFF"/>
<path d="M1074 239.2L1078 245.7L1070 245.7Z" fill="#00BA38"/>
<path d="M188.4 260.8L192.4 267.3L184.3 267.3Z" fill="#00BA38"/>
<rect x="172.1" y="263.7" width="5.8" height="5.8" fill="#619CFF"/>
<rect x="163.9" y="252.4" width="5.8" height="5.8" fill="#619CFF"/>
<path d="M162.1 257.1L166.1 263.6L158 263.6Z" fill="#00BA38"/>
<rect x="180.2" y="253.4" width="5.8" height="5.8" fill="#619CFF"/>
<rect x="177.8" y="313.9" width="5.8" height="5.8" fill="#619CFF"/>
<rect x="171" y="228.3" width="5.8" height="5.8" fill="#619CFF"/>
<path d="M205.5 167.2L209.5 173.7L201.5 173.7Z" fill="#00BA38"/>
<rect x="185.5" y="268.5" width="5.8" height="5.8" fill="#619CFF"/>
<path d="M208 181.2L212 187.8L204 187.8Z" fill="#00BA38"/>
<rect x="160.7" y="221.3" width="5.8" height="5.8" fill="#619CFF"/>
<rect x="148.9" y="261.4" width="5.8" height="5.8" fill="#619CFF"/>
<rect x="145.5" y="250.8" width="5.8" height="5.8" fill="#619CFF"/>
<path d="M195.3 189L199.3 195.5L191.3 195.5Z" fill="#00BA38"/>
<rect x="368.4" y="261.1" width="5.8" height="5.8" fill="#619CFF"/>
<rect x="203.3" y="298.7" width="5.8" height="5.8" fill="#619CFF"/>
<rect x="195" y="264" width="5.8" height="5.8" fill="#619CFF"/>
<path d="M155.2 223.3L159.2 229.8L151.1 229.8Z" fill="#00BA38"/>
<rect x="133.4" y="243.7" width="5.8" height="5.8" fill="#619CFF"/>
<rect x="141.8" y="257.1" width="5.8" height="5.8" fill="#619CFF"/>
<rect x="165.8" y="230.5" width="5.8" height="5.8" fill="#619CFF"/>
<path d="M180.4 246.2L184.5 252.7L176.4 252.7Z" fill="#00BA38"/>
<rect x="187.9" y="251.9" width="5.8" height="5.8" fill="#619CFF"/>
<path d="M196.4 240.3L200.5 246.8L192.4 246.8Z" fill="#00BA38"/>
<rect x="151.1" y="271.1" width="5.8" height="5.8" fill="#619CFF"/>
<path d="M140.3 233.2L144.3 239.8L136.2 239.8Z" fill="#00BA38"/>
<rect x="182.3" y="243.8" width="5.8" height="5.8" fill="#619CFF"/>
<rect x="155.8" y="247.5" width="5.8" height="5.8" fill="#619CFF"/>
<rect x="169.5" y="263.9" width="5.8" height="5.8" fill="#619CFF"/>
<rect x="185.7" y="233.5" width="5.8" height="5.8" fill="#619CFF"/>
<path d="M156.1 270.2L160.1 276.7L152 276.7Z" fill="#00BA38"/>
<rect x="167.3" y="260.9" width="5.8" height="5.8" fill="#619CFF"/>
<rect x="188.4" y="268" width="5.8" height="5.8" fill="#619CFF"/>
<path d="M142.6 264.5L146.6 271L138.5 271Z" fill="#00BA38"/>
<rect x="206.6" y="270.9" width="5.8" height="5.8" fill="#619CFF"/>
<rect x="268.1" y="279.4" width="5.8" height="5.8" fill="#619CFF"/>
<rect x="191.9" y="345.6" width="5.8" height="5.8" fill="#619CFF"/>
<path d="M158.7 246.3L162.8 252.8L154.7 252.8Z" fill="#00BA38"/>
<path d="M163.5 213.1L167.5 219.6L159.4 219.6Z" fill="#00BA38"/>
<rect x="156.5" y="246.5" width="5.8" height="5.8" fill="#619CFF"/>
<rect x="136.8" y="255.8" width="5.8" height="5.8" fill="#619CFF"/>
<rect x="140.1" y="250.1" width="5.8" height="5.8" fill="#619CFF"/>
<path d="M195.5 170.7L199.5 177.2L191.5 177.2Z" fill="#00BA38"/>
<path d="M142.5 253.5L146.5 260L138.4 260Z" fill="#00BA38"/>
<path d="M183.1 262.1L187.2 268.6L179.1 268.6Z" fill="#00BA38"/>
<rect x="137.2" y="257.1" width="5.8" height="5.8" fill="#619CFF"/>
<path d="M158.8 308.2L162.8 314.7L154.7 314.7Z" fill="#00BA38"/>
<rect x="173.9" y="253.5" width="5.8" height="5.8" fill="#619CFF"/>
<rect x="145.3" y="266.8" width="5.8" height="5.8" fill="#619CFF"/>
<rect x="209.6" y="269.4" width="5.8" height="5.8" fill="#619CFF"/>
<rect x="156.2" y="269" width="5.8" height="5.8" fill="#619CFF"/>
<rect x="156.7" y="258.7" width="5.8" height="5.8" fill="#619CFF"/>
<rect x="167.8" y="269" width="5.8" height="5.8" fill="#619CFF"/>
<path d="M237.7 230.7L241.7 237.2L233.7 237.2Z" fill="#00BA38"/>
<path d="M169.4 243.8L173.5 250.3L165.4 250.3Z" fill="#00BA38"/>
<rect x="166.6" y="255.1" width="5.8" height="5.8" fill="#619CFF"/>
<rect x="292.5" y="245" width="5.8" height="5.8" fill="#619CFF"/>
<rect x="194.7" y="255.3" width="5.8" height="5.8" fill="#619CFF"/>
<rect x="206" y="256.9" width="5.8" height="5.8" fill="#619CFF"/>
<rect x="164.3" y="237.4" width="5.8" height="5.8" fill="#619CFF"/>
<path d="M178.4 271.3L182.4 277.9L174.3 277.9Z" fill="#00BA38"/>
<rect x="172.4" y="236.1" width="5.8" height="5.8" fill="#619CFF"/>
<path d="M158.6 264.3L162.7 270.8L154.6 270.8Z" fill="#00BA38"/>
<rect x="149.3" y="248" width="5.8" height="5.8" fill="#619CFF"/>
<rect x="152.9" y="264.3" width="5.8" height="5.8" fill="#619CFF"/>
<rect x="140.6" y="260.8" width="5.8" height="5.8" fill="#619CFF"/>
<path d="M139.7 248.4L143.7 254.9L135.6 254.9Z" fill="#00BA38"/>
<path d="M220.8 238.2L224.8 244.7L216.7 244.7Z" fill="#00BA38"/>
<path d="M226.7 287.6L230.7 294.2L222.7 294.2Z" fill="#00BA38"/>
<path d="M147.8 260.9L151.8 267.5L143.7 267.5Z" fill="#00BA38"/>
<rect x="143.1" y="263.5" width="5.8" height="5.8" fill="#619CFF"/>
<rect x="142.6" y="260" width="5.8" height="5.8" fill="#619CFF"/>
<rect x="172.1" y="273" width="5.8" height="5.8" fill="#619CFF"/>
<rect x="183.3" y="255.3" width="5.8" height="5.8" fill="#619CFF"/>
<rect x="146.6" y="275" width="5.8" height="5.8" fill="#619CFF"/>
<rect x="166.7" y="200.6" width="5.8" height="5.8" fill="#619CFF"/>
<path d="M142.7 236L146.7 242.5L138.7 242.5Z" fill="#00BA38"/>
<rect x="170.1" y="247.9" width="5.8" height="5.8" fill="#619CFF"/>
<rect x="148.5" y="269.3" width="5.8" height="5.8" fill="#619CFF"/>
<path d="M141.3 245.4L145.4 251.9L137.3 251.9Z" fill="#00BA38"/>
<rect x="134.4" y="250.6" width="5.8" height="5.8" fill="#619CFF"/>
<rect x="192.9" y="250.6" width="5.8" height="5.8" fill="#619CFF"/>
<rect x="142.6" y="255.8" width="5.8" height="5.8" fill="#619CFF"/>
<path d="M162.7 318.3L166.7 324.9L158.7 324.9Z" fill="#00BA38"/>
<rect x="190.3" y="245.7" width="5.8" height="5.8" fill="#619CFF"/>
<path d="M179.2 259.2L183.3 265.7L175.2 265.7Z" fill="#00BA38"/>
<rect x="152.5" y="264.1" width="5.8" height="5.8" fill="#619CFF"/>
<rect x="142" y="226.9" width="5.8" height="5.8" fill="#619CFF"/>
<rect x="166.3" y="257" width="5.8" height="5.8" fill="#619CFF"/>
<rect x="170.5" y="273.2" width="5.8" height="5.8" fill="#619CFF"/>
<rect x="149.2" y="248.2" width="5.8" height="5.8" fill="#619CFF"/>
<rect x="158.9" y="261.3" width="5.8" height="5.8" fill="#619CFF"/>
<rect x="194" y="267.4" width="5.8" height="5.8" fill="#619CFF"/>
<path d="M143.7 251.7L147.8 258.2L139.7 258.2Z" fill="#00BA38"/>
<rect x="140.9" y="248.3" width="5.8" height="5.8" fill="#619CFF"/>
<rect x="155.1" y="253.8" width="5.8" height="5.8" fill="#619CFF"/>
<path d="M154.6 228.1L158.6 234.6L150.5 234.6Z" fill="#00BA38"/>
<rect x="147.9" y="250.1" width="5.8" height="5.8" fill="#619CFF"/>
<rect x="156.9" y="218.2" width="5.8" height="5.8" fill="#619CFF"/>
<path d="M172.6 222.4L176.6 229L168.5 229Z" fill="#00BA38"/>
<path d="M193.7 248.1L197.7 254.6L189.6 254.6Z" fill="#00BA38"/>
<rect x="164.4" y="272.1" width="5.8" height="5.8" fill="#619CFF"/>
<rect x="169.1" y="255.2" width="5.8" height="5.8" fill="#619CFF"/>
<rect x="166.4" y="256.1" width="5.8" height="5.8" fill="#619CFF"/>
<rect x="226.4" y="250.5" width="5.8" height="5.8" fill="#619CFF"/>
<path d="M165 253.6L169.1 260.1L161 260.1Z" fill="#00BA38"/>
<rect x="166.8" y="270" width="5.8" height="5.8" fill="#619CFF"/>
<path d="M153.7 217.6L157.8 224.1L149.7 224.1Z" fill="#00BA38"/>
<path d="M160.5 214.4L164.5 221L156.4 221Z" fill="#00BA38"/>
<rect x="184.5" y="259.9" width="5.8" height="5.8" fill="#619CFF"/>
<rect x="151.7" y="279.4" width="5.8" height="5.8" fill="#619CFF"/>
<rect x="144.7" y="258.7" width="5.8" height="5.8" fill="#619CFF"/>
<rect x="180.4" y="237.3" width="5.8" height="5.8" fill="#619CFF"/>
<path d="M197.9 300.8L201.9 307.3L193.9 307.3Z" fill="#00BA38"/>
<path d="M212.4 243.2L216.5 249.7L208.4 249.7Z" fill="#00BA38"/>
<rect x="172.6" y="238.2" width="5.8" height="5.8" fill="#619CFF"/>
<rect x="170.1" y="242.6" width="5.8" height="5.8" fill="#619CFF"/>
<rect x="138.6" y="245" width="5.8" height="5.8" fill="#619CFF"/>
<rect x="156" y="260" width="5.8" height="5.8" fill="#619CFF"/>
<rect x="213.2" y="272.3" width="5.8" height="5.8" fill="#619CFF"/>
<path d="M220.2 294L224.3 300.5L216.2 300.5Z" fill="#00BA38"/>
<rect x="158.9" y="226.6" width="5.8" height="5.8" fill="#619CFF"/>
<rect x="137.4" y="254.8" width="5.8" height="5.8" fill="#619CFF"/>
<rect x="195.7" y="233" width="5.8" height="5.8" fill="#619CFF"/>
<rect x="152.1" y="271" width="5.8" height="5.8" fill="#619CFF"/>
<rect x="136.9" y="257.3" width="5.8" height="5.8" fill="#619CFF"/>
<rect x="146.1" y="259.9" width="5.8" height="5.8" fill="#619CFF"/>
<path d="M210 281.5L214 288L205.9 288Z" fill="#00BA38"/>
<path d="M154.8 254.2L158.9 260.7L150.8 260.7Z" fill="#00BA38"/>
<rect x="151.5" y="209.6" width="5.8" height="5.8" fill="#619CFF"/>
<rect x="180.4" y="315.1" width="5.8" height="5.8" fill="#619CFF"/>
<rect x="152.6" y="258.1" width="5.8" height="5.8" fill="#619CFF"/>
<rect x="181.9" y="272" width="5.8" height="5.8" fill="#619CFF"/>
<rect x="175.2" y="263.1" width="5.8" height="5.8" fill="#619CFF"/>
<rect x="205.1" y="258.6" width="5.8" height="5.8" fill="#619CFF"/>
<rect x="135.9" y="226.9" width="5.8" height="5.8" fill="#619CFF"/>
<rect x="143.2" y="248.7" width="5.8" height="5.8" fill="#619CFF"/>
<rect x="145.3" y="238.5" width="5.8" height="5.8" fill="#619CFF"/>
<rect x="138.8" y="254.5" width="5.8" height="5.8" fill="#619CFF"/>
<rect x="203.7" y="255.7" width="5.8" height="5.8" fill="#619CFF"/>
<rect x="145.9" y="257.2" width="5.8" height="5.8" fill="#619CFF"/>
<path d="M164.6 305.9L168.6 312.5L160.6 312.5Z" fill="#00BA38"/>
<rect x="164.1" y="257.5" width="5.8" height="5.8" fill="#619CFF"/>
<path d="M207.5 214.3L211.6 220.8L203.5 220.8Z" fill="#00BA38"/>
<rect x="205.9" y="243.5" width="5.8" height="5.8" fill="#619CFF"/>
<rect x="152.2" y="210.3" width="5.8" height="5.8" fill="#619CFF"/>
<rect x="135.3" y="251.7" width="5.8" height="5.8" fill="#619CFF"/>
<rect x="157.1" y="256.2" width="5.8" height="5.8" fill="#619CFF"/>
<rect x="143.8" y="237.5" width="5.8" height="5.8" fill="#619CFF"/>
<rect x="138.6" y="261.8" width="5.8" height="5.8" fill="#619CFF"/>
<path d="M145.5 218.5L149.6 225L141.5 225Z" fill="#00BA38"/>
<rect x="144.7" y="281.5" width="5.8" height="5.8" fill="#619CFF"/>
<rect x="133.9" y="252.5" width="5.8" height="5.8" fill="#619CFF"/>
<rect x="153.6" y="260.9" width="5.8" height="5.8" fill="#619CFF"/>
<rect x="201" y="272.9" width="5.8" height="5.8" fill="#619CFF"/>
<rect x="254.1" y="230.8" width="5.8" height="5.8" fill="#619CFF"/>
<path d="M147.6 245.5L151.6 252L143.6 252Z" fill="#00BA38"/>
<rect x="178.1" y="260.6" width="5.8" height="5.8" fill="#619CFF"/>
<rect x="139.4" y="246.2" width="5.8" height="5.8" fill="#619CFF"/>
<path d="M150 245.5L154 252L145.9 252Z" fill="#00BA38"/>
<path d="M167.8 257.5L171.8 264L163.7 264Z" fill="#00BA38"/>
<path d="M232 240.3L236 246.9L228 246.9Z" fill="#00BA38"/>
<rect x="144.2" y="265.3" width="5.8" height="5.8" fill="#619CFF"/>
<rect x="155.6" y="243.8" width="5.8" height="5.8" fill="#619CFF"/>
<path d="M139.7 236.9L143.7 243.4L135.6 243.4Z" fill="#00BA38"/>
<path d="M225.5 246.9L229.5 253.4L221.4 253.4Z" fill="#00BA38"/>
<rect x="152.7" y="259.8" width="5.8" height="5.8" fill="#619CFF"/>
<rect x="172.5" y="237.9" width="5.8" height="5.8" fill="#619CFF"/>
<rect x="171.5" y="242.7" width="5.8" height="5.8" fill="#619CFF"/>
<rect x="183.3" y="247.4" width="5.8" height="5.8" fill="#619CFF"/>
<path d="M279.3 261.9L283.3 268.5L275.3 268.5Z" fill="#00BA38"/>
<path d="M178.6 273.4L182.7 279.9L174.6 279.9Z" fill="#00BA38"/>
<path d="M218.8 291.1L222.8 297.6L214.7 297.6Z" fill="#00BA38"/>
<path d="M130.9 231.6L135 238.2L126.9 238.2Z" fill="#00BA38"/>
<path d="M222.6 160.2L226.6 166.8L218.5 166.8Z" fill="#00BA38"/>
<rect x="154.2" y="238.2" width="5.8" height="5.8" fill="#619CFF"/>
<path d="M213.8 311.6L217.9 318.1L209.8 318.1Z" fill="#00BA38"/>
<path d="M171.6 269.6L175.7 276.2L167.6 276.2Z" fill="#00BA38"/>
<rect x="223.4" y="223.1" width="5.8" height="5.8" fill="#619CFF"/>
<rect x="172" y="250.2" width="5.8" height="5.8" fill="#619CFF"/>
<rect x="145.8" y="260.9" width="5.8" height="5.8" fill="#619CFF"/>
<rect x="150.9" y="252.2" width="5.8" height="5.8" fill="#619CFF"/>
<rect x="147.5" y="251.5" width="5.8" height="5.8" fill="#619CFF"/>
<rect x="210.9" y="257.9" width="5.8" height="5.8" fill="#619CFF"/>
<rect x="210.1" y="258.8" width="5.8" height="5.8" fill="#619CFF"/>
<rect x="210.1" y="246.7" width="5.8" height="5.8" fill="#619CFF"/>
<path d="M161.9 222.7L166 229.2L157.9 229.2Z" fill="#00BA38"/>
<path d="M152.3 216.4L156.4 222.9L148.3 222.9Z" fill="#00BA38"/>
<rect x="146.6" y="257.5" width="5.8" height="5.8" fill="#619CFF"/>
<rect x="153.5" y="254.1" width="5.8" height="5.8" fill="#619CFF"/>
<path d="M214.9 240.4L218.9 246.9L210.8 246.9Z" fill="#00BA38"/>
<path d="M187.2 269.5L191.3 276.1L183.2 276.1Z" fill="#00BA38"/>
<path d="M192.2 226.5L196.3 233L188.2 233Z" fill="#00BA38"/>
<path d="M165.6 219.6L169.7 226.1L161.6 226.1Z" fill="#00BA38"/>
<path d="M191 296.1L195.1 302.6L187 302.6Z" fill="#00BA38"/>
<rect x="149.5" y="250.6" width="5.8" height="5.8" fill="#619CFF"/>
<path d="M140 245.8L144 252.3L135.9 252.3Z" fill="#00BA38"/>
<rect x="148.8" y="241.6" width="5.8" height="5.8" fill="#619CFF"/>
<path d="M176.2 236.5L180.2 243L172.1 243Z" fill="#00BA38"/>
<path d="M156.9 251.7L161 258.2L152.9 258.2Z" fill="#00BA38"/>
<rect x="253.4" y="312.6" width="5.8" height="5.8" fill="#619CFF"/>
<rect x="163.5" y="244.2" width="5.8" height="5.8" fill="#619CFF"/>
<path d="M206.1 209.6L210.1 216.2L202 216.2Z" fill="#00BA38"/>
<rect x="159.5" y="248.4" width="5.8" height="5.8" fill="#619CFF"/>
<path d="M186 221.1L190 227.7L181.9 227.7Z" fill="#00BA38"/>
<path d="M192.6 220.8L196.7 227.3L188.6 227.3Z" fill="#00BA38"/>
<circle cx="200" cy="258.7" r="3" fill="#F8766D"/>
<rect x="324.1" y="194.1" width="5.8" height="5.8" fill="#619CFF"/>
<rect x="162.1" y="252.1" width="5.8" height="5.8" fill="#619CFF"/>
<path d="M198.7 268L202.7 274.5L194.6 274.5Z" fill="#00BA38"/>
<rect x="157.4" y="272.9" width="5.8" height="5.8" fill="#619CFF"/>
<rect x="146.3" y="262" width="5.8" height="5.8" fill="#619CFF"/>
<path d="M153.5 260L161 253.5V267.5Z" fill="#F8766D"/>
<path d="M129.4 240.3L200 258.7L210 274.3L172 276.6L145 268.6Z" fill="none" stroke="#F8766D" stroke-width="0.95" stroke-linejoin="round"/>
<path d="M127 236L145.8 214.3L226.7 150.8L346 51L1074 243.5L422.5 516L190 342L162.7 322.7L160 322L134 251Z" fill="none" stroke="#00BA38" stroke-width="1.1" stroke-linejoin="round"/>
<path d="M127.5 238L146.5 216.3L226.7 152.5L696 136L594.2 281.8L272 372L194.8 348.5L160 322L134 251Z" fill="none" stroke="#619CFF" stroke-width="1.1" stroke-linejoin="round"/>
<path d="M102.5 225L142 257.6" stroke="#5A5A5A" stroke-width="1" fill="none"/>
<path d="M116.7 249L138 254.8" stroke="#5A5A5A" stroke-width="1" fill="none"/>
<path d="M140.7 209.5L145 247.7" stroke="#5A5A5A" stroke-width="1" fill="none"/>
<path d="M105.3 283L145 271.8" stroke="#5A5A5A" stroke-width="1" fill="none"/>
<path d="M108 307L146.4 272.4" stroke="#5A5A5A" stroke-width="1" fill="none"/>
<path d="M215.8 211L156.3 257" stroke="#5A5A5A" stroke-width="1" fill="none"/>
<path d="M224.3 236.5L189.7 247.7" stroke="#5A5A5A" stroke-width="1" fill="none"/>
<path d="M210 252.8L179 258.2" stroke="#5A5A5A" stroke-width="1" fill="none"/>
<path d="M173.3 222L146 248.8" stroke="#5A5A5A" stroke-width="1" fill="none"/>
<path d="M172 239L163.3 241.5" stroke="#5A5A5A" stroke-width="1" fill="none"/>
<path d="M218.6 276L147.8 266" stroke="#5A5A5A" stroke-width="1" fill="none"/>
<path d="M196 286L153.5 270.5" stroke="#5A5A5A" stroke-width="1" fill="none"/>
<path d="M153.5 291.5L150 274.5" stroke="#5A5A5A" stroke-width="1" fill="none"/>
<path d="M166 311.5L155 274.5" stroke="#5A5A5A" stroke-width="1" fill="none"/>
<path d="M135 272L146 273" stroke="#5A5A5A" stroke-width="1" fill="none"/>
<circle cx="136" cy="249.5" r="2.5" fill="#595959"/>
<circle cx="141" cy="256" r="2.5" fill="#595959"/>
<circle cx="145" cy="262" r="2.5" fill="#595959"/>
<circle cx="148" cy="267" r="2.5" fill="#595959"/>
<circle cx="163.3" cy="241.5" r="2.5" fill="#595959"/>
<circle cx="146" cy="248.8" r="2.5" fill="#595959"/>
<circle cx="190" cy="247.5" r="2.5" fill="#595959"/>
<circle cx="156" cy="256.8" r="2.5" fill="#595959"/>
<circle cx="179.3" cy="258.5" r="2.5" fill="#595959"/>
<circle cx="138.7" cy="252.8" r="2.5" fill="#595959"/>
<circle cx="143.3" cy="259.5" r="2.5" fill="#595959"/>
<circle cx="146.7" cy="264.2" r="2.5" fill="#595959"/>
<circle cx="146" cy="273.5" r="2.5" fill="#595959"/>
<circle cx="150" cy="269.5" r="2.5" fill="#595959"/>
<circle cx="154.7" cy="270.8" r="2.5" fill="#595959"/>
<circle cx="215.3" cy="288.4" r="2.5" fill="#595959"/>
<circle cx="346" cy="51" r="2.5" fill="#595959"/>
<circle cx="696" cy="136" r="2.5" fill="#595959"/>
<circle cx="1074" cy="243.5" r="2.5" fill="#595959"/>
<circle cx="594.2" cy="281.8" r="2.5" fill="#595959"/>
<circle cx="422.5" cy="516" r="2.5" fill="#595959"/>
<circle cx="272" cy="372" r="2.5" fill="#595959"/>
<text x="133.6" y="201.3" font-size="12" fill="#6B6B6B" text-anchor="middle">EOS</text>
<text x="100.5" y="224.8" font-size="12" fill="#6B6B6B" text-anchor="middle">BTC</text>
<text x="173" y="217.7" font-size="12" fill="#6B6B6B" text-anchor="middle">LINK</text>
<text x="213" y="208.6" font-size="12" fill="#6B6B6B" text-anchor="middle">XTO</text>
<text x="133.6" y="241.3" font-size="12" fill="#6B6B6B" text-anchor="middle">ETC</text>
<text x="180" y="240.3" font-size="12" fill="#6B6B6B" text-anchor="middle">PLR</text>
<text x="245.5" y="234.1" font-size="12" fill="#6B6B6B" text-anchor="middle">YAC</text>
<text x="99.7" y="255.9" font-size="12" fill="#6B6B6B" text-anchor="middle">ETH</text>
<text x="223" y="257.3" font-size="12" fill="#6B6B6B" text-anchor="middle">LTCU</text>
<text x="126.6" y="277.2" font-size="12" fill="#6B6B6B" text-anchor="middle">PPC</text>
<text x="174.7" y="275.8" font-size="12" fill="#6B6B6B" text-anchor="middle">ZSC</text>
<text x="225.7" y="278" font-size="12" fill="#6B6B6B" text-anchor="middle">XST</text>
<text x="101" y="300.7" font-size="12" fill="#6B6B6B" text-anchor="middle">HSR</text>
<text x="145" y="300.7" font-size="12" fill="#6B6B6B" text-anchor="middle">SWT</text>
<text x="190.3" y="299.3" font-size="12" fill="#6B6B6B" text-anchor="middle">ICX</text>
<text x="234.8" y="304.1" font-size="12" fill="#6B6B6B" text-anchor="middle">ZNE</text>
<text x="105.3" y="323.3" font-size="12" fill="#6B6B6B" text-anchor="middle">NGC</text>
<text x="164" y="323.9" font-size="12" fill="#6B6B6B" text-anchor="middle">AIR</text>
<text x="291" y="369.3" font-size="12" fill="#6B6B6B" text-anchor="middle">NBT</text>
<text x="324" y="67.3" font-size="12" fill="#6B6B6B" text-anchor="middle">XMO</text>
<text x="676" y="150.8" font-size="12" fill="#6B6B6B" text-anchor="middle">XIN*</text>
<text x="1050" y="260.8" font-size="12" fill="#6B6B6B" text-anchor="middle">AMIS</text>
<text x="571.5" y="298.3" font-size="12" fill="#6B6B6B" text-anchor="middle">LBTC</text>
<text x="402" y="531.3" font-size="12" fill="#6B6B6B" text-anchor="middle">RIPT</text>
</g>
</svg></body></html>
